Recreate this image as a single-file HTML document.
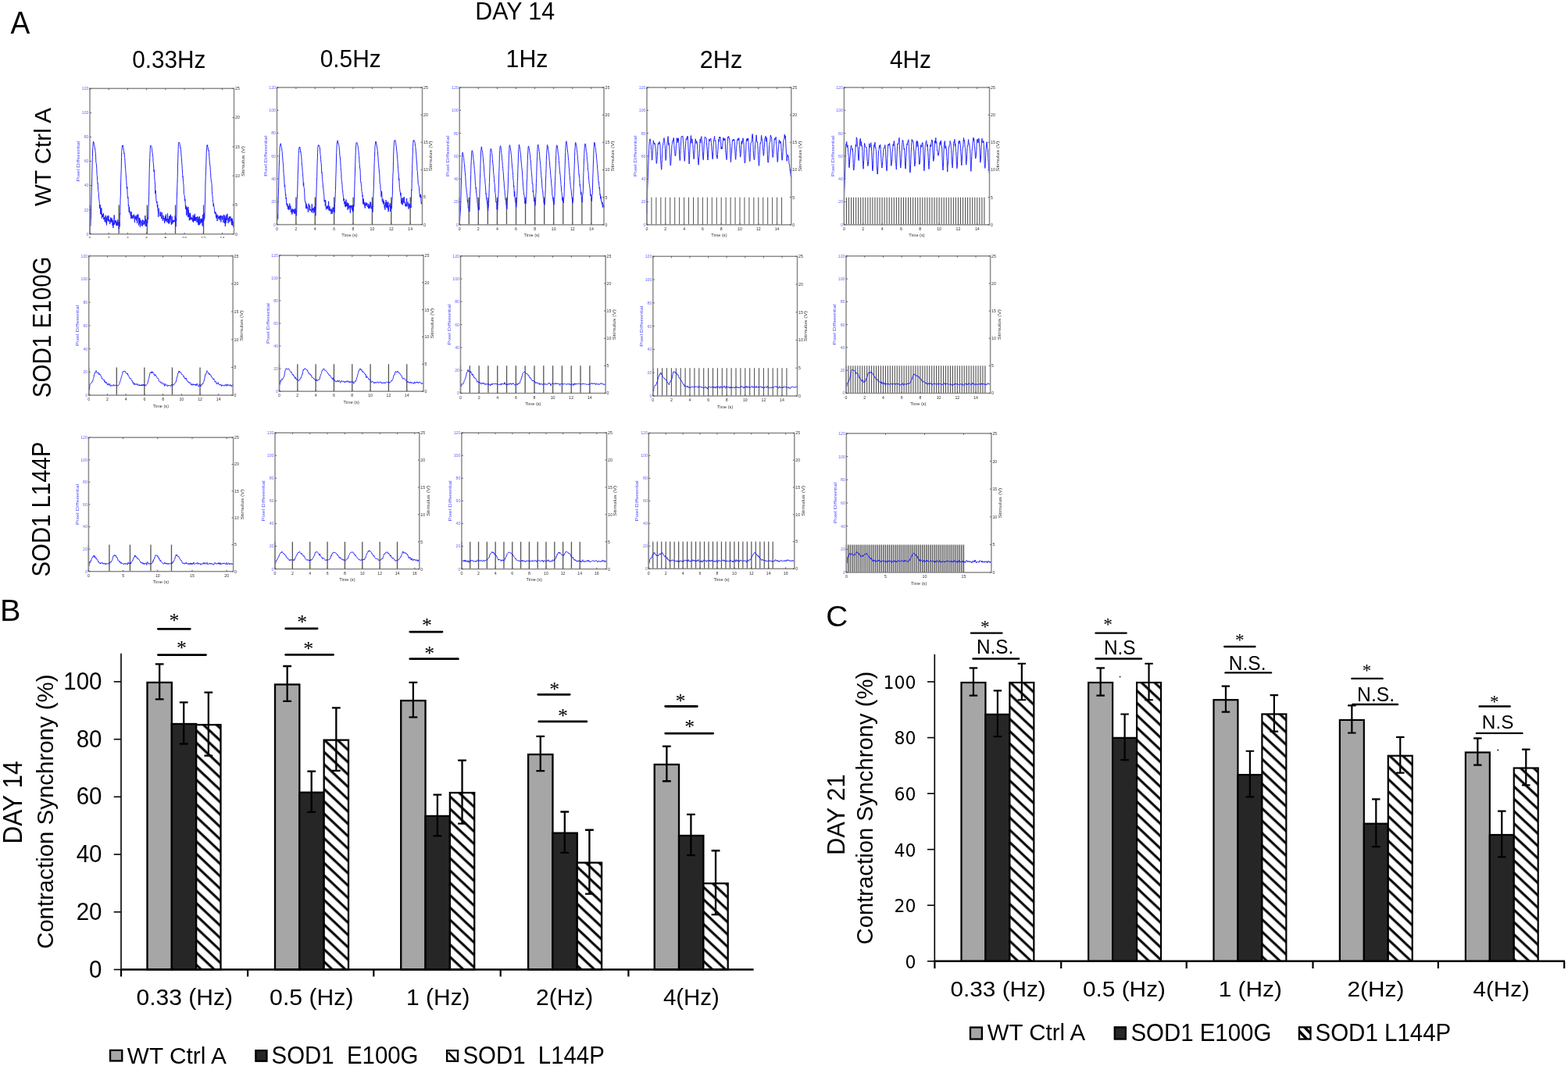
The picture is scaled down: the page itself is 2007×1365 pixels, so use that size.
<!DOCTYPE html>
<html><head><meta charset="utf-8"><title>Figure</title><style>html,body{margin:0;padding:0;background:#fff;}body{width:2007px;height:1365px;overflow:hidden;}svg{display:block;}</style></head><body>
<svg width="2007" height="1365" viewBox="0 0 2007 1365"><rect width="2007" height="1365" fill="#fff"/><defs><pattern id="hatch" patternUnits="userSpaceOnUse" width="11.5" height="11.5" patternTransform="rotate(43.28)"><rect width="11.5" height="11.5" fill="#fff"/><rect y="1.15" width="11.5" height="3.05" fill="#000"/></pattern><pattern id="hatchL" patternUnits="userSpaceOnUse" width="12" height="12" patternTransform="translate(0 1.5) rotate(45)"><rect width="12" height="12" fill="#fff"/><rect y="0" width="12" height="2.6" fill="#000"/></pattern><clipPath id="clipLB"><rect x="572" y="1345" width="14.1" height="13.9"/></clipPath><clipPath id="clipLC"><rect x="1663" y="1315.4" width="14.4" height="15.1"/></clipPath><clipPath id="clipP1"><rect x="100" y="290" width="220" height="15"/></clipPath><filter id="blur" x="-5%" y="-5%" width="110%" height="110%"><feGaussianBlur stdDeviation="0.45"/></filter></defs>
<g filter="url(#blur)">
<path d="M115 299.7V262.42M152.15 299.7V262.42M188.33 299.7V262.42M224.5 299.7V262.42M260.56 299.7V262.42" stroke="#555" stroke-width="1.3" fill="none"/>
<polyline points="115,288.82 115.3,287.62 115.61,289.69 115.91,289.4 116.21,282.05 116.51,275.76 116.81,261.83 117.12,246.38 117.42,239.06 117.72,226.48 118.03,212.05 118.33,201.54 118.63,192.97 118.93,187.56 119.23,182.65 119.54,180.94 119.84,183 120.14,182.73 120.44,185.18 120.75,185.87 121.05,188.23 121.35,188.47 121.66,192.23 121.96,193.07 122.26,196.35 122.56,200.32 122.86,207.87 123.17,208.64 123.47,211.91 123.77,215.84 124.08,223.6 124.38,225.78 124.68,231.33 124.98,235.26 125.28,234.63 125.59,243.52 125.89,245.21 126.19,246.12 126.5,253.78 126.8,255.48 127.1,257.63 127.4,260.38 127.7,267.01 128.01,264.81 128.31,262.3 128.61,274.01 128.91,267.09 129.22,270.99 129.52,274.85 129.82,266.3 130.12,271.62 130.43,279.53 130.73,275.51 131.03,274.21 131.34,277.53 131.64,274.72 131.94,277.89 132.24,275.48 132.55,272.88 132.85,281.09 133.15,278.04 133.45,280.78 133.75,278.77 134.06,283.95 134.36,281.85 134.66,280.58 134.97,276.59 135.27,275.82 135.57,285.39 135.87,283.54 136.18,278.19 136.48,288.44 136.78,282.74 137.08,281.48 137.38,276.42 137.69,278.73 137.99,282.78 138.29,283.07 138.59,282.74 138.9,276.02 139.2,283.68 139.5,283.32 139.81,280.9 140.11,282.85 140.41,283.26 140.71,286.92 141.01,282.75 141.32,284.54 141.62,278.38 141.92,280.47 142.22,283.21 142.53,280.6 142.83,284.63 143.13,279.29 143.44,283.51 143.74,281.29 144.04,288.71 144.34,282.38 144.65,290.44 144.95,291.88 145.25,285.18 145.55,287.59 145.86,283.49 146.16,275.38 146.46,287.55 146.76,286.8 147.06,283.61 147.37,282.54 147.67,285.24 147.97,285.42 148.28,281.9 148.58,282.68 148.88,288.87 149.18,285.16 149.49,284.77 149.79,289.13 150.09,283.99 150.39,288.46 150.69,281.27 151,284.4 151.3,284.86 151.6,287.61 151.91,285.78 152.21,293.28 152.51,289.89 152.81,283.44 153.12,290.22 153.42,273.03 153.72,274.44 154.02,256.12 154.32,249.97 154.63,233.89 154.93,223.89 155.23,215.96 155.53,201.49 155.84,193.63 156.14,189.93 156.44,187.09 156.75,186.47 157.05,187.39 157.35,185.9 157.65,188.55 157.96,189.32 158.26,191.83 158.56,193.7 158.86,196.96 159.17,196.33 159.47,201.31 159.77,202.91 160.07,207.96 160.38,212.99 160.68,216.31 160.98,220.85 161.28,223.81 161.59,228.78 161.89,232.72 162.19,239.44 162.49,241.98 162.8,239.09 163.1,249.04 163.4,253.57 163.7,252.58 164,252.12 164.31,263.78 164.61,262.25 164.91,265.86 165.22,271.68 165.52,264.94 165.82,269.1 166.12,270.13 166.43,274.26 166.73,270.99 167.03,275.49 167.33,274.85 167.63,279.07 167.94,280.08 168.24,271.18 168.54,278.45 168.84,275.88 169.15,277.44 169.45,279.28 169.75,279.82 170.06,275.79 170.36,279.54 170.66,279.19 170.96,278.73 171.26,274.55 171.57,276.61 171.87,277.91 172.17,281.67 172.47,284.95 172.78,276.22 173.08,276.3 173.38,280.68 173.69,278.21 173.99,277.42 174.29,277.37 174.59,277.15 174.9,282.57 175.2,275.11 175.5,285.87 175.8,277.86 176.11,279.4 176.41,278.05 176.71,274.27 177.01,275.9 177.31,286.19 177.62,288.41 177.92,278.79 178.22,286 178.53,282.21 178.83,278.99 179.13,288.75 179.43,290.66 179.74,281.52 180.04,282.45 180.34,283.67 180.64,282.64 180.94,286.24 181.25,288.88 181.55,283.69 181.85,286.92 182.16,289.63 182.46,281.27 182.76,283.57 183.06,281.8 183.37,287.36 183.67,286.12 183.97,287.53 184.27,287.15 184.57,282.96 184.88,286.87 185.18,282.44 185.48,282.56 185.79,275.97 186.09,289.52 186.39,280.56 186.69,284.48 187,284.23 187.3,289.96 187.6,286.09 187.9,281.38 188.21,284.69 188.51,284.09 188.81,285.59 189.11,278.42 189.42,279.04 189.72,280.51 190.02,266.17 190.32,259.67 190.62,251.25 190.93,231.96 191.23,216.61 191.53,208.76 191.84,201.53 192.14,194.02 192.44,187.08 192.74,186.2 193.05,186.26 193.35,186.67 193.65,187.32 193.95,187.57 194.25,189.23 194.56,191.38 194.86,195.07 195.16,195.61 195.47,200.06 195.77,200.61 196.07,207.66 196.37,209.49 196.68,213.08 196.98,219.58 197.28,217.5 197.58,221.93 197.88,230.24 198.19,231.31 198.49,236.13 198.79,247.82 199.09,243.81 199.4,248.11 199.7,250.91 200,257.45 200.31,257.78 200.61,260.04 200.91,257.86 201.21,262.73 201.51,265.73 201.82,262.08 202.12,270.77 202.42,271.49 202.72,277.73 203.03,266.55 203.33,269.56 203.63,270.45 203.94,271.98 204.24,274.59 204.54,274.68 204.84,276.84 205.14,277.04 205.45,276.41 205.75,271.24 206.05,275.08 206.36,277.64 206.66,279.83 206.96,280.25 207.26,271.98 207.56,276.31 207.87,278.15 208.17,279.89 208.47,282.95 208.77,279.15 209.08,275.71 209.38,280.69 209.68,280.2 209.99,280.32 210.29,279.19 210.59,285.85 210.89,280.77 211.19,283.28 211.5,276.72 211.8,283.21 212.1,278.13 212.41,274.59 212.71,281.8 213.01,283.03 213.31,280.07 213.62,280.92 213.92,284.87 214.22,279.33 214.52,273.39 214.82,282.32 215.13,282.2 215.43,285.57 215.73,280.35 216.03,286.55 216.34,286.09 216.64,276.85 216.94,285.47 217.25,277.79 217.55,276.13 217.85,281.16 218.15,280.08 218.46,274.66 218.76,283.16 219.06,284.79 219.36,287.85 219.67,282.43 219.97,276.85 220.27,278.95 220.57,286.5 220.88,286.22 221.18,284.9 221.48,281.82 221.78,283.84 222.08,282.24 222.39,281.96 222.69,284.37 222.99,283.4 223.3,282.47 223.6,283.67 223.9,281.4 224.2,276.03 224.5,281.14 224.81,283.3 225.11,290.09 225.41,279.19 225.72,282.83 226.02,272.77 226.32,255.25 226.62,244.85 226.93,235.4 227.23,226.77 227.53,212.13 227.83,202.18 228.13,191.7 228.44,183.66 228.74,182.34 229.04,182.43 229.35,182.83 229.65,182.3 229.95,183.33 230.25,185.65 230.56,185.89 230.86,189.39 231.16,188.99 231.46,191.7 231.76,194.63 232.07,200.27 232.37,202.33 232.67,207.24 232.97,211.75 233.28,215.83 233.58,222.1 233.88,226.8 234.19,225.91 234.49,232.37 234.79,235.35 235.09,237.06 235.4,248.32 235.7,249.21 236,249.65 236.3,251.99 236.61,257.17 236.91,255.17 237.21,260.11 237.51,266.97 237.81,267.9 238.12,263.55 238.42,266.16 238.72,275.8 239.02,265.32 239.33,268.95 239.63,267.06 239.93,274.08 240.24,274.39 240.54,278.01 240.84,264.91 241.14,275.4 241.44,269.18 241.75,277.86 242.05,275.12 242.35,282.28 242.66,277.69 242.96,272.76 243.26,281.41 243.56,272.82 243.87,275.79 244.17,281.21 244.47,279.33 244.77,279.33 245.07,277.93 245.38,279.95 245.68,281.21 245.98,279.36 246.29,282.28 246.59,283.43 246.89,278.8 247.19,275.36 247.5,284.77 247.8,279 248.1,281.64 248.4,283.03 248.71,276.08 249.01,281.5 249.31,273.81 249.61,282.74 249.91,278.33 250.22,280.82 250.52,282.97 250.82,277.86 251.12,280.84 251.43,277.99 251.73,280.62 252.03,284.76 252.34,281.02 252.64,280.51 252.94,277.05 253.24,284.42 253.55,281.12 253.85,287.79 254.15,278.57 254.45,285.44 254.75,288.36 255.06,281.58 255.36,277.08 255.66,287.49 255.97,285.84 256.27,284.56 256.57,286.14 256.87,280.27 257.17,285.01 257.48,284.73 257.78,279.65 258.08,284.99 258.38,280.35 258.69,285.96 258.99,286.96 259.29,289.49 259.6,274.92 259.9,283.6 260.2,281.41 260.5,282.55 260.81,281.84 261.11,282.22 261.41,272.94 261.71,280.02 262.01,274.83 262.32,263.77 262.62,254.15 262.92,236.97 263.23,225.65 263.53,218.41 263.83,208.79 264.13,198.54 264.44,190.01 264.74,190.63 265.04,185.77 265.34,187.39 265.64,185.67 265.95,188.65 266.25,188.95 266.55,191.8 266.86,193.09 267.16,192.38 267.46,195.54 267.76,200.03 268.06,203.9 268.37,209.03 268.67,210.25 268.97,213.4 269.27,217.4 269.58,221.39 269.88,227.67 270.18,229.33 270.49,233.19 270.79,233.6 271.09,235.59 271.39,244.49 271.7,249.66 272,250.76 272.3,255.33 272.6,258.48 272.9,258.77 273.21,264.25 273.51,260.76 273.81,264.94 274.12,265.3 274.42,268.21 274.72,271.37 275.02,273.26 275.32,271.65 275.63,273.6 275.93,271.46 276.23,272.94 276.54,278.49 276.84,273.67 277.14,279.32 277.44,276.98 277.75,276.1 278.05,283.07 278.35,275.2 278.65,275.21 278.96,276.59 279.26,277.8 279.56,277.8 279.86,280.26 280.16,277.76 280.47,279 280.77,276.7 281.07,281.8 281.38,276.45 281.68,276.95 281.98,278.18 282.28,279.45 282.59,275.79 282.89,284.42 283.19,276.39 283.49,277.35 283.8,277.31 284.1,277.05 284.4,281.16 284.7,279.76 285,276.4 285.31,277.31 285.61,278.28 285.91,285.05 286.22,277.2 286.52,274.84 286.82,275.55 287.12,278.66 287.42,285.73 287.73,276.08 288.03,280.42 288.33,289.81 288.63,278.54 288.94,285.93 289.24,285.24 289.54,282.74 289.85,275.35 290.15,281.86 290.45,279.42 290.75,273.7 291.06,274.37 291.36,281.1 291.66,281.71 291.96,285.78 292.26,283.62 292.57,279.27 292.87,279.45 293.17,280.63 293.48,277.21 293.78,284.23 294.08,281.46 294.38,278.41 294.69,279.04 294.99,277.17 295.29,279.88 295.59,282.72 295.89,280.11 296.2,285.56 296.5,288.13 296.8,279.38 297.11,281.94 297.41,280.55 297.71,288.54 298.01,283.3 298.31,284.27 298.62,285.36 298.92,290.92 299.22,283.33 299.52,278.47" fill="none" stroke="#1a1aff" stroke-width="0.95" stroke-linejoin="round"/>
<rect x="115" y="113.3" width="184.5" height="186.4" fill="none" stroke="#8a8a8a" stroke-width="1.5"/>
<path d="M115 299.7v-2M115 113.3v2M139.2 299.7v-2M139.2 113.3v2M163.4 299.7v-2M163.4 113.3v2M187.6 299.7v-2M187.6 113.3v2M211.8 299.7v-2M211.8 113.3v2M236 299.7v-2M236 113.3v2M260.2 299.7v-2M260.2 113.3v2M284.4 299.7v-2M284.4 113.3v2M115 299.7h2M115 268.63h2M115 237.57h2M115 206.5h2M115 175.43h2M115 144.37h2M115 113.3h2M299.5 299.7h-2M299.5 262.42h-2M299.5 225.14h-2M299.5 187.86h-2M299.5 150.58h-2M299.5 113.3h-2" stroke="#444" stroke-width="0.8" fill="none"/>
<text x="113.5" y="301.6" font-size="5.2" text-anchor="end" fill="#6a6aff" font-family="'Liberation Sans', Arial, sans-serif">0</text>
<text x="113.5" y="270.53" font-size="5.2" text-anchor="end" fill="#6a6aff" font-family="'Liberation Sans', Arial, sans-serif">20</text>
<text x="113.5" y="239.47" font-size="5.2" text-anchor="end" fill="#6a6aff" font-family="'Liberation Sans', Arial, sans-serif">40</text>
<text x="113.5" y="208.4" font-size="5.2" text-anchor="end" fill="#6a6aff" font-family="'Liberation Sans', Arial, sans-serif">60</text>
<text x="113.5" y="177.33" font-size="5.2" text-anchor="end" fill="#6a6aff" font-family="'Liberation Sans', Arial, sans-serif">80</text>
<text x="113.5" y="146.27" font-size="5.2" text-anchor="end" fill="#6a6aff" font-family="'Liberation Sans', Arial, sans-serif">100</text>
<text x="113.5" y="115.2" font-size="5.2" text-anchor="end" fill="#6a6aff" font-family="'Liberation Sans', Arial, sans-serif">120</text>
<text x="301" y="301.6" font-size="5.2" text-anchor="start" fill="#333" font-family="'Liberation Sans', Arial, sans-serif">0</text>
<text x="301" y="264.32" font-size="5.2" text-anchor="start" fill="#333" font-family="'Liberation Sans', Arial, sans-serif">5</text>
<text x="301" y="227.04" font-size="5.2" text-anchor="start" fill="#333" font-family="'Liberation Sans', Arial, sans-serif">10</text>
<text x="301" y="189.76" font-size="5.2" text-anchor="start" fill="#333" font-family="'Liberation Sans', Arial, sans-serif">15</text>
<text x="301" y="152.48" font-size="5.2" text-anchor="start" fill="#333" font-family="'Liberation Sans', Arial, sans-serif">20</text>
<text x="301" y="115.2" font-size="5.2" text-anchor="start" fill="#333" font-family="'Liberation Sans', Arial, sans-serif">25</text>
<g clip-path="url(#clipP1)">
<text x="115" y="306.9" font-size="5.2" text-anchor="middle" fill="#333" font-family="'Liberation Sans', Arial, sans-serif">0</text>
<text x="139.2" y="306.9" font-size="5.2" text-anchor="middle" fill="#333" font-family="'Liberation Sans', Arial, sans-serif">2</text>
<text x="163.4" y="306.9" font-size="5.2" text-anchor="middle" fill="#333" font-family="'Liberation Sans', Arial, sans-serif">4</text>
<text x="187.6" y="306.9" font-size="5.2" text-anchor="middle" fill="#333" font-family="'Liberation Sans', Arial, sans-serif">6</text>
<text x="211.8" y="306.9" font-size="5.2" text-anchor="middle" fill="#333" font-family="'Liberation Sans', Arial, sans-serif">8</text>
<text x="236" y="306.9" font-size="5.2" text-anchor="middle" fill="#333" font-family="'Liberation Sans', Arial, sans-serif">10</text>
<text x="260.2" y="306.9" font-size="5.2" text-anchor="middle" fill="#333" font-family="'Liberation Sans', Arial, sans-serif">12</text>
<text x="284.4" y="306.9" font-size="5.2" text-anchor="middle" fill="#333" font-family="'Liberation Sans', Arial, sans-serif">14</text>
</g>
<text x="102.2" y="206.5" font-size="6.2" text-anchor="middle" fill="#4a4aff" font-family="'Liberation Sans', Arial, sans-serif" transform="rotate(-90 102.2 206.5)" textLength="52" lengthAdjust="spacingAndGlyphs">Pixel Differential</text>
<text x="312.5" y="206.5" font-size="6.2" text-anchor="middle" fill="#333" font-family="'Liberation Sans', Arial, sans-serif" transform="rotate(-90 312.5 206.5)" textLength="39" lengthAdjust="spacingAndGlyphs">Stimulus (V)</text>
</g>
<g filter="url(#blur)">
<path d="M354.5 287.6V252.48M378.88 287.6V252.48M403.26 287.6V252.48M427.64 287.6V252.48M452.02 287.6V252.48M476.4 287.6V252.48M500.78 287.6V252.48M525.16 287.6V252.48" stroke="#555" stroke-width="1.3" fill="none"/>
<polyline points="354.5,279 354.8,282.31 355.11,280.07 355.41,274.64 355.72,279.83 356.02,263.02 356.33,250.65 356.63,238.6 356.94,224.4 357.24,213.81 357.55,204.35 357.85,195.43 358.16,188.53 358.46,186.21 358.77,185.2 359.07,184.4 359.38,183.71 359.68,186.23 359.99,187.26 360.29,188.57 360.6,189.41 360.9,193.2 361.2,194.31 361.51,200.38 361.81,202.97 362.12,206.81 362.42,209.32 362.73,212.95 363.03,221.63 363.34,224.93 363.64,226.71 363.95,232.9 364.25,238.85 364.56,236.73 364.86,241.46 365.17,244.67 365.47,250.14 365.78,248.8 366.08,254.66 366.39,253.03 366.69,260.63 366.99,262.14 367.3,260.44 367.6,264.36 367.91,261.24 368.21,263.36 368.52,267.73 368.82,265.29 369.13,267.13 369.43,263.62 369.74,268.85 370.04,268.57 370.35,263.65 370.65,260.64 370.96,261.61 371.26,267.94 371.57,267.63 371.87,263.61 372.18,269.05 372.48,271.92 372.79,268.57 373.09,267.63 373.39,271.87 373.7,274.62 374,274.07 374.31,267.43 374.61,272.13 374.92,270.25 375.22,269.21 375.53,268 375.83,271.19 376.14,268.58 376.44,273.18 376.75,271.56 377.05,273.8 377.36,266.88 377.66,270.73 377.97,273.13 378.27,271.95 378.58,271.6 378.88,268.67 379.18,276.24 379.49,274.29 379.79,269.56 380.1,255.33 380.4,253.16 380.71,247.15 381.01,235.03 381.32,221.98 381.62,216.08 381.93,206.85 382.23,197.27 382.54,192.61 382.84,189.48 383.15,189.98 383.45,187.94 383.76,188.3 384.06,189.93 384.37,190.86 384.67,194.83 384.98,194.14 385.28,197.25 385.58,199.19 385.89,201.85 386.19,206.45 386.5,211.98 386.8,212.74 387.11,218.44 387.41,221.76 387.72,226.31 388.02,229.78 388.33,237.86 388.63,233.88 388.94,239.52 389.24,240.67 389.55,241.4 389.85,249.15 390.16,256.6 390.46,256.46 390.77,259.4 391.07,259.19 391.37,259.03 391.68,266.53 391.98,260.69 392.29,267.26 392.59,262.58 392.9,264.52 393.2,265.73 393.51,265.48 393.81,267.35 394.12,267.94 394.42,271.62 394.73,266.68 395.03,260.99 395.34,260.75 395.64,263.02 395.95,265.14 396.25,269.69 396.56,263.08 396.86,268 397.17,268.18 397.47,269.01 397.77,267.91 398.08,269.72 398.38,268.7 398.69,272.03 398.99,269.85 399.3,261.39 399.6,269.07 399.91,269.71 400.21,267.31 400.52,266.83 400.82,272.82 401.13,269.97 401.43,266.39 401.74,268.58 402.04,269.14 402.35,264.55 402.65,271.89 402.96,269.48 403.26,271.52 403.56,265.02 403.87,276.21 404.17,269.27 404.48,263.45 404.78,252.26 405.09,243.17 405.39,230.94 405.7,226.2 406,211.11 406.31,203.03 406.61,195.35 406.92,188.32 407.22,186.48 407.53,186.91 407.83,185.48 408.14,186.63 408.44,186.63 408.75,186.82 409.05,188.36 409.36,188.99 409.66,193.13 409.96,197.42 410.27,199.7 410.57,203.41 410.88,207.63 411.18,209.09 411.49,214.88 411.79,221.45 412.1,220.71 412.4,226.34 412.71,229.33 413.01,233.67 413.32,236.05 413.62,240.84 413.93,240.93 414.23,245.84 414.54,248.51 414.84,250.77 415.15,258.1 415.45,256.27 415.75,258.14 416.06,258.13 416.36,264 416.67,255.96 416.97,261.44 417.28,266.2 417.58,268.37 417.89,264.46 418.19,264.29 418.5,266.63 418.8,264.41 419.11,266.99 419.41,263.47 419.72,267.72 420.02,265.74 420.33,262.68 420.63,257.77 420.94,269.32 421.24,267.74 421.55,269.08 421.85,264.01 422.15,270.33 422.46,268.32 422.76,266.98 423.07,270.15 423.37,270.19 423.68,268.75 423.98,274.1 424.29,272.09 424.59,268.85 424.9,267.12 425.2,268.3 425.51,273.54 425.81,269.38 426.12,265.36 426.42,266.22 426.73,268.37 427.03,271.08 427.34,266.2 427.64,270.22 427.94,272.22 428.25,270.86 428.55,260.74 428.86,259.35 429.16,248.8 429.47,243.66 429.77,229.28 430.08,221.2 430.38,209.15 430.69,195.45 430.99,189.68 431.3,185.04 431.6,181.39 431.91,180.5 432.21,179.76 432.52,181.39 432.82,183.22 433.13,183.08 433.43,184.37 433.74,186.26 434.04,187.4 434.34,191.27 434.65,193.84 434.95,199.85 435.26,200.95 435.56,202.98 435.87,209.11 436.17,214.2 436.48,218.63 436.78,219.53 437.09,229.23 437.39,231.45 437.7,233.87 438,236.65 438.31,242.84 438.61,243.9 438.92,248.16 439.22,249.49 439.53,252.34 439.83,257.14 440.13,255.55 440.44,254.3 440.74,261.02 441.05,259.88 441.35,257.99 441.66,264.06 441.96,260.82 442.27,265.21 442.57,258.81 442.88,255.49 443.18,256.71 443.49,264.04 443.79,261.26 444.1,263.44 444.4,263.7 444.71,259.28 445.01,268.58 445.32,261.17 445.62,264.84 445.93,260.32 446.23,264.36 446.53,267.25 446.84,264.33 447.14,262.97 447.45,265.34 447.75,264 448.06,267.36 448.36,272.68 448.67,262.98 448.97,263.73 449.28,265.61 449.58,265.96 449.89,262.91 450.19,267.85 450.5,268.75 450.8,267.15 451.11,262.74 451.41,271.22 451.72,262.88 452.02,268.93 452.32,270.51 452.63,262.45 452.93,264.42 453.24,262.89 453.54,252.26 453.85,239.36 454.15,228.46 454.46,221 454.76,208.74 455.07,198.72 455.37,192.4 455.68,185.56 455.98,182.79 456.29,182.69 456.59,182.65 456.9,182.38 457.2,183.12 457.51,184.74 457.81,186.13 458.12,186.55 458.42,189.78 458.72,191.75 459.03,194.39 459.33,198.52 459.64,199.73 459.94,208.18 460.25,209.59 460.55,215.63 460.86,215.66 461.16,219.84 461.47,231.44 461.77,233.27 462.08,233.16 462.38,236.19 462.69,239.41 462.99,244.36 463.3,245.56 463.6,247.32 463.91,251.42 464.21,250.06 464.51,261.23 464.82,254.1 465.12,260.26 465.43,255.25 465.73,259.7 466.04,262.45 466.34,259.16 466.65,263.67 466.95,264.12 467.26,266.55 467.56,262.03 467.87,260.66 468.17,259.23 468.48,263.13 468.78,259.55 469.09,262.99 469.39,263.51 469.7,261.54 470,260.13 470.31,264.74 470.61,264.56 470.91,264.42 471.22,263.76 471.52,267.04 471.83,260.94 472.13,265.65 472.44,262.98 472.74,267.24 473.05,263.51 473.35,263.5 473.66,266.23 473.96,258.4 474.27,263.84 474.57,259.36 474.88,262.09 475.18,267.45 475.49,266.62 475.79,264.03 476.1,265.32 476.4,265.43 476.7,266.6 477.01,271.51 477.31,263.63 477.62,264.63 477.92,249.12 478.23,242.82 478.53,232.12 478.84,220.02 479.14,208.55 479.45,201.38 479.75,193.5 480.06,186.86 480.36,184.5 480.67,183.05 480.97,180.9 481.28,183.33 481.58,182.56 481.89,185.43 482.19,185.4 482.5,187.9 482.8,189.95 483.1,191.94 483.41,193.49 483.71,198.78 484.02,202.49 484.32,208.02 484.63,209.52 484.93,214.99 485.24,217.03 485.54,222.73 485.85,222.84 486.15,234.79 486.46,234.6 486.76,235.1 487.07,241.25 487.37,245.29 487.68,246.5 487.98,251.91 488.29,249.79 488.59,244.88 488.89,250.13 489.2,258.12 489.5,258.61 489.81,258.2 490.11,254.73 490.42,261.04 490.72,261.24 491.03,256.85 491.33,257.33 491.64,261.56 491.94,264.22 492.25,265.86 492.55,263.42 492.86,268.49 493.16,259.23 493.47,263.79 493.77,260.41 494.08,256.13 494.38,258.49 494.69,266.05 494.99,259.71 495.29,258.91 495.6,265.14 495.9,265.92 496.21,263.32 496.51,268.24 496.82,258.43 497.12,271.05 497.43,266.96 497.73,264.35 498.04,264.3 498.34,263.12 498.65,262.86 498.95,264.52 499.26,260.21 499.56,270.95 499.87,264.07 500.17,266.47 500.48,263.78 500.78,263.56 501.08,267.33 501.39,266.27 501.69,258.92 502,255.14 502.3,250.56 502.61,233.79 502.91,223.17 503.22,220.27 503.52,206.1 503.83,193.42 504.13,187.91 504.44,182.78 504.74,180.02 505.05,179.77 505.35,179.49 505.66,179.97 505.96,179.57 506.27,181.66 506.57,183.23 506.88,185.95 507.18,187.16 507.48,190.88 507.79,193.2 508.09,195.02 508.4,199.59 508.7,203.24 509.01,207.48 509.31,212.1 509.62,216.59 509.92,221.07 510.23,222.81 510.53,230.71 510.84,228.76 511.14,235.24 511.45,240.39 511.75,242.67 512.06,245.83 512.36,245.91 512.67,250.46 512.97,246.96 513.27,254.14 513.58,259.97 513.88,256.59 514.19,261.49 514.49,256.37 514.8,253.7 515.1,255.56 515.41,262.24 515.71,260.9 516.02,253.3 516.32,258.2 516.63,259.46 516.93,256.38 517.24,252.16 517.54,256.01 517.85,259.86 518.15,259.34 518.46,258.65 518.76,262.72 519.07,264.29 519.37,260.86 519.67,264.2 519.98,261.48 520.28,261.09 520.59,253.98 520.89,264.36 521.2,262.12 521.5,262.36 521.81,260.52 522.11,258.64 522.42,263.71 522.72,264.88 523.03,267.63 523.33,265.4 523.64,260.73 523.94,262.4 524.25,265.94 524.55,263.92 524.86,262.68 525.16,261.21 525.46,264.86 525.77,263.54 526.07,266.11 526.38,258.54 526.68,242.74 526.99,243.85 527.29,228.44 527.6,216.32 527.9,206.75 528.21,197.65 528.51,188.7 528.82,182.93 529.12,179.9 529.43,180.89 529.73,179.44 530.04,180.23 530.34,180.68 530.65,181.07 530.95,182.16 531.25,183.77 531.56,187.51 531.86,188.64 532.17,191.31 532.47,194.63 532.78,197.79 533.08,203.87 533.39,207.92 533.69,210.22 534,218.38 534.3,219.38 534.61,224.87 534.91,228.34 535.22,235.19 535.52,236.64 535.83,237.62 536.13,238.08 536.44,240.32 536.74,245.53 537.05,247.89 537.35,251.55 537.65,249.54 537.96,252.8 538.26,251.41 538.57,248.9 538.87,255.15 539.18,260.36 539.48,259.01 539.79,261.39 540.09,261.02 540.4,253.55" fill="none" stroke="#1a1aff" stroke-width="0.95" stroke-linejoin="round"/>
<rect x="354.5" y="112" width="186" height="175.6" fill="none" stroke="#8a8a8a" stroke-width="1.5"/>
<path d="M354.5 287.6v-2M354.5 112v2M378.88 287.6v-2M378.88 112v2M403.26 287.6v-2M403.26 112v2M427.64 287.6v-2M427.64 112v2M452.02 287.6v-2M452.02 112v2M476.4 287.6v-2M476.4 112v2M500.78 287.6v-2M500.78 112v2M525.16 287.6v-2M525.16 112v2M354.5 287.6h2M354.5 258.33h2M354.5 229.07h2M354.5 199.8h2M354.5 170.53h2M354.5 141.27h2M354.5 112h2M540.5 287.6h-2M540.5 252.48h-2M540.5 217.36h-2M540.5 182.24h-2M540.5 147.12h-2M540.5 112h-2" stroke="#444" stroke-width="0.8" fill="none"/>
<text x="353" y="289.5" font-size="5.2" text-anchor="end" fill="#6a6aff" font-family="'Liberation Sans', Arial, sans-serif">0</text>
<text x="353" y="260.23" font-size="5.2" text-anchor="end" fill="#6a6aff" font-family="'Liberation Sans', Arial, sans-serif">20</text>
<text x="353" y="230.97" font-size="5.2" text-anchor="end" fill="#6a6aff" font-family="'Liberation Sans', Arial, sans-serif">40</text>
<text x="353" y="201.7" font-size="5.2" text-anchor="end" fill="#6a6aff" font-family="'Liberation Sans', Arial, sans-serif">60</text>
<text x="353" y="172.43" font-size="5.2" text-anchor="end" fill="#6a6aff" font-family="'Liberation Sans', Arial, sans-serif">80</text>
<text x="353" y="143.17" font-size="5.2" text-anchor="end" fill="#6a6aff" font-family="'Liberation Sans', Arial, sans-serif">100</text>
<text x="353" y="113.9" font-size="5.2" text-anchor="end" fill="#6a6aff" font-family="'Liberation Sans', Arial, sans-serif">120</text>
<text x="542" y="289.5" font-size="5.2" text-anchor="start" fill="#333" font-family="'Liberation Sans', Arial, sans-serif">0</text>
<text x="542" y="254.38" font-size="5.2" text-anchor="start" fill="#333" font-family="'Liberation Sans', Arial, sans-serif">5</text>
<text x="542" y="219.26" font-size="5.2" text-anchor="start" fill="#333" font-family="'Liberation Sans', Arial, sans-serif">10</text>
<text x="542" y="184.14" font-size="5.2" text-anchor="start" fill="#333" font-family="'Liberation Sans', Arial, sans-serif">15</text>
<text x="542" y="149.02" font-size="5.2" text-anchor="start" fill="#333" font-family="'Liberation Sans', Arial, sans-serif">20</text>
<text x="542" y="113.9" font-size="5.2" text-anchor="start" fill="#333" font-family="'Liberation Sans', Arial, sans-serif">25</text>
<text x="354.5" y="294.8" font-size="5.2" text-anchor="middle" fill="#333" font-family="'Liberation Sans', Arial, sans-serif">0</text>
<text x="378.88" y="294.8" font-size="5.2" text-anchor="middle" fill="#333" font-family="'Liberation Sans', Arial, sans-serif">2</text>
<text x="403.26" y="294.8" font-size="5.2" text-anchor="middle" fill="#333" font-family="'Liberation Sans', Arial, sans-serif">4</text>
<text x="427.64" y="294.8" font-size="5.2" text-anchor="middle" fill="#333" font-family="'Liberation Sans', Arial, sans-serif">6</text>
<text x="452.02" y="294.8" font-size="5.2" text-anchor="middle" fill="#333" font-family="'Liberation Sans', Arial, sans-serif">8</text>
<text x="476.4" y="294.8" font-size="5.2" text-anchor="middle" fill="#333" font-family="'Liberation Sans', Arial, sans-serif">10</text>
<text x="500.78" y="294.8" font-size="5.2" text-anchor="middle" fill="#333" font-family="'Liberation Sans', Arial, sans-serif">12</text>
<text x="525.16" y="294.8" font-size="5.2" text-anchor="middle" fill="#333" font-family="'Liberation Sans', Arial, sans-serif">14</text>
<text x="447.5" y="303.1" font-size="5.6" text-anchor="middle" fill="#333" font-family="'Liberation Sans', Arial, sans-serif">Time (s)</text>
<text x="341.7" y="199.8" font-size="6.2" text-anchor="middle" fill="#4a4aff" font-family="'Liberation Sans', Arial, sans-serif" transform="rotate(-90 341.7 199.8)" textLength="52" lengthAdjust="spacingAndGlyphs">Pixel Differential</text>
<text x="553.5" y="199.8" font-size="6.2" text-anchor="middle" fill="#333" font-family="'Liberation Sans', Arial, sans-serif" transform="rotate(-90 553.5 199.8)" textLength="39" lengthAdjust="spacingAndGlyphs">Stimulus (V)</text>
</g>
<g filter="url(#blur)">
<path d="M588.2 287.8V252.64M600.25 287.8V252.64M612.3 287.8V252.64M624.35 287.8V252.64M636.4 287.8V252.64M648.45 287.8V252.64M660.5 287.8V252.64M672.55 287.8V252.64M684.6 287.8V252.64M696.65 287.8V252.64M708.7 287.8V252.64M720.75 287.8V252.64M732.8 287.8V252.64M744.85 287.8V252.64M756.9 287.8V252.64" stroke="#555" stroke-width="1.3" fill="none"/>
<polyline points="588.2,279.94 588.5,284.04 588.8,278.03 589.1,273.01 589.41,270.32 589.71,262.44 590.01,251.7 590.31,239.78 590.61,228.34 590.91,217.44 591.21,208.5 591.51,201.5 591.82,196.73 592.12,195.17 592.42,197.13 592.72,197.53 593.02,198.87 593.32,201.34 593.62,202.75 593.92,206.38 594.23,209.82 594.53,210.93 594.83,214.98 595.13,218.95 595.43,221.8 595.73,225.3 596.03,229.87 596.33,237.28 596.63,238.63 596.94,241.93 597.24,246.22 597.54,247.7 597.84,249.18 598.14,254.94 598.44,258.88 598.74,255.75 599.05,262.65 599.35,266.32 599.65,265.48 599.95,266.88 600.25,270.74 600.55,269.15 600.85,271.03 601.15,268.57 601.46,260.34 601.76,251.46 602.06,244.85 602.36,233.21 602.66,223.66 602.96,210.91 603.26,206.13 603.56,197.87 603.87,194.52 604.17,192.7 604.47,192.86 604.77,194 605.07,195.38 605.37,198.02 605.67,201.09 605.97,203.79 606.28,205.94 606.58,209.1 606.88,211.72 607.18,216.26 607.48,219.25 607.78,222.43 608.08,227.83 608.38,233.8 608.69,237.21 608.99,241.31 609.29,240.29 609.59,247.45 609.89,247.25 610.19,251.3 610.49,252.09 610.79,255.92 611.1,260.34 611.4,262.74 611.7,264.2 612,265.84 612.3,268.88 612.6,269.34 612.9,264.65 613.2,268.69 613.5,258.32 613.81,252.58 614.11,240.93 614.41,229.58 614.71,220.37 615.01,209.5 615.31,202.99 615.61,193.92 615.92,190.54 616.22,187.87 616.52,188.81 616.82,191.84 617.12,192.44 617.42,193.9 617.72,195.38 618.02,199.12 618.33,202.23 618.63,207.1 618.93,208 619.23,211.26 619.53,216.96 619.83,221.18 620.13,226.9 620.43,227.62 620.74,228.88 621.04,235.37 621.34,238.13 621.64,242.69 621.94,248.49 622.24,247.69 622.54,255.08 622.84,255.99 623.15,257.58 623.45,258.7 623.75,261.65 624.05,263.58 624.35,267.56 624.65,270.17 624.95,266.55 625.25,264.9 625.56,260.31 625.86,252.27 626.16,241.48 626.46,233.43 626.76,222.22 627.06,212.66 627.36,202.37 627.66,195.63 627.97,190.29 628.27,190.58 628.57,190.77 628.87,191.07 629.17,193.45 629.47,195.58 629.77,196.51 630.07,200.77 630.38,204.51 630.68,208 630.98,209.96 631.28,213.6 631.58,219.19 631.88,222.65 632.18,224.66 632.48,228.38 632.79,233.8 633.09,235.66 633.39,239.23 633.69,246.35 633.99,247.24 634.29,249.04 634.59,253.6 634.89,259.11 635.2,258.17 635.5,258.44 635.8,258.82 636.1,268.05 636.4,260.11 636.7,269.13 637,263.73 637.3,259.69 637.61,254.46 637.91,248.3 638.21,241.17 638.51,227.92 638.81,219.36 639.11,211.28 639.41,197.49 639.71,192.66 640.02,187.53 640.32,187.31 640.62,186.57 640.92,187.75 641.22,189.43 641.52,192.55 641.82,195.88 642.12,197.92 642.43,202.72 642.73,205.74 643.03,207.65 643.33,212.48 643.63,215.45 643.93,219.28 644.23,220.64 644.53,225.24 644.84,230.85 645.14,232.75 645.44,239.32 645.74,242.12 646.04,243.35 646.34,250.08 646.64,251.33 646.94,255.92 647.25,255.78 647.55,255.15 647.85,261.78 648.15,261.73 648.45,265.66 648.75,267.7 649.05,267.35 649.35,257.72 649.66,250.06 649.96,246.18 650.26,238.92 650.56,226.33 650.86,217.4 651.16,206.26 651.46,198.25 651.76,191.51 652.07,186.83 652.37,185.65 652.67,186.23 652.97,188.36 653.27,189.28 653.57,192.07 653.87,193.66 654.17,197.1 654.48,199.35 654.78,202.37 655.08,207.72 655.38,210.9 655.68,214.94 655.98,216.91 656.28,219.57 656.58,224.49 656.88,229.94 657.19,231.05 657.49,239.14 657.79,237.89 658.09,244.66 658.39,251.44 658.69,244.89 658.99,249.4 659.3,256.67 659.6,256.69 659.9,259.5 660.2,260.74 660.5,265.61 660.8,265.52 661.1,262.18 661.4,259.33 661.71,251.46 662.01,246.02 662.31,232.8 662.61,227.84 662.91,216.16 663.21,208.83 663.51,199.4 663.81,190.65 664.12,187.77 664.42,184.99 664.72,186.01 665.02,187.91 665.32,189.17 665.62,191.37 665.92,193.81 666.22,195.61 666.53,198.71 666.83,203.09 667.13,206.96 667.43,209.46 667.73,213.65 668.03,216.18 668.33,217.94 668.63,224 668.94,228.96 669.24,232.87 669.54,237.5 669.84,241.06 670.14,244.52 670.44,246.6 670.74,249.54 671.04,250.09 671.35,254.63 671.65,256.51 671.95,260.54 672.25,256.76 672.55,260.66 672.85,259.52 673.15,260.48 673.45,255.65 673.76,253.87 674.06,244.36 674.36,232.05 674.66,228.79 674.96,215.48 675.26,205.78 675.56,198.99 675.86,192.32 676.17,187.78 676.47,187.16 676.77,187.17 677.07,189.22 677.37,190.76 677.67,192.76 677.97,194.79 678.27,197.25 678.58,199.95 678.88,204.87 679.18,205 679.48,209.3 679.78,213.39 680.08,218.4 680.38,221.84 680.68,224.73 680.99,228.58 681.29,235.28 681.59,235.07 681.89,234.79 682.19,245.86 682.49,243.95 682.79,247.81 683.09,251.27 683.4,250.82 683.7,257.93 684,257.28 684.3,256.42 684.6,261.41 684.9,263.33 685.2,261.33 685.5,259.27 685.81,249.17 686.11,246.68 686.41,234.22 686.71,227.81 687.01,214.94 687.31,206.44 687.61,200.35 687.91,191.48 688.22,187.83 688.52,185.57 688.82,185.01 689.12,187.93 689.42,189.57 689.72,189.85 690.02,193.16 690.32,194.69 690.62,198.64 690.93,202.96 691.23,205.63 691.53,207.83 691.83,211.76 692.13,216.6 692.43,220.31 692.73,224.29 693.04,228.67 693.34,228.53 693.64,234.92 693.94,240.12 694.24,242.25 694.54,243.14 694.84,246.04 695.14,250.06 695.45,253.47 695.75,254.33 696.05,259.71 696.35,260.81 696.65,258.13 696.95,262.23 697.25,259.5 697.55,254.27 697.86,250.05 698.16,243.89 698.46,231.18 698.76,224.19 699.06,215.81 699.36,205.19 699.66,197.45 699.96,192.02 700.27,187.06 700.57,185.4 700.87,187.16 701.17,187.3 701.47,189 701.77,191.12 702.07,194.39 702.37,196.09 702.68,198.78 702.98,201.83 703.28,206.44 703.58,208.17 703.88,213.88 704.18,216.47 704.48,218.25 704.78,224.58 705.09,228.03 705.39,229.24 705.69,234.9 705.99,238.08 706.29,240.34 706.59,241.82 706.89,250.43 707.19,250.53 707.5,253.26 707.8,255.62 708.1,257.16 708.4,258.94 708.7,258.21 709,262.12 709.3,259.15 709.6,255.25 709.91,252.21 710.21,242.92 710.51,231.43 710.81,224.22 711.11,215.79 711.41,205.8 711.71,198.48 712.01,191.1 712.32,186.53 712.62,185.79 712.92,186.07 713.22,186.45 713.52,189.1 713.82,190.6 714.12,193.82 714.42,196.33 714.73,199.01 715.03,199.74 715.33,205.45 715.63,209.09 715.93,212.77 716.23,216 716.53,218.66 716.83,222.9 717.14,223.88 717.44,229.96 717.74,231.45 718.04,236.48 718.34,239 718.64,245.39 718.94,245.86 719.24,248.28 719.55,250.94 719.85,256.72 720.15,252.84 720.45,257.07 720.75,258.76 721.05,259.81 721.35,258.96 721.65,254.1 721.96,251.91 722.26,243.24 722.56,231.69 722.86,221.91 723.16,212.4 723.46,202.88 723.76,194.56 724.06,187.22 724.37,182.03 724.67,181.53 724.97,180.66 725.27,182.31 725.57,184.79 725.87,185.99 726.17,190.01 726.47,193.01 726.78,195.74 727.08,198.28 727.38,201.68 727.68,205.51 727.98,208.6 728.28,215.02 728.58,215.69 728.88,221.99 729.19,224.77 729.49,228.09 729.79,232.78 730.09,236.56 730.39,239.24 730.69,240.61 730.99,242.36 731.29,245 731.6,250.28 731.9,252.15 732.2,254.44 732.5,253.57 732.8,260.19 733.1,255.03 733.4,257.86 733.7,255.22 734.01,247.18 734.31,238.42 734.61,230.97 734.91,220.32 735.21,211.95 735.51,201.55 735.81,193.68 736.11,188.46 736.42,183.26 736.72,182.27 737.02,182.96 737.32,184.82 737.62,186.04 737.92,187.3 738.22,191.13 738.52,192.29 738.83,195.43 739.13,198.64 739.43,204.39 739.73,205.87 740.03,208.66 740.33,213.97 740.63,216.66 740.93,223.62 741.24,223.16 741.54,228.6 741.84,229.72 742.14,237.27 742.44,236.29 742.74,240.77 743.04,241.67 743.34,247.32 743.65,249.13 743.95,245.85 744.25,253.69 744.55,255.24 744.85,255.98 745.15,258.93 745.45,253.28 745.75,248.99 746.06,248.95 746.36,243.57 746.66,229.57 746.96,220.55 747.26,211.67 747.56,202.5 747.86,196.63 748.16,189.8 748.47,186.44 748.77,184.67 749.07,183.87 749.37,186.07 749.67,185.73 749.97,189.09 750.27,191.87 750.57,193.34 750.88,195.28 751.18,199.43 751.48,204.32 751.78,206.16 752.08,208.54 752.38,214.22 752.68,218.21 752.98,219.47 753.29,224.15 753.59,229.39 753.89,231.68 754.19,235.48 754.49,236.8 754.79,239.95 755.09,240.76 755.39,243.97 755.7,250.44 756,248.83 756.3,249.76 756.6,252.31 756.9,252.68 757.2,257.25 757.5,257.54 757.8,250.02 758.11,248.91 758.41,243.52 758.71,228.85 759.01,222.25 759.31,211.95 759.61,203.96 759.91,195.69 760.21,189.12 760.52,184.35 760.82,182.15 761.12,184.38 761.42,183.72 761.72,186.54 762.02,188.43 762.32,189.46 762.62,192.59 762.93,196.68 763.23,196.79 763.53,202.57 763.83,204.9 764.13,208.46 764.43,210.61 764.73,216.46 765.03,218.14 765.34,224.05 765.64,224.82 765.94,230.96 766.24,233.56 766.54,232.86 766.84,238.31 767.14,241.33 767.44,239.92 767.75,245.6 768.05,249.92 768.35,248.84 768.65,254.32 768.95,251.26 769.25,252.45 769.55,257.32 769.85,258.54 770.16,257.83 770.46,259.02 770.76,261.89 771.06,259.23 771.36,265.45 771.66,262.48 771.96,262.87 772.26,262.98 772.57,262.05 772.87,265.75 773.17,262.01" fill="none" stroke="#1a1aff" stroke-width="0.95" stroke-linejoin="round"/>
<rect x="588.2" y="112" width="184.8" height="175.8" fill="none" stroke="#8a8a8a" stroke-width="1.5"/>
<path d="M588.2 287.8v-2M588.2 112v2M612.3 287.8v-2M612.3 112v2M636.4 287.8v-2M636.4 112v2M660.5 287.8v-2M660.5 112v2M684.6 287.8v-2M684.6 112v2M708.7 287.8v-2M708.7 112v2M732.8 287.8v-2M732.8 112v2M756.9 287.8v-2M756.9 112v2M588.2 287.8h2M588.2 258.5h2M588.2 229.2h2M588.2 199.9h2M588.2 170.6h2M588.2 141.3h2M588.2 112h2M773 287.8h-2M773 252.64h-2M773 217.48h-2M773 182.32h-2M773 147.16h-2M773 112h-2" stroke="#444" stroke-width="0.8" fill="none"/>
<text x="586.7" y="289.7" font-size="5.2" text-anchor="end" fill="#6a6aff" font-family="'Liberation Sans', Arial, sans-serif">0</text>
<text x="586.7" y="260.4" font-size="5.2" text-anchor="end" fill="#6a6aff" font-family="'Liberation Sans', Arial, sans-serif">20</text>
<text x="586.7" y="231.1" font-size="5.2" text-anchor="end" fill="#6a6aff" font-family="'Liberation Sans', Arial, sans-serif">40</text>
<text x="586.7" y="201.8" font-size="5.2" text-anchor="end" fill="#6a6aff" font-family="'Liberation Sans', Arial, sans-serif">60</text>
<text x="586.7" y="172.5" font-size="5.2" text-anchor="end" fill="#6a6aff" font-family="'Liberation Sans', Arial, sans-serif">80</text>
<text x="586.7" y="143.2" font-size="5.2" text-anchor="end" fill="#6a6aff" font-family="'Liberation Sans', Arial, sans-serif">100</text>
<text x="586.7" y="113.9" font-size="5.2" text-anchor="end" fill="#6a6aff" font-family="'Liberation Sans', Arial, sans-serif">120</text>
<text x="774.5" y="289.7" font-size="5.2" text-anchor="start" fill="#333" font-family="'Liberation Sans', Arial, sans-serif">0</text>
<text x="774.5" y="254.54" font-size="5.2" text-anchor="start" fill="#333" font-family="'Liberation Sans', Arial, sans-serif">5</text>
<text x="774.5" y="219.38" font-size="5.2" text-anchor="start" fill="#333" font-family="'Liberation Sans', Arial, sans-serif">10</text>
<text x="774.5" y="184.22" font-size="5.2" text-anchor="start" fill="#333" font-family="'Liberation Sans', Arial, sans-serif">15</text>
<text x="774.5" y="149.06" font-size="5.2" text-anchor="start" fill="#333" font-family="'Liberation Sans', Arial, sans-serif">20</text>
<text x="774.5" y="113.9" font-size="5.2" text-anchor="start" fill="#333" font-family="'Liberation Sans', Arial, sans-serif">25</text>
<text x="588.2" y="295" font-size="5.2" text-anchor="middle" fill="#333" font-family="'Liberation Sans', Arial, sans-serif">0</text>
<text x="612.3" y="295" font-size="5.2" text-anchor="middle" fill="#333" font-family="'Liberation Sans', Arial, sans-serif">2</text>
<text x="636.4" y="295" font-size="5.2" text-anchor="middle" fill="#333" font-family="'Liberation Sans', Arial, sans-serif">4</text>
<text x="660.5" y="295" font-size="5.2" text-anchor="middle" fill="#333" font-family="'Liberation Sans', Arial, sans-serif">6</text>
<text x="684.6" y="295" font-size="5.2" text-anchor="middle" fill="#333" font-family="'Liberation Sans', Arial, sans-serif">8</text>
<text x="708.7" y="295" font-size="5.2" text-anchor="middle" fill="#333" font-family="'Liberation Sans', Arial, sans-serif">10</text>
<text x="732.8" y="295" font-size="5.2" text-anchor="middle" fill="#333" font-family="'Liberation Sans', Arial, sans-serif">12</text>
<text x="756.9" y="295" font-size="5.2" text-anchor="middle" fill="#333" font-family="'Liberation Sans', Arial, sans-serif">14</text>
<text x="680.6" y="303.3" font-size="5.6" text-anchor="middle" fill="#333" font-family="'Liberation Sans', Arial, sans-serif">Time (s)</text>
<text x="575.4" y="199.9" font-size="6.2" text-anchor="middle" fill="#4a4aff" font-family="'Liberation Sans', Arial, sans-serif" transform="rotate(-90 575.4 199.9)" textLength="52" lengthAdjust="spacingAndGlyphs">Pixel Differential</text>
<text x="786" y="199.9" font-size="6.2" text-anchor="middle" fill="#333" font-family="'Liberation Sans', Arial, sans-serif" transform="rotate(-90 786 199.9)" textLength="39" lengthAdjust="spacingAndGlyphs">Stimulus (V)</text>
</g>
<g filter="url(#blur)">
<path d="M828 287.8V252.64M833.95 287.8V252.64M839.9 287.8V252.64M845.85 287.8V252.64M851.8 287.8V252.64M857.75 287.8V252.64M863.7 287.8V252.64M869.65 287.8V252.64M875.6 287.8V252.64M881.55 287.8V252.64M887.5 287.8V252.64M893.45 287.8V252.64M899.4 287.8V252.64M905.35 287.8V252.64M911.3 287.8V252.64M917.25 287.8V252.64M923.2 287.8V252.64M929.15 287.8V252.64M935.1 287.8V252.64M941.05 287.8V252.64M947 287.8V252.64M952.95 287.8V252.64M958.9 287.8V252.64M964.85 287.8V252.64M970.8 287.8V252.64M976.75 287.8V252.64M982.7 287.8V252.64M988.65 287.8V252.64M994.6 287.8V252.64M1000.55 287.8V252.64" stroke="#555" stroke-width="1" fill="none"/>
<polyline points="828,273.15 828.3,252.27 828.6,243.89 828.89,237.07 829.19,230.12 829.49,221.28 829.78,213.09 830.08,205.54 830.38,199.03 830.68,191.1 830.98,183.95 831.27,181.54 831.57,180.57 831.87,178.23 832.16,177.79 832.46,181.24 832.76,182.48 833.06,184.48 833.36,187.03 833.65,192.57 833.95,196.79 834.25,201.79 834.54,205.11 834.84,203.85 835.14,198.49 835.44,192.44 835.74,189.86 836.03,184.14 836.33,179.84 836.63,181.37 836.92,183.14 837.22,183.45 837.52,184.69 837.82,182.95 838.12,183.67 838.41,184.87 838.71,186.2 839.01,188.98 839.3,192.02 839.6,194.4 839.9,203.17 840.2,209.44 840.5,208.92 840.79,206.59 841.09,203.23 841.39,198.63 841.68,193.33 841.98,187.91 842.28,183.69 842.58,183.56 842.88,182.78 843.17,182.83 843.47,184.93 843.77,183.8 844.07,181.42 844.36,182.99 844.66,183.79 844.96,185.6 845.25,194.21 845.55,204.27 845.85,208.14 846.15,210.72 846.45,215.86 846.74,217.3 847.04,211.62 847.34,203.28 847.63,197.19 847.93,190.66 848.23,186.6 848.53,186.52 848.83,183 849.12,182.2 849.42,179.46 849.72,177.69 850.01,176.57 850.31,178.32 850.61,180.74 850.91,184.29 851.21,186.6 851.5,190.45 851.8,200.16 852.1,205.42 852.39,204.6 852.69,202.33 852.99,196.44 853.29,189.36 853.59,186.72 853.88,184.08 854.18,182.19 854.48,180.35 854.77,177.98 855.07,174.6 855.37,178.16 855.67,184.62 855.97,185.74 856.26,183.26 856.56,185.56 856.86,190.06 857.15,193.92 857.45,198.69 857.75,204.88 858.05,211.36 858.35,211.86 858.64,209.6 858.94,206.51 859.24,201.19 859.53,195.17 859.83,187.38 860.13,185.32 860.43,184.78 860.73,181.14 861.02,181.48 861.32,179.41 861.62,180.4 861.91,179.02 862.21,176.41 862.51,179.01 862.81,185.28 863.11,190.86 863.4,192.06 863.7,193.26 864,197.85 864.29,199.84 864.59,199.7 864.89,197.96 865.19,192.22 865.49,186.52 865.78,184.72 866.08,181.61 866.38,176.61 866.67,179.05 866.97,182.6 867.27,177.94 867.57,177 867.87,180.74 868.16,179.23 868.46,177.23 868.76,181.91 869.06,183.97 869.35,189.09 869.65,198.94 869.95,203.47 870.25,205.52 870.54,205.02 870.84,198.62 871.14,192.35 871.43,187.53 871.73,179.84 872.03,175.13 872.33,174.88 872.62,174.87 872.92,175.23 873.22,174.05 873.52,174.73 873.82,174.28 874.11,176.01 874.41,180.31 874.71,183.96 875,188.98 875.3,192.62 875.6,196.45 875.9,202.7 876.2,206.38 876.49,204.24 876.79,200.58 877.09,195.45 877.38,188.18 877.68,184.01 877.98,180.87 878.28,177.05 878.58,177.61 878.87,178.92 879.17,178.5 879.47,174.62 879.76,174.66 880.06,175.62 880.36,174.68 880.66,180.79 880.96,188.75 881.25,193.94 881.55,197.19 881.85,205.19 882.14,209.9 882.44,205.25 882.74,199.06 883.04,190.64 883.34,184.78 883.63,181.14 883.93,178.54 884.23,174.77 884.52,173.53 884.82,179.24 885.12,183.31 885.42,180.53 885.72,177.85 886.01,178.51 886.31,182.32 886.61,183.6 886.9,185.49 887.2,191.5 887.5,197.39 887.8,200.46 888.1,203.69 888.39,202.86 888.69,198.56 888.99,194.74 889.28,188.03 889.58,184.61 889.88,182.13 890.18,177.77 890.48,179.08 890.77,181.33 891.07,183.59 891.37,181.92 891.66,180.69 891.96,181.42 892.26,182.53 892.56,186.72 892.86,192.59 893.15,200.1 893.45,205.57 893.75,207.88 894.05,211.19 894.34,208.11 894.64,201.99 894.94,201.16 895.24,195.9 895.53,189.21 895.83,184.78 896.13,178.01 896.42,179.68 896.72,182.85 897.02,176.94 897.32,176.57 897.62,175.44 897.91,174.63 898.21,178.22 898.51,180.77 898.81,185.36 899.1,193.01 899.4,196.15 899.7,200.01 900,204.48 900.29,204.74 900.59,199.65 900.89,192.82 901.18,184.75 901.48,181.75 901.78,179.74 902.08,175.78 902.38,175.2 902.67,175.32 902.97,175.9 903.27,175.87 903.57,176.83 903.86,177.1 904.16,176.99 904.46,182.72 904.75,187.25 905.05,189.91 905.35,196.91 905.65,201.53 905.95,205.02 906.24,202.87 906.54,197.62 906.84,191.54 907.13,187.73 907.43,182.63 907.73,177.87 908.03,178.98 908.33,179.93 908.62,180.59 908.92,179.01 909.22,178.68 909.51,177.23 909.81,177.16 910.11,180.42 910.41,183.34 910.71,187.1 911,192.18 911.3,194.16 911.6,197.79 911.89,202.3 912.19,203.76 912.49,200.98 912.79,195.37 913.09,186.83 913.38,181.13 913.68,179.22 913.98,177.69 914.27,177.22 914.57,174.42 914.87,178.4 915.17,180.74 915.47,180.98 915.76,179.76 916.06,181.35 916.36,186.76 916.65,191.56 916.95,197.39 917.25,200.39 917.55,199.15 917.85,202.65 918.14,203.3 918.44,197.51 918.74,194.77 919.03,190.02 919.33,184.54 919.63,182.39 919.93,178.18 920.23,179.4 920.52,181.42 920.82,175.28 921.12,176.57 921.41,176.87 921.71,175.2 922.01,176.1 922.31,178.63 922.61,180.93 922.9,188.07 923.2,190.87 923.5,187.96 923.8,189.7 924.09,190.33 924.39,190.66 924.69,188.32 924.99,183.68 925.28,181.28 925.58,176.98 925.88,176.36 926.17,177.55 926.47,178.98 926.77,179.94 927.07,177.25 927.37,178.07 927.66,179.63 927.96,177.59 928.26,181.3 928.56,190.1 928.85,195.7 929.15,198.86 929.45,199.56 929.75,202.44 930.04,204.52 930.34,200.92 930.64,192.34 930.93,186.85 931.23,181.48 931.53,175.3 931.83,175.71 932.12,176.27 932.42,175.28 932.72,174.4 933.02,176.83 933.32,177.41 933.61,176.96 933.91,181.03 934.21,183.41 934.5,187.48 934.8,195.04 935.1,203.04 935.4,207.57 935.7,205.16 935.99,199.55 936.29,196.04 936.59,190.95 936.88,186.42 937.18,183.31 937.48,179.21 937.78,179.12 938.08,180.37 938.37,178.71 938.67,178.36 938.97,179.93 939.26,179.04 939.56,178.37 939.86,178.78 940.16,181.07 940.46,187.06 940.75,192.2 941.05,197.39 941.35,202.47 941.64,204.27 941.94,200.87 942.24,195.45 942.54,189.37 942.84,187.19 943.13,185.25 943.43,180.89 943.73,178.87 944.02,178.51 944.32,179.36 944.62,177.98 944.92,177.05 945.22,179.73 945.51,178.53 945.81,176.71 946.11,181.57 946.4,185.43 946.7,190.27 947,194.52 947.3,197.3 947.6,201.18 947.89,200.1 948.19,196.58 948.49,191.17 948.78,185.29 949.08,181.85 949.38,180.55 949.68,184.44 949.98,183.21 950.27,180.77 950.57,181 950.87,176.93 951.16,176.97 951.46,179.54 951.76,181.77 952.06,184.82 952.36,190.71 952.65,198.15 952.95,205.54 953.25,208.3 953.55,208.99 953.84,207.39 954.14,202.56 954.44,196.87 954.74,189.93 955.03,184 955.33,179.27 955.63,177.95 955.92,179.45 956.22,180.74 956.52,177.61 956.82,176.94 957.12,179.64 957.41,177.74 957.71,177.27 958.01,181.44 958.31,188.09 958.6,191.52 958.9,196.37 959.2,203.23 959.5,205.63 959.79,206.63 960.09,203.77 960.39,195.4 960.68,187.2 960.98,183.42 961.28,182.61 961.58,182.84 961.88,181.25 962.17,181.2 962.47,177.53 962.77,174.02 963.07,171.5 963.36,172.37 963.66,178.51 963.96,184.07 964.25,193.03 964.55,199.13 964.85,201.23 965.15,204 965.45,204.75 965.74,203.45 966.04,199.11 966.34,192.5 966.63,184.37 966.93,181.58 967.23,180.94 967.53,179.84 967.83,176.55 968.12,172.86 968.42,177.98 968.72,181.34 969.01,182.21 969.31,181.43 969.61,183.16 969.91,186.46 970.21,191.22 970.5,198.28 970.8,204.66 971.1,208.91 971.39,212.34 971.69,210.93 971.99,206.02 972.29,197.95 972.59,190.94 972.88,186.28 973.18,183.08 973.48,183.88 973.77,181.61 974.07,180.95 974.37,175.32 974.67,173.33 974.97,176.55 975.26,178.79 975.56,178.49 975.86,180.93 976.15,185.99 976.45,189.15 976.75,193.17 977.05,197.61 977.35,199.34 977.64,197.97 977.94,194.45 978.24,189.6 978.53,182.54 978.83,178.29 979.13,177.08 979.43,177.36 979.73,176.12 980.02,174.13 980.32,179.55 980.62,181.06 980.91,180.06 981.21,176.16 981.51,178.79 981.81,184.81 982.11,188.88 982.4,199.1 982.7,205.79 983,208.04 983.3,208.1 983.59,205.73 983.89,203.89 984.19,197.49 984.49,189.91 984.78,185.39 985.08,182.55 985.38,182.13 985.67,181.88 985.97,178.93 986.27,173.1 986.57,173.19 986.87,175.55 987.16,175.32 987.46,175.61 987.76,177.68 988.06,181.93 988.35,189.8 988.65,196.43 988.95,200.16 989.25,201.63 989.54,200.07 989.84,197.41 990.14,194.99 990.43,189.36 990.73,184.93 991.03,181.22 991.33,177.19 991.62,179.11 991.92,178.12 992.22,177.53 992.52,178.33 992.82,177.33 993.11,175.37 993.41,180.57 993.71,184.48 994,186.7 994.3,193.15 994.6,198.15 994.9,203.91 995.2,207.54 995.49,206.11 995.79,202.1 996.09,195.46 996.38,190.78 996.68,187.61 996.98,182.09 997.28,179.45 997.58,179.28 997.87,181.66 998.17,183.64 998.47,181.85 998.76,180.82 999.06,181.29 999.36,181.4 999.66,183.47 999.96,189.13 1000.25,194.63 1000.55,199.34 1000.85,204.21 1001.14,205.22 1001.44,202.4 1001.74,199.49 1002.04,194.41 1002.34,188.31 1002.63,182.58 1002.93,179.23 1003.23,178.76 1003.52,178.43 1003.82,178.7 1004.12,172.18 1004.42,172.38 1004.72,176.94 1005.01,175.53 1005.31,173.93 1005.61,180.12 1005.9,185.01 1006.2,191.92 1006.5,195.94 1006.8,199.54 1007.1,206.34 1007.39,206.18 1007.69,203.06 1007.99,199.25 1008.28,197.91 1008.58,200.59 1008.88,200.09 1009.18,200.18 1009.48,202.58 1009.77,205.88 1010.07,210.04 1010.37,210.22 1010.66,213.39 1010.96,215.75 1011.26,217.69 1011.56,219.99 1011.86,222.42 1012.15,225.06 1012.45,226.64 1012.75,227.74" fill="none" stroke="#1a1aff" stroke-width="0.95" stroke-linejoin="round"/>
<rect x="828" y="112" width="184.8" height="175.8" fill="none" stroke="#8a8a8a" stroke-width="1.5"/>
<path d="M828 287.8v-2M828 112v2M851.8 287.8v-2M851.8 112v2M875.6 287.8v-2M875.6 112v2M899.4 287.8v-2M899.4 112v2M923.2 287.8v-2M923.2 112v2M947 287.8v-2M947 112v2M970.8 287.8v-2M970.8 112v2M994.6 287.8v-2M994.6 112v2M828 287.8h2M828 258.5h2M828 229.2h2M828 199.9h2M828 170.6h2M828 141.3h2M828 112h2M1012.8 287.8h-2M1012.8 252.64h-2M1012.8 217.48h-2M1012.8 182.32h-2M1012.8 147.16h-2M1012.8 112h-2" stroke="#444" stroke-width="0.8" fill="none"/>
<text x="826.5" y="289.7" font-size="5.2" text-anchor="end" fill="#6a6aff" font-family="'Liberation Sans', Arial, sans-serif">0</text>
<text x="826.5" y="260.4" font-size="5.2" text-anchor="end" fill="#6a6aff" font-family="'Liberation Sans', Arial, sans-serif">20</text>
<text x="826.5" y="231.1" font-size="5.2" text-anchor="end" fill="#6a6aff" font-family="'Liberation Sans', Arial, sans-serif">40</text>
<text x="826.5" y="201.8" font-size="5.2" text-anchor="end" fill="#6a6aff" font-family="'Liberation Sans', Arial, sans-serif">60</text>
<text x="826.5" y="172.5" font-size="5.2" text-anchor="end" fill="#6a6aff" font-family="'Liberation Sans', Arial, sans-serif">80</text>
<text x="826.5" y="143.2" font-size="5.2" text-anchor="end" fill="#6a6aff" font-family="'Liberation Sans', Arial, sans-serif">100</text>
<text x="826.5" y="113.9" font-size="5.2" text-anchor="end" fill="#6a6aff" font-family="'Liberation Sans', Arial, sans-serif">120</text>
<text x="1014.3" y="289.7" font-size="5.2" text-anchor="start" fill="#333" font-family="'Liberation Sans', Arial, sans-serif">0</text>
<text x="1014.3" y="254.54" font-size="5.2" text-anchor="start" fill="#333" font-family="'Liberation Sans', Arial, sans-serif">5</text>
<text x="1014.3" y="219.38" font-size="5.2" text-anchor="start" fill="#333" font-family="'Liberation Sans', Arial, sans-serif">10</text>
<text x="1014.3" y="184.22" font-size="5.2" text-anchor="start" fill="#333" font-family="'Liberation Sans', Arial, sans-serif">15</text>
<text x="1014.3" y="149.06" font-size="5.2" text-anchor="start" fill="#333" font-family="'Liberation Sans', Arial, sans-serif">20</text>
<text x="1014.3" y="113.9" font-size="5.2" text-anchor="start" fill="#333" font-family="'Liberation Sans', Arial, sans-serif">25</text>
<text x="828" y="295" font-size="5.2" text-anchor="middle" fill="#333" font-family="'Liberation Sans', Arial, sans-serif">0</text>
<text x="851.8" y="295" font-size="5.2" text-anchor="middle" fill="#333" font-family="'Liberation Sans', Arial, sans-serif">2</text>
<text x="875.6" y="295" font-size="5.2" text-anchor="middle" fill="#333" font-family="'Liberation Sans', Arial, sans-serif">4</text>
<text x="899.4" y="295" font-size="5.2" text-anchor="middle" fill="#333" font-family="'Liberation Sans', Arial, sans-serif">6</text>
<text x="923.2" y="295" font-size="5.2" text-anchor="middle" fill="#333" font-family="'Liberation Sans', Arial, sans-serif">8</text>
<text x="947" y="295" font-size="5.2" text-anchor="middle" fill="#333" font-family="'Liberation Sans', Arial, sans-serif">10</text>
<text x="970.8" y="295" font-size="5.2" text-anchor="middle" fill="#333" font-family="'Liberation Sans', Arial, sans-serif">12</text>
<text x="994.6" y="295" font-size="5.2" text-anchor="middle" fill="#333" font-family="'Liberation Sans', Arial, sans-serif">14</text>
<text x="920.4" y="303.3" font-size="5.6" text-anchor="middle" fill="#333" font-family="'Liberation Sans', Arial, sans-serif">Time (s)</text>
<text x="815.2" y="199.9" font-size="6.2" text-anchor="middle" fill="#4a4aff" font-family="'Liberation Sans', Arial, sans-serif" transform="rotate(-90 815.2 199.9)" textLength="52" lengthAdjust="spacingAndGlyphs">Pixel Differential</text>
<text x="1025.8" y="199.9" font-size="6.2" text-anchor="middle" fill="#333" font-family="'Liberation Sans', Arial, sans-serif" transform="rotate(-90 1025.8 199.9)" textLength="39" lengthAdjust="spacingAndGlyphs">Stimulus (V)</text>
</g>
<g filter="url(#blur)">
<path d="M1080.4 287.8V252.64M1083.44 287.8V252.64M1086.49 287.8V252.64M1089.53 287.8V252.64M1092.57 287.8V252.64M1095.61 287.8V252.64M1098.66 287.8V252.64M1101.7 287.8V252.64M1104.74 287.8V252.64M1107.78 287.8V252.64M1110.83 287.8V252.64M1113.87 287.8V252.64M1116.91 287.8V252.64M1119.95 287.8V252.64M1123 287.8V252.64M1126.04 287.8V252.64M1129.08 287.8V252.64M1132.12 287.8V252.64M1135.17 287.8V252.64M1138.21 287.8V252.64M1141.25 287.8V252.64M1144.29 287.8V252.64M1147.34 287.8V252.64M1150.38 287.8V252.64M1153.42 287.8V252.64M1156.46 287.8V252.64M1159.51 287.8V252.64M1162.55 287.8V252.64M1165.59 287.8V252.64M1168.63 287.8V252.64M1171.68 287.8V252.64M1174.72 287.8V252.64M1177.76 287.8V252.64M1180.8 287.8V252.64M1183.85 287.8V252.64M1186.89 287.8V252.64M1189.93 287.8V252.64M1192.97 287.8V252.64M1196.02 287.8V252.64M1199.06 287.8V252.64M1202.1 287.8V252.64M1205.14 287.8V252.64M1208.19 287.8V252.64M1211.23 287.8V252.64M1214.27 287.8V252.64M1217.31 287.8V252.64M1220.36 287.8V252.64M1223.4 287.8V252.64M1226.44 287.8V252.64M1229.48 287.8V252.64M1232.53 287.8V252.64M1235.57 287.8V252.64M1238.61 287.8V252.64M1241.65 287.8V252.64M1244.7 287.8V252.64M1247.74 287.8V252.64M1250.78 287.8V252.64M1253.82 287.8V252.64M1256.87 287.8V252.64M1259.91 287.8V252.64" stroke="#555" stroke-width="1.1" fill="none"/>
<polyline points="1080.4,267.29 1080.7,245.77 1081.01,238.74 1081.31,230.58 1081.62,220.92 1081.92,212.85 1082.23,203.07 1082.53,188.12 1082.83,184.72 1083.14,185.78 1083.44,182.07 1083.75,181.36 1084.05,187.42 1084.36,188.91 1084.66,186.9 1084.96,185.75 1085.27,188.7 1085.57,195.19 1085.88,197.85 1086.18,200.61 1086.49,207.52 1086.79,214.11 1087.09,214.76 1087.4,210.92 1087.7,204.95 1088.01,200.7 1088.31,196.02 1088.61,190.11 1088.92,189.62 1089.22,188.05 1089.53,186.01 1089.83,186.95 1090.14,189.75 1090.44,191.33 1090.74,192.24 1091.05,190.27 1091.35,192.06 1091.66,195.27 1091.96,203.55 1092.27,214.27 1092.57,217.84 1092.87,218.03 1093.18,214.76 1093.48,210.69 1093.79,209.22 1094.09,202.22 1094.4,196.47 1094.7,196.16 1095,188.77 1095.31,185.21 1095.61,187.99 1095.92,187.61 1096.22,175.82 1096.53,176.29 1096.83,177.52 1097.13,180.67 1097.44,187.27 1097.74,187.72 1098.05,188.91 1098.35,196.25 1098.66,202.83 1098.96,205.36 1099.26,205.5 1099.57,199.21 1099.87,191.33 1100.18,187.1 1100.48,182.88 1100.78,179.1 1101.09,177.5 1101.39,177.52 1101.7,180.04 1102,186.68 1102.31,181.46 1102.61,183.14 1102.91,187.24 1103.22,186.59 1103.52,188.07 1103.83,193.44 1104.13,203.56 1104.44,209.7 1104.74,213.17 1105.04,216.32 1105.35,211.32 1105.65,205.5 1105.96,198.88 1106.26,187.69 1106.57,183.4 1106.87,184.63 1107.17,186.13 1107.48,187.95 1107.78,188.16 1108.09,188.67 1108.39,188.72 1108.7,189.08 1109,188.47 1109.3,191.05 1109.61,196.78 1109.91,202.94 1110.22,206.5 1110.52,210.08 1110.83,212.65 1111.13,211.2 1111.43,209.97 1111.74,204.82 1112.04,200.04 1112.35,191.86 1112.65,183.81 1112.95,185.56 1113.26,188.4 1113.56,187.29 1113.87,188.37 1114.17,187.66 1114.48,183.62 1114.78,182.64 1115.08,185.87 1115.39,187.6 1115.69,193.81 1116,202.13 1116.3,209.12 1116.61,217.28 1116.91,218.87 1117.21,217.89 1117.52,210.55 1117.82,202.46 1118.13,194.56 1118.43,189 1118.74,187.03 1119.04,185.16 1119.34,187.49 1119.65,185.25 1119.95,182.1 1120.26,189.33 1120.56,188.62 1120.87,188.42 1121.17,191.81 1121.47,193.71 1121.78,198.98 1122.08,209.96 1122.39,215.98 1122.69,217.88 1123,222.91 1123.3,222.93 1123.6,218.92 1123.91,211.7 1124.21,200.75 1124.52,193.46 1124.82,192.63 1125.12,191.37 1125.43,186.73 1125.73,186.36 1126.04,189.14 1126.34,186.53 1126.65,185.03 1126.95,187.72 1127.25,191.22 1127.56,197.29 1127.86,203.53 1128.17,208.22 1128.47,212.62 1128.78,215.07 1129.08,214.35 1129.38,211.6 1129.69,206.64 1129.99,202.15 1130.3,200.08 1130.6,195.21 1130.91,191.06 1131.21,190.34 1131.51,189.05 1131.82,189.94 1132.12,188.98 1132.43,187.22 1132.73,185.6 1133.04,187.63 1133.34,189.91 1133.64,194.38 1133.95,203.91 1134.25,211.44 1134.56,213.65 1134.86,218.32 1135.17,218.72 1135.47,210.77 1135.77,202.9 1136.08,198.42 1136.38,190.99 1136.69,185.12 1136.99,186.39 1137.29,186.12 1137.6,184.62 1137.9,184.17 1138.21,185.43 1138.51,183.56 1138.82,184.79 1139.12,189.71 1139.42,190.27 1139.73,192.37 1140.03,198.17 1140.34,207.38 1140.64,212.34 1140.95,211.87 1141.25,209.16 1141.55,207.11 1141.86,203.11 1142.16,195.24 1142.47,193.06 1142.77,190.65 1143.08,184.98 1143.38,184.15 1143.68,186.95 1143.99,183.3 1144.29,180.64 1144.6,180.56 1144.9,183.94 1145.21,187.38 1145.51,188.21 1145.81,194.75 1146.12,204.35 1146.42,208.56 1146.73,209.37 1147.03,213.39 1147.34,217.04 1147.64,211.81 1147.94,202.44 1148.25,194.02 1148.55,186.81 1148.86,184.13 1149.16,185.05 1149.46,184.28 1149.77,184.65 1150.07,182.18 1150.38,181.69 1150.68,177.67 1150.99,176.34 1151.29,184.25 1151.59,191.58 1151.9,197.43 1152.2,205.77 1152.51,212.66 1152.81,214.94 1153.12,212.24 1153.42,207.72 1153.72,203.71 1154.03,197.79 1154.33,192.07 1154.64,185.76 1154.94,181.98 1155.25,179.25 1155.55,179.71 1155.85,179.8 1156.16,182.63 1156.46,184.32 1156.77,188.17 1157.07,191.39 1157.38,189.93 1157.68,190.56 1157.98,197.8 1158.29,205.58 1158.59,211.94 1158.9,216.14 1159.2,215.24 1159.51,208.51 1159.81,200.38 1160.11,195.54 1160.42,191.18 1160.72,186.51 1161.03,183.83 1161.33,185.44 1161.63,183.17 1161.94,181.47 1162.24,181.57 1162.55,179.77 1162.85,178.85 1163.16,183.33 1163.46,188.35 1163.76,196.6 1164.07,206.83 1164.37,216.94 1164.68,219.92 1164.98,221.07 1165.29,218.91 1165.59,210.5 1165.89,204.54 1166.2,195.46 1166.5,187.43 1166.81,182.57 1167.11,178.65 1167.42,178.6 1167.72,179.92 1168.02,181.11 1168.33,181.38 1168.63,180.37 1168.94,182.96 1169.24,185.42 1169.55,188.76 1169.85,194.14 1170.15,200.21 1170.46,207.45 1170.76,213.01 1171.07,211.3 1171.37,209.41 1171.68,205.58 1171.98,193.71 1172.28,190.92 1172.59,190.17 1172.89,182.58 1173.2,183.15 1173.5,179.97 1173.8,181.4 1174.11,187.64 1174.41,181.22 1174.72,182.25 1175.02,185.9 1175.33,188.91 1175.63,193.71 1175.93,198.16 1176.24,204.1 1176.54,210.43 1176.85,209.46 1177.15,210.05 1177.46,208.62 1177.76,201.35 1178.06,197.31 1178.37,191.15 1178.67,185.53 1178.98,188.18 1179.28,188.26 1179.59,187 1179.89,187.94 1180.19,183.15 1180.5,183.3 1180.8,182.41 1181.11,184.05 1181.41,187.58 1181.72,192.33 1182.02,199.93 1182.32,208.19 1182.63,215.89 1182.93,218.83 1183.24,214.94 1183.54,205.95 1183.85,196.01 1184.15,188.1 1184.45,185.31 1184.76,184.18 1185.06,182.39 1185.37,181.63 1185.67,179.88 1185.97,181.45 1186.28,185.03 1186.58,187.67 1186.89,184.86 1187.19,185.05 1187.5,190.97 1187.8,194.8 1188.1,201.25 1188.41,209.35 1188.71,213.26 1189.02,216.5 1189.32,211.68 1189.63,205.22 1189.93,201.17 1190.23,194.75 1190.54,188.63 1190.84,185.26 1191.15,185.41 1191.45,187.67 1191.76,187.8 1192.06,182.19 1192.36,181.58 1192.67,178.93 1192.97,180.32 1193.28,179.94 1193.58,183.13 1193.89,191.07 1194.19,198.02 1194.49,204.71 1194.8,206.41 1195.1,203.98 1195.41,203.82 1195.71,198.06 1196.02,188.9 1196.32,183.67 1196.62,180.12 1196.93,181.67 1197.23,183.53 1197.54,178.62 1197.84,176.39 1198.14,183.03 1198.45,182.9 1198.75,181.48 1199.06,185.67 1199.36,190.45 1199.67,193.05 1199.97,192.98 1200.27,194.64 1200.58,198.62 1200.88,199.43 1201.19,197.16 1201.49,197.96 1201.8,195.35 1202.1,189.34 1202.4,187.6 1202.71,185.16 1203.01,182.48 1203.32,181.74 1203.62,183.76 1203.93,185.24 1204.23,179.85 1204.53,180.84 1204.84,187.22 1205.14,187.02 1205.45,187.31 1205.75,192.96 1206.06,202.94 1206.36,209.16 1206.66,213.51 1206.97,218.02 1207.27,214.9 1207.58,207.29 1207.88,197.83 1208.19,189.78 1208.49,185.8 1208.79,182.35 1209.1,180.91 1209.4,180.62 1209.71,182.88 1210.01,190.29 1210.31,186.91 1210.62,186.82 1210.92,189.38 1211.23,189.72 1211.53,194.39 1211.84,201.29 1212.14,205.64 1212.44,215.34 1212.75,219.95 1213.05,212.43 1213.36,209.92 1213.66,207.02 1213.97,198.64 1214.27,189.42 1214.57,188 1214.88,188.36 1215.18,185.9 1215.49,184.96 1215.79,184.41 1216.1,180.41 1216.4,181.34 1216.7,182.62 1217.01,184.24 1217.31,188.25 1217.62,192.43 1217.92,198.37 1218.23,207.19 1218.53,210.38 1218.83,211.52 1219.14,214.91 1219.44,208.2 1219.75,200.3 1220.05,194.06 1220.36,187.11 1220.66,183.76 1220.96,181.63 1221.27,182.29 1221.57,182.38 1221.88,178.32 1222.18,184.18 1222.48,187.31 1222.79,183.69 1223.09,187.12 1223.4,193.5 1223.7,194.22 1224.01,199.87 1224.31,207.16 1224.61,210.94 1224.92,215.71 1225.22,213.39 1225.53,206.81 1225.83,198.39 1226.14,191.66 1226.44,187.92 1226.74,185.13 1227.05,181.83 1227.35,180.42 1227.66,184.02 1227.96,182.38 1228.27,180.31 1228.57,180.46 1228.87,182.41 1229.18,185.28 1229.48,189.66 1229.79,194.28 1230.09,200.3 1230.4,208.26 1230.7,211.19 1231,211.81 1231.31,206.28 1231.61,197.7 1231.92,193.87 1232.22,189.03 1232.53,189.11 1232.83,185.76 1233.13,179.97 1233.44,176.46 1233.74,178.85 1234.05,181.05 1234.35,179.31 1234.65,181.39 1234.96,185.94 1235.26,189.27 1235.57,190.16 1235.87,195.28 1236.18,201.17 1236.48,209.52 1236.78,211.05 1237.09,207.52 1237.39,204.05 1237.7,197.44 1238,190.13 1238.31,186.28 1238.61,186.5 1238.91,186.78 1239.22,181.93 1239.52,178.54 1239.83,180.46 1240.13,184.06 1240.44,184.23 1240.74,183.96 1241.04,186.04 1241.35,190.49 1241.65,192.06 1241.96,197.69 1242.26,209.22 1242.57,217.08 1242.87,219.36 1243.17,214.27 1243.48,206.57 1243.78,200.82 1244.09,194.8 1244.39,189.38 1244.7,187.76 1245,183.68 1245.3,180.89 1245.61,178.99 1245.91,176.15 1246.22,180.21 1246.52,177.76 1246.82,178.48 1247.13,183.61 1247.43,187.91 1247.74,190.49 1248.04,194.41 1248.35,200.33 1248.65,203.05 1248.95,202.1 1249.26,200.65 1249.56,197.17 1249.87,192.08 1250.17,185.76 1250.48,179.93 1250.78,178.4 1251.08,178.18 1251.39,178.52 1251.69,181.38 1252,182.96 1252.3,179.59 1252.61,177.53 1252.91,177.08 1253.21,179.83 1253.52,184.89 1253.82,188.51 1254.13,194.63 1254.43,203.13 1254.74,208.06 1255.04,206.66 1255.34,204.36 1255.65,198.09 1255.95,188.66 1256.26,184.74 1256.56,179.58 1256.87,177.36 1257.17,180.02 1257.47,179.78 1257.78,180.55 1258.08,182.99 1258.39,181.9 1258.69,180.34 1258.99,180.8 1259.3,185.67 1259.6,192.26 1259.91,202.32 1260.21,209.52 1260.52,214.5 1260.82,215.45 1261.12,212.65 1261.43,206.41 1261.73,198.02 1262.04,191.99 1262.34,186.92 1262.65,184.19 1262.95,181.75 1263.25,183.86 1263.56,189.31 1263.86,190.04 1264.17,190.73 1264.47,195.72 1264.78,202.36 1265.08,207.21 1265.38,212.33 1265.69,215.98 1265.99,219.33 1266.3,221.88" fill="none" stroke="#1a1aff" stroke-width="0.95" stroke-linejoin="round"/>
<rect x="1080.4" y="112" width="186.1" height="175.8" fill="none" stroke="#8a8a8a" stroke-width="1.5"/>
<path d="M1080.4 287.8v-2M1080.4 112v2M1104.74 287.8v-2M1104.74 112v2M1129.08 287.8v-2M1129.08 112v2M1153.42 287.8v-2M1153.42 112v2M1177.76 287.8v-2M1177.76 112v2M1202.1 287.8v-2M1202.1 112v2M1226.44 287.8v-2M1226.44 112v2M1250.78 287.8v-2M1250.78 112v2M1080.4 287.8h2M1080.4 258.5h2M1080.4 229.2h2M1080.4 199.9h2M1080.4 170.6h2M1080.4 141.3h2M1080.4 112h2M1266.5 287.8h-2M1266.5 252.64h-2M1266.5 217.48h-2M1266.5 182.32h-2M1266.5 147.16h-2M1266.5 112h-2" stroke="#444" stroke-width="0.8" fill="none"/>
<text x="1078.9" y="289.7" font-size="5.2" text-anchor="end" fill="#6a6aff" font-family="'Liberation Sans', Arial, sans-serif">0</text>
<text x="1078.9" y="260.4" font-size="5.2" text-anchor="end" fill="#6a6aff" font-family="'Liberation Sans', Arial, sans-serif">20</text>
<text x="1078.9" y="231.1" font-size="5.2" text-anchor="end" fill="#6a6aff" font-family="'Liberation Sans', Arial, sans-serif">40</text>
<text x="1078.9" y="201.8" font-size="5.2" text-anchor="end" fill="#6a6aff" font-family="'Liberation Sans', Arial, sans-serif">60</text>
<text x="1078.9" y="172.5" font-size="5.2" text-anchor="end" fill="#6a6aff" font-family="'Liberation Sans', Arial, sans-serif">80</text>
<text x="1078.9" y="143.2" font-size="5.2" text-anchor="end" fill="#6a6aff" font-family="'Liberation Sans', Arial, sans-serif">100</text>
<text x="1078.9" y="113.9" font-size="5.2" text-anchor="end" fill="#6a6aff" font-family="'Liberation Sans', Arial, sans-serif">120</text>
<text x="1268" y="289.7" font-size="5.2" text-anchor="start" fill="#333" font-family="'Liberation Sans', Arial, sans-serif">0</text>
<text x="1268" y="254.54" font-size="5.2" text-anchor="start" fill="#333" font-family="'Liberation Sans', Arial, sans-serif">5</text>
<text x="1268" y="219.38" font-size="5.2" text-anchor="start" fill="#333" font-family="'Liberation Sans', Arial, sans-serif">10</text>
<text x="1268" y="184.22" font-size="5.2" text-anchor="start" fill="#333" font-family="'Liberation Sans', Arial, sans-serif">15</text>
<text x="1268" y="149.06" font-size="5.2" text-anchor="start" fill="#333" font-family="'Liberation Sans', Arial, sans-serif">20</text>
<text x="1268" y="113.9" font-size="5.2" text-anchor="start" fill="#333" font-family="'Liberation Sans', Arial, sans-serif">25</text>
<text x="1080.4" y="295" font-size="5.2" text-anchor="middle" fill="#333" font-family="'Liberation Sans', Arial, sans-serif">0</text>
<text x="1104.74" y="295" font-size="5.2" text-anchor="middle" fill="#333" font-family="'Liberation Sans', Arial, sans-serif">2</text>
<text x="1129.08" y="295" font-size="5.2" text-anchor="middle" fill="#333" font-family="'Liberation Sans', Arial, sans-serif">4</text>
<text x="1153.42" y="295" font-size="5.2" text-anchor="middle" fill="#333" font-family="'Liberation Sans', Arial, sans-serif">6</text>
<text x="1177.76" y="295" font-size="5.2" text-anchor="middle" fill="#333" font-family="'Liberation Sans', Arial, sans-serif">8</text>
<text x="1202.1" y="295" font-size="5.2" text-anchor="middle" fill="#333" font-family="'Liberation Sans', Arial, sans-serif">10</text>
<text x="1226.44" y="295" font-size="5.2" text-anchor="middle" fill="#333" font-family="'Liberation Sans', Arial, sans-serif">12</text>
<text x="1250.78" y="295" font-size="5.2" text-anchor="middle" fill="#333" font-family="'Liberation Sans', Arial, sans-serif">14</text>
<text x="1173.45" y="303.3" font-size="5.6" text-anchor="middle" fill="#333" font-family="'Liberation Sans', Arial, sans-serif">Time (s)</text>
<text x="1067.6" y="199.9" font-size="6.2" text-anchor="middle" fill="#4a4aff" font-family="'Liberation Sans', Arial, sans-serif" transform="rotate(-90 1067.6 199.9)" textLength="52" lengthAdjust="spacingAndGlyphs">Pixel Differential</text>
<text x="1279.5" y="199.9" font-size="6.2" text-anchor="middle" fill="#333" font-family="'Liberation Sans', Arial, sans-serif" transform="rotate(-90 1279.5 199.9)" textLength="39" lengthAdjust="spacingAndGlyphs">Stimulus (V)</text>
</g>
<g filter="url(#blur)">
<path d="M113.7 506.1V470.42M149.28 506.1V470.42M184.86 506.1V470.42M220.44 506.1V470.42M256.02 506.1V470.42" stroke="#555" stroke-width="1.3" fill="none"/>
<polyline points="113.7,498.67 114,498.67 114.29,498.67 114.59,498.67 114.89,492.77 115.18,492.1 115.48,491.9 115.78,491.55 116.07,491.49 116.37,491.08 116.67,490.68 116.96,490.69 117.26,489.79 117.55,489.18 117.85,488.69 118.15,489.15 118.44,488.68 118.74,488.16 119.04,486.66 119.33,485.26 119.63,484.57 119.93,483.42 120.22,482.04 120.52,479.84 120.82,479.2 121.11,477.92 121.41,477.46 121.71,476.88 122,477.47 122.3,476.83 122.59,475.67 122.89,474.63 123.19,474.57 123.48,475.67 123.78,476.64 124.08,477.3 124.37,476.99 124.67,477.71 124.97,477.45 125.26,477.31 125.56,476.81 125.86,476.94 126.15,478.01 126.45,478.96 126.75,479.83 127.04,479.22 127.34,478.43 127.64,478.75 127.93,479.14 128.23,480.21 128.53,479.71 128.82,480.49 129.12,481 129.41,481.78 129.71,482.83 130.01,483.51 130.3,485.01 130.6,484.97 130.9,485 131.19,484.78 131.49,485.53 131.79,485.25 132.08,485.82 132.38,486.37 132.68,486.85 132.97,486.36 133.27,486.23 133.57,488 133.86,489.29 134.16,489.49 134.46,488.98 134.75,488.26 135.05,489.49 135.34,489.45 135.64,490.74 135.94,489.72 136.23,490.31 136.53,489.75 136.83,490.89 137.12,491.71 137.42,492.91 137.72,493.06 138.01,493.04 138.31,492.1 138.61,491.32 138.9,490.83 139.2,492.01 139.5,492.81 139.79,493.36 140.09,492.28 140.38,492.16 140.68,491.68 140.98,492.63 141.27,493.79 141.57,494.45 141.87,494.84 142.16,493.77 142.46,493.4 142.76,493.29 143.05,493.69 143.35,493.03 143.65,493.13 143.94,493.41 144.24,494.28 144.54,494.18 144.83,493.97 145.13,493.62 145.43,492.49 145.72,493.14 146.02,493.41 146.31,494.22 146.61,493.43 146.91,493.52 147.2,493.7 147.5,493.19 147.8,493.33 148.09,493.22 148.39,493.69 148.69,493.42 148.98,493.42 149.28,492.93 149.58,492.96 149.87,492.75 150.17,493.19 150.47,493.58 150.76,493.95 151.06,494.29 151.36,493.55 151.65,493.27 151.95,493 152.25,492.63 152.54,491.63 152.84,491.46 153.13,490.19 153.43,489.74 153.73,488.18 154.02,487.6 154.32,486.62 154.62,485.8 154.91,484.15 155.21,483.53 155.51,482.1 155.8,481.55 156.1,480.39 156.4,479.3 156.69,478.52 156.99,476.01 157.29,475.68 157.58,475.36 157.88,475.86 158.18,475.3 158.47,475.86 158.77,476.02 159.06,476.09 159.36,475.41 159.66,475.21 159.95,474.95 160.25,475.16 160.55,475.77 160.84,477.01 161.14,477.54 161.44,477.87 161.73,477.86 162.03,478.09 162.33,478.94 162.62,478.4 162.92,477.82 163.22,478.01 163.51,478.96 163.81,480.51 164.11,480.17 164.4,480.59 164.7,480.89 164.99,482.04 165.29,482.63 165.59,483.59 165.88,483.62 166.18,484.46 166.48,484.17 166.77,484.87 167.07,484.44 167.37,485.12 167.66,485.11 167.96,486.47 168.26,486.57 168.55,487.53 168.85,487.38 169.15,487.98 169.44,487.78 169.74,489.15 170.03,489.35 170.33,490.8 170.63,489.57 170.92,490.93 171.22,490.96 171.52,492.56 171.81,491.09 172.11,491.45 172.41,490.81 172.7,492.04 173,492.46 173.3,492.84 173.59,492.44 173.89,491.83 174.19,491.36 174.48,491.97 174.78,492 175.08,492.74 175.37,492.51 175.67,491.71 175.97,491.44 176.26,491.59 176.56,492.85 176.85,493.44 177.15,492.9 177.45,493.19 177.74,493.32 178.04,494.1 178.34,493.81 178.63,492.5 178.93,493.6 179.23,493.26 179.52,493.87 179.82,493.31 180.12,493.8 180.41,493.95 180.71,492.67 181.01,492.82 181.3,493.78 181.6,494.1 181.89,492.96 182.19,492.38 182.49,493.89 182.78,493.93 183.08,493.87 183.38,492.3 183.67,493 183.97,493.08 184.27,493.82 184.56,493.09 184.86,492.22 185.16,492.99 185.45,494.08 185.75,493.87 186.05,492.96 186.34,493.06 186.64,493.76 186.94,493.47 187.23,492.66 187.53,492.62 187.82,492.39 188.12,492.16 188.42,491.3 188.71,490.97 189.01,490.24 189.31,489.72 189.6,487.88 189.9,486.64 190.2,485.62 190.49,484.92 190.79,483.78 191.09,482.08 191.38,480.95 191.68,479.19 191.98,478.02 192.27,477.32 192.57,477.54 192.87,477.08 193.16,476.31 193.46,475.85 193.75,476.86 194.05,477.99 194.35,477.82 194.64,476.84 194.94,475.69 195.24,476.6 195.53,476.63 195.83,477.45 196.13,476.87 196.42,477.4 196.72,477.78 197.02,478.53 197.31,480.01 197.61,480.38 197.91,481.3 198.2,480.47 198.5,480.38 198.8,479.48 199.09,479.92 199.39,480.65 199.69,481.34 199.98,482.11 200.28,481.95 200.57,482.39 200.87,483.11 201.17,483.82 201.46,484.38 201.76,484.48 202.06,484.48 202.35,484.12 202.65,484.56 202.95,485.55 203.24,487.81 203.54,488.09 203.84,488.5 204.13,488.83 204.43,488.98 204.73,488.84 205.02,488.49 205.32,489.12 205.62,490.16 205.91,489.74 206.21,490.56 206.5,490.51 206.8,490.2 207.1,489.7 207.39,489.56 207.69,490.76 207.99,491.54 208.28,491.96 208.58,491.87 208.88,491.97 209.17,491.94 209.47,491.69 209.77,490.84 210.06,491.87 210.36,493.03 210.66,494.4 210.95,493.25 211.25,492.59 211.55,491.58 211.84,492.57 212.14,493.48 212.43,493.84 212.73,493.44 213.03,493.34 213.32,493.36 213.62,493.14 213.92,492.67 214.21,493.26 214.51,494.6 214.81,494.86 215.1,494.31 215.4,493.46 215.7,493.56 215.99,493.98 216.29,493.54 216.59,493.38 216.88,493 217.18,493.81 217.47,494.09 217.77,494.08 218.07,494.1 218.36,494.41 218.66,494.64 218.96,493.6 219.25,492.92 219.55,492.07 219.85,492.69 220.14,492.92 220.44,494.24 220.74,494.42 221.03,493.56 221.33,492.69 221.63,492 221.92,492.25 222.22,492.27 222.52,492.55 222.81,492.61 223.11,492.02 223.41,491.38 223.7,490.81 224,490.57 224.29,490.59 224.59,490.29 224.89,490.06 225.18,488.39 225.48,488.33 225.78,486.98 226.07,485.26 226.37,483.31 226.67,482.6 226.96,482.6 227.26,480.72 227.56,479.21 227.85,477.96 228.15,477.7 228.45,477.12 228.74,475.42 229.04,475.13 229.33,475.1 229.63,476.83 229.93,476.73 230.22,476.36 230.52,475.86 230.82,476.11 231.11,477.14 231.41,477.43 231.71,477.86 232,477.55 232.3,478.76 232.6,479.17 232.89,479.68 233.19,479.32 233.49,480.08 233.78,480.07 234.08,480.37 234.38,480.59 234.67,481.31 234.97,482.18 235.26,481.64 235.56,482.96 235.86,483.14 236.15,484.78 236.45,484.23 236.75,484.09 237.04,484.04 237.34,484.2 237.64,485.42 237.93,484.62 238.23,484.67 238.53,484.14 238.82,486.08 239.12,487.41 239.42,487.81 239.71,487.64 240.01,487.59 240.31,488.29 240.6,489.12 240.9,488.95 241.19,489.4 241.49,488.87 241.79,489.83 242.08,489.86 242.38,490.67 242.68,490.14 242.97,490.07 243.27,489.52 243.57,489.93 243.86,490.35 244.16,492.23 244.46,492.25 244.75,492.83 245.05,491.65 245.35,492.31 245.64,492.96 245.94,493.37 246.24,493.03 246.53,491.81 246.83,491.94 247.12,492.76 247.42,492.81 247.72,493.01 248.01,491.66 248.31,492.38 248.61,492.44 248.9,493 249.2,492.26 249.5,492.56 249.79,492.33 250.09,493.29 250.39,491.94 250.68,492.88 250.98,493.52 251.28,494 251.57,493.4 251.87,491.68 252.17,491.12 252.46,491.24 252.76,492.36 253.06,493.42 253.35,493.9 253.65,494.19 253.94,494.08 254.24,495.14 254.54,494.67 254.83,494.55 255.13,492.14 255.43,491.85 255.72,492.06 256.02,492.98 256.32,493.89 256.61,493.91 256.91,495.01 257.21,493.68 257.5,493.02 257.8,492.57 258.1,493.11 258.39,492.74 258.69,491.7 258.99,491.17 259.28,491.65 259.58,491.72 259.87,491.32 260.17,489.86 260.47,489.23 260.76,489 261.06,488.01 261.36,487.1 261.65,485.04 261.95,484.4 262.25,482.45 262.54,481.04 262.84,479.77 263.14,478.82 263.43,479.17 263.73,479.03 264.03,478.44 264.32,476.8 264.62,475.52 264.92,474.63 265.21,475.23 265.51,475.83 265.8,476.52 266.1,476.76 266.4,477.01 266.69,478.13 266.99,477.84 267.29,478.52 267.58,478.01 267.88,479.4 268.18,478.65 268.47,479.66 268.77,478.9 269.07,480.5 269.36,480.56 269.66,480.76 269.96,480.76 270.25,480.9 270.55,482.07 270.84,483.18 271.14,483.47 271.44,483.45 271.73,483.29 272.03,483.58 272.33,484.57 272.62,484.93 272.92,485.61 273.22,485.96 273.51,484.8 273.81,485.93 274.11,485.65 274.4,486.64 274.7,487.21 275,488.73 275.29,489.28 275.59,488.91 275.89,488.24 276.18,488.28 276.48,488.53 276.77,489.51 277.07,491.61 277.37,491.6 277.66,491.79 277.96,490.59 278.26,490.81 278.55,491.24 278.85,490.77 279.15,490.56 279.44,489.69 279.74,491.23 280.04,492.09 280.33,492.9 280.63,492.67 280.93,493.14 281.22,492.79 281.52,492.6 281.82,491.99 282.11,492.53 282.41,492.12 282.7,492.28 283,493.4 283.3,494.38 283.59,494.56 283.89,492.86 284.19,492.75 284.48,492.89 284.78,493.7 285.08,493.28 285.37,493.41 285.67,493.41 285.97,494.1 286.26,493.65 286.56,493.64 286.86,494.1 287.15,494.09 287.45,494.18 287.75,493.24 288.04,493.36 288.34,492.48 288.63,492.16 288.93,492.62 289.23,493.27 289.52,494.38 289.82,493.32 290.12,493.04 290.41,491.78 290.71,492.72 291.01,493.9 291.3,493.84 291.6,493.65 291.9,492.62 292.19,493.32 292.49,493.06 292.79,492.87 293.08,493.65 293.38,493.44 293.68,493.95 293.97,493.42 294.27,493.11 294.56,492.43 294.86,492.37 295.16,494.06 295.45,494.42 295.75,494.01 296.05,493.17 296.34,493.83 296.64,494.46 296.94,495.02 297.23,494.33 297.53,493.57 297.83,492.49 298.12,492.94" fill="none" stroke="#1a1aff" stroke-width="0.95" stroke-linejoin="round"/>
<rect x="113.7" y="327.7" width="184.4" height="178.4" fill="none" stroke="#8a8a8a" stroke-width="1.5"/>
<path d="M113.7 506.1v-2M113.7 327.7v2M137.42 506.1v-2M137.42 327.7v2M161.14 506.1v-2M161.14 327.7v2M184.86 506.1v-2M184.86 327.7v2M208.58 506.1v-2M208.58 327.7v2M232.3 506.1v-2M232.3 327.7v2M256.02 506.1v-2M256.02 327.7v2M279.74 506.1v-2M279.74 327.7v2M113.7 506.1h2M113.7 476.37h2M113.7 446.63h2M113.7 416.9h2M113.7 387.17h2M113.7 357.43h2M113.7 327.7h2M298.1 506.1h-2M298.1 470.42h-2M298.1 434.74h-2M298.1 399.06h-2M298.1 363.38h-2M298.1 327.7h-2" stroke="#444" stroke-width="0.8" fill="none"/>
<text x="112.2" y="508" font-size="5.2" text-anchor="end" fill="#6a6aff" font-family="'Liberation Sans', Arial, sans-serif">0</text>
<text x="112.2" y="478.27" font-size="5.2" text-anchor="end" fill="#6a6aff" font-family="'Liberation Sans', Arial, sans-serif">20</text>
<text x="112.2" y="448.53" font-size="5.2" text-anchor="end" fill="#6a6aff" font-family="'Liberation Sans', Arial, sans-serif">40</text>
<text x="112.2" y="418.8" font-size="5.2" text-anchor="end" fill="#6a6aff" font-family="'Liberation Sans', Arial, sans-serif">60</text>
<text x="112.2" y="389.07" font-size="5.2" text-anchor="end" fill="#6a6aff" font-family="'Liberation Sans', Arial, sans-serif">80</text>
<text x="112.2" y="359.33" font-size="5.2" text-anchor="end" fill="#6a6aff" font-family="'Liberation Sans', Arial, sans-serif">100</text>
<text x="112.2" y="329.6" font-size="5.2" text-anchor="end" fill="#6a6aff" font-family="'Liberation Sans', Arial, sans-serif">120</text>
<text x="299.6" y="508" font-size="5.2" text-anchor="start" fill="#333" font-family="'Liberation Sans', Arial, sans-serif">0</text>
<text x="299.6" y="472.32" font-size="5.2" text-anchor="start" fill="#333" font-family="'Liberation Sans', Arial, sans-serif">5</text>
<text x="299.6" y="436.64" font-size="5.2" text-anchor="start" fill="#333" font-family="'Liberation Sans', Arial, sans-serif">10</text>
<text x="299.6" y="400.96" font-size="5.2" text-anchor="start" fill="#333" font-family="'Liberation Sans', Arial, sans-serif">15</text>
<text x="299.6" y="365.28" font-size="5.2" text-anchor="start" fill="#333" font-family="'Liberation Sans', Arial, sans-serif">20</text>
<text x="299.6" y="329.6" font-size="5.2" text-anchor="start" fill="#333" font-family="'Liberation Sans', Arial, sans-serif">25</text>
<text x="113.7" y="513.3" font-size="5.2" text-anchor="middle" fill="#333" font-family="'Liberation Sans', Arial, sans-serif">0</text>
<text x="137.42" y="513.3" font-size="5.2" text-anchor="middle" fill="#333" font-family="'Liberation Sans', Arial, sans-serif">2</text>
<text x="161.14" y="513.3" font-size="5.2" text-anchor="middle" fill="#333" font-family="'Liberation Sans', Arial, sans-serif">4</text>
<text x="184.86" y="513.3" font-size="5.2" text-anchor="middle" fill="#333" font-family="'Liberation Sans', Arial, sans-serif">6</text>
<text x="208.58" y="513.3" font-size="5.2" text-anchor="middle" fill="#333" font-family="'Liberation Sans', Arial, sans-serif">8</text>
<text x="232.3" y="513.3" font-size="5.2" text-anchor="middle" fill="#333" font-family="'Liberation Sans', Arial, sans-serif">10</text>
<text x="256.02" y="513.3" font-size="5.2" text-anchor="middle" fill="#333" font-family="'Liberation Sans', Arial, sans-serif">12</text>
<text x="279.74" y="513.3" font-size="5.2" text-anchor="middle" fill="#333" font-family="'Liberation Sans', Arial, sans-serif">14</text>
<text x="205.9" y="521.6" font-size="5.6" text-anchor="middle" fill="#333" font-family="'Liberation Sans', Arial, sans-serif">Time (s)</text>
<text x="100.9" y="416.9" font-size="6.2" text-anchor="middle" fill="#4a4aff" font-family="'Liberation Sans', Arial, sans-serif" transform="rotate(-90 100.9 416.9)" textLength="52" lengthAdjust="spacingAndGlyphs">Pixel Differential</text>
<text x="311.1" y="416.9" font-size="6.2" text-anchor="middle" fill="#333" font-family="'Liberation Sans', Arial, sans-serif" transform="rotate(-90 311.1 416.9)" textLength="39" lengthAdjust="spacingAndGlyphs">Stimulus (V)</text>
</g>
<g filter="url(#blur)">
<path d="M357.5 501.1V466.28M380.82 501.1V466.28M404.14 501.1V466.28M427.46 501.1V466.28M450.78 501.1V466.28M474.1 501.1V466.28M497.42 501.1V466.28M520.74 501.1V466.28" stroke="#555" stroke-width="1.3" fill="none"/>
<polyline points="357.5,492.4 357.79,492.4 358.08,492.4 358.37,492.4 358.67,487.65 358.96,487.67 359.25,488.69 359.54,488.43 359.83,487.83 360.12,486.08 360.42,485.37 360.71,485.33 361,485.89 361.29,486.27 361.58,486.18 361.87,485.42 362.16,484.89 362.46,483.74 362.75,483.63 363.04,483.19 363.33,483.07 363.62,482.36 363.91,481.15 364.2,479.19 364.5,477.52 364.79,475.82 365.08,474.83 365.37,473.34 365.66,472.87 365.95,472.17 366.25,472.07 366.54,471.57 366.83,471.85 367.12,472.63 367.41,473 367.7,473.31 367.99,472.55 368.29,472.5 368.58,472.66 368.87,472.69 369.16,472.14 369.45,471.99 369.74,472.11 370.03,473.14 370.33,473.88 370.62,474.58 370.91,474.86 371.2,475.28 371.49,475.07 371.78,475.4 372.07,475.96 372.37,476.83 372.66,476.37 372.95,476.33 373.24,476.42 373.53,477.78 373.82,478.42 374.12,479.63 374.41,479.91 374.7,479.34 374.99,479.94 375.28,479.58 375.57,481.16 375.86,481.16 376.16,481.86 376.45,481.54 376.74,481.68 377.03,483.06 377.32,483.51 377.61,484.38 377.9,482.92 378.2,483.46 378.49,483.24 378.78,485.07 379.07,485.44 379.36,486.3 379.65,485.64 379.95,485.77 380.24,485.2 380.53,486.08 380.82,486.35 381.11,486.2 381.4,486.45 381.69,487.1 381.99,487.54 382.28,487.66 382.57,487.09 382.86,486.84 383.15,486.62 383.44,485.92 383.74,486.37 384.03,485.12 384.32,484.56 384.61,484.02 384.9,484.2 385.19,484.47 385.48,483.46 385.78,482.08 386.07,481.44 386.36,480.19 386.65,480.22 386.94,478.95 387.23,479.05 387.52,476.61 387.82,475.27 388.11,473.56 388.4,473.97 388.69,472.94 388.98,473.47 389.27,472.9 389.56,472.35 389.86,471.65 390.15,471.71 390.44,472.43 390.73,472.72 391.02,472.85 391.31,472.89 391.61,472.65 391.9,472.71 392.19,473.48 392.48,473.68 392.77,474.08 393.06,473.62 393.35,473.75 393.65,474.2 393.94,476.17 394.23,476.53 394.52,476.48 394.81,476.21 395.1,477.73 395.39,478.92 395.69,478.54 395.98,478.56 396.27,478.67 396.56,479.38 396.85,478.82 397.14,479.04 397.44,479.58 397.73,480.72 398.02,480.42 398.31,480.32 398.6,480.51 398.89,482.15 399.18,483.3 399.48,483.37 399.77,483.43 400.06,483.06 400.35,483.47 400.64,483.36 400.93,483.75 401.23,483.98 401.52,484.74 401.81,485.41 402.1,484.89 402.39,485.27 402.68,485.56 402.97,486.3 403.27,486.06 403.56,486.39 403.85,487.56 404.14,487.43 404.43,486.8 404.72,485.79 405.01,486.1 405.31,486.18 405.6,487.26 405.89,487.25 406.18,487.98 406.47,487.45 406.76,487.13 407.06,486.28 407.35,486.59 407.64,486.14 407.93,486.47 408.22,486.1 408.51,486.23 408.8,486.08 409.1,485 409.39,484.06 409.68,482.7 409.97,481.58 410.26,480.86 410.55,479.76 410.84,479.55 411.14,478.36 411.43,477.7 411.72,476.33 412.01,475.51 412.3,474.32 412.59,474.2 412.88,474.36 413.18,474.29 413.47,473.31 413.76,472.53 414.05,472.08 414.34,471.81 414.63,471.86 414.93,472.37 415.22,473.5 415.51,474.29 415.8,474.68 416.09,474.36 416.38,474.12 416.67,474.19 416.97,474.65 417.26,474.79 417.55,475.03 417.84,475.18 418.13,475.66 418.42,476.34 418.72,477.27 419.01,477.58 419.3,477.57 419.59,477.63 419.88,478.41 420.17,478.03 420.46,478.67 420.76,478.99 421.05,480.24 421.34,480.81 421.63,481.06 421.92,480.82 422.21,480.33 422.5,480.49 422.8,481.37 423.09,482.08 423.38,482.29 423.67,482.95 423.96,483.51 424.25,484.19 424.55,484.06 424.84,484.04 425.13,484.09 425.42,485.59 425.71,485.49 426,485.04 426.29,483.87 426.59,484.73 426.88,486.28 427.17,486.92 427.46,487.39 427.75,486.91 428.04,487.41 428.33,486.76 428.63,486.64 428.92,487.4 429.21,487.81 429.5,488.79 429.79,488.64 430.08,489.13 430.38,489.02 430.67,488.08 430.96,488.54 431.25,488.09 431.54,487.74 431.83,486.92 432.12,487.19 432.42,488.09 432.71,488.88 433,488.93 433.29,488.8 433.58,488.04 433.87,487.22 434.16,487.11 434.46,487.26 434.75,487.71 435.04,488.6 435.33,489.28 435.62,490.11 435.91,489.83 436.2,489.08 436.5,489.07 436.79,488.08 437.08,487.75 437.37,487.3 437.66,488.2 437.95,488.59 438.25,488.58 438.54,488.87 438.83,488.99 439.12,489.04 439.41,488.51 439.7,488.01 439.99,487.8 440.29,488.24 440.58,488.85 440.87,489.72 441.16,489.13 441.45,489.55 441.74,488.82 442.03,488.9 442.33,488.14 442.62,488.59 442.91,489.37 443.2,489.04 443.49,489.05 443.78,487.87 444.08,488.43 444.37,488.08 444.66,487.9 444.95,487.94 445.24,487.64 445.53,489.03 445.82,488.81 446.12,489.5 446.41,488.94 446.7,489.31 446.99,489.06 447.28,488.32 447.57,489.1 447.87,489.23 448.16,490.23 448.45,488.97 448.74,489.17 449.03,488.68 449.32,489.34 449.61,488.88 449.91,488.65 450.2,488.65 450.49,488.91 450.78,489.93 451.07,489.63 451.36,489.29 451.65,488.91 451.95,488.56 452.24,489.76 452.53,490.27 452.82,491.27 453.11,490.53 453.4,489.66 453.69,488.99 453.99,488.66 454.28,488.17 454.57,488.09 454.86,488.29 455.15,488.74 455.44,487.22 455.74,487.15 456.03,486.1 456.32,485.68 456.61,483.71 456.9,483.12 457.19,482.8 457.48,481.65 457.78,479.75 458.07,479.07 458.36,478.05 458.65,477.42 458.94,475.61 459.23,474.46 459.52,473.94 459.82,474.38 460.11,474.33 460.4,473.16 460.69,472.17 460.98,472.26 461.27,472.04 461.57,472.84 461.86,472.65 462.15,474.02 462.44,473.72 462.73,474.24 463.02,473.56 463.31,474.2 463.61,474.71 463.9,476.28 464.19,475.97 464.48,476.24 464.77,475.72 465.06,476.71 465.36,477.02 465.65,477.12 465.94,477.12 466.23,477.09 466.52,477.7 466.81,478.17 467.1,479.49 467.4,479.7 467.69,479.89 467.98,479.23 468.27,480.89 468.56,482.05 468.85,483.76 469.14,483.68 469.44,482.94 469.73,482.18 470.02,482.2 470.31,482.95 470.6,483.22 470.89,483.68 471.19,483.9 471.48,484.48 471.77,485.58 472.06,486.21 472.35,485.98 472.64,485.51 472.93,485.67 473.23,486.74 473.52,487.01 473.81,486.71 474.1,486.78 474.39,487.21 474.68,489.17 474.97,489.48 475.27,490.04 475.56,489.66 475.85,489.23 476.14,488.25 476.43,488.41 476.72,488.51 477.01,488.72 477.31,488.35 477.6,488.5 477.89,489.46 478.18,489.71 478.47,490.7 478.76,490.55 479.06,489.74 479.35,489.75 479.64,489.82 479.93,490.64 480.22,490.04 480.51,489.74 480.8,489.02 481.1,489.43 481.39,489.86 481.68,490.46 481.97,490.17 482.26,490.04 482.55,489.74 482.85,489.01 483.14,488.88 483.43,489 483.72,489.21 484.01,489.25 484.3,489.64 484.59,490.67 484.89,490.25 485.18,489.69 485.47,489.3 485.76,489.46 486.05,489.15 486.34,488.73 486.63,489.34 486.93,489.89 487.22,490.22 487.51,489.33 487.8,489.43 488.09,489.75 488.38,490.25 488.68,490.91 488.97,490.65 489.26,490.72 489.55,489.78 489.84,490.21 490.13,490.14 490.42,490.75 490.72,490.78 491.01,490.31 491.3,490.1 491.59,489.47 491.88,490.23 492.17,490 492.46,490.9 492.76,490.64 493.05,490.89 493.34,489.95 493.63,489.68 493.92,489.54 494.21,489.44 494.5,489.44 494.8,489.15 495.09,489.18 495.38,489.29 495.67,489.64 495.96,489.83 496.25,489.98 496.55,489.69 496.84,489.37 497.13,488.83 497.42,489.15 497.71,490.14 498,490.51 498.29,490.38 498.59,489.35 498.88,489.44 499.17,489.41 499.46,489.49 499.75,489.42 500.04,489.26 500.34,488.67 500.63,487.63 500.92,487.02 501.21,487.29 501.5,487.91 501.79,487.47 502.08,487.01 502.38,485.88 502.67,485.62 502.96,484.87 503.25,484.19 503.54,482.94 503.83,481.39 504.12,480.2 504.42,480.06 504.71,480.12 505,480.05 505.29,478.89 505.58,477.55 505.87,476.15 506.16,475.64 506.46,475.51 506.75,475.91 507.04,476.27 507.33,477.01 507.62,477.12 507.91,476.02 508.21,476.11 508.5,475.37 508.79,475.57 509.08,475.26 509.37,476.01 509.66,477.04 509.95,477.22 510.25,477.19 510.54,477.21 510.83,477.07 511.12,477.16 511.41,477.34 511.7,477.95 512,478.81 512.29,479.16 512.58,480.12 512.87,480.28 513.16,480.71 513.45,480.97 513.74,480.61 514.04,481.47 514.33,481.84 514.62,482.99 514.91,483.76 515.2,484.09 515.49,485.19 515.78,485.13 516.08,485.2 516.37,484.76 516.66,484.21 516.95,484.13 517.24,484.07 517.53,484.58 517.83,485.4 518.12,485.7 518.41,486.41 518.7,486.72 518.99,486.79 519.28,486.48 519.57,486.35 519.87,486.88 520.16,487.03 520.45,487.88 520.74,488.41 521.03,489.43 521.32,488.96 521.61,489.35 521.91,488.42 522.2,488.38 522.49,488.55 522.78,489.24 523.07,490.06 523.36,489.8 523.65,489.65 523.95,489.11 524.24,490.01 524.53,490.45 524.82,490.41 525.11,489.53 525.4,488.96 525.7,489.76 525.99,489.71 526.28,490.51 526.57,489.92 526.86,490.01 527.15,489.48 527.44,489.83 527.74,489.95 528.03,490.74 528.32,491.11 528.61,490.98 528.9,490.53 529.19,490.63 529.49,491.24 529.78,491.22 530.07,489.9 530.36,489.12 530.65,488.8 530.94,490.21 531.23,490.7 531.53,490.84 531.82,489.94 532.11,489.73 532.4,490.03 532.69,489.47 532.98,489.03 533.27,488.98 533.57,490.13 533.86,489.89 534.15,490.09 534.44,489.18 534.73,489.25 535.02,489.42 535.32,489.8 535.61,490.75 535.9,490.14 536.19,490.13 536.48,489.18 536.77,489.15 537.06,489.29 537.36,489.64 537.65,490 537.94,490.16 538.23,489.69 538.52,489.93 538.81,489.98 539.1,490.91 539.4,491.01 539.69,491.69 539.98,491.27 540.27,491.16 540.56,490.51 540.85,491.11 541.14,491.19 541.44,491.42 541.73,491.2" fill="none" stroke="#1a1aff" stroke-width="0.95" stroke-linejoin="round"/>
<rect x="357.5" y="327" width="184.5" height="174.1" fill="none" stroke="#8a8a8a" stroke-width="1.5"/>
<path d="M357.5 501.1v-2M357.5 327v2M380.82 501.1v-2M380.82 327v2M404.14 501.1v-2M404.14 327v2M427.46 501.1v-2M427.46 327v2M450.78 501.1v-2M450.78 327v2M474.1 501.1v-2M474.1 327v2M497.42 501.1v-2M497.42 327v2M520.74 501.1v-2M520.74 327v2M357.5 501.1h2M357.5 472.08h2M357.5 443.07h2M357.5 414.05h2M357.5 385.03h2M357.5 356.02h2M357.5 327h2M542 501.1h-2M542 466.28h-2M542 431.46h-2M542 396.64h-2M542 361.82h-2M542 327h-2" stroke="#444" stroke-width="0.8" fill="none"/>
<text x="356" y="503" font-size="5.2" text-anchor="end" fill="#6a6aff" font-family="'Liberation Sans', Arial, sans-serif">0</text>
<text x="356" y="473.98" font-size="5.2" text-anchor="end" fill="#6a6aff" font-family="'Liberation Sans', Arial, sans-serif">20</text>
<text x="356" y="444.97" font-size="5.2" text-anchor="end" fill="#6a6aff" font-family="'Liberation Sans', Arial, sans-serif">40</text>
<text x="356" y="415.95" font-size="5.2" text-anchor="end" fill="#6a6aff" font-family="'Liberation Sans', Arial, sans-serif">60</text>
<text x="356" y="386.93" font-size="5.2" text-anchor="end" fill="#6a6aff" font-family="'Liberation Sans', Arial, sans-serif">80</text>
<text x="356" y="357.92" font-size="5.2" text-anchor="end" fill="#6a6aff" font-family="'Liberation Sans', Arial, sans-serif">100</text>
<text x="356" y="328.9" font-size="5.2" text-anchor="end" fill="#6a6aff" font-family="'Liberation Sans', Arial, sans-serif">120</text>
<text x="543.5" y="503" font-size="5.2" text-anchor="start" fill="#333" font-family="'Liberation Sans', Arial, sans-serif">0</text>
<text x="543.5" y="468.18" font-size="5.2" text-anchor="start" fill="#333" font-family="'Liberation Sans', Arial, sans-serif">5</text>
<text x="543.5" y="433.36" font-size="5.2" text-anchor="start" fill="#333" font-family="'Liberation Sans', Arial, sans-serif">10</text>
<text x="543.5" y="398.54" font-size="5.2" text-anchor="start" fill="#333" font-family="'Liberation Sans', Arial, sans-serif">15</text>
<text x="543.5" y="363.72" font-size="5.2" text-anchor="start" fill="#333" font-family="'Liberation Sans', Arial, sans-serif">20</text>
<text x="543.5" y="328.9" font-size="5.2" text-anchor="start" fill="#333" font-family="'Liberation Sans', Arial, sans-serif">25</text>
<text x="357.5" y="508.3" font-size="5.2" text-anchor="middle" fill="#333" font-family="'Liberation Sans', Arial, sans-serif">0</text>
<text x="380.82" y="508.3" font-size="5.2" text-anchor="middle" fill="#333" font-family="'Liberation Sans', Arial, sans-serif">2</text>
<text x="404.14" y="508.3" font-size="5.2" text-anchor="middle" fill="#333" font-family="'Liberation Sans', Arial, sans-serif">4</text>
<text x="427.46" y="508.3" font-size="5.2" text-anchor="middle" fill="#333" font-family="'Liberation Sans', Arial, sans-serif">6</text>
<text x="450.78" y="508.3" font-size="5.2" text-anchor="middle" fill="#333" font-family="'Liberation Sans', Arial, sans-serif">8</text>
<text x="474.1" y="508.3" font-size="5.2" text-anchor="middle" fill="#333" font-family="'Liberation Sans', Arial, sans-serif">10</text>
<text x="497.42" y="508.3" font-size="5.2" text-anchor="middle" fill="#333" font-family="'Liberation Sans', Arial, sans-serif">12</text>
<text x="520.74" y="508.3" font-size="5.2" text-anchor="middle" fill="#333" font-family="'Liberation Sans', Arial, sans-serif">14</text>
<text x="449.75" y="516.6" font-size="5.6" text-anchor="middle" fill="#333" font-family="'Liberation Sans', Arial, sans-serif">Time (s)</text>
<text x="344.7" y="414.05" font-size="6.2" text-anchor="middle" fill="#4a4aff" font-family="'Liberation Sans', Arial, sans-serif" transform="rotate(-90 344.7 414.05)" textLength="52" lengthAdjust="spacingAndGlyphs">Pixel Differential</text>
<text x="555" y="414.05" font-size="6.2" text-anchor="middle" fill="#333" font-family="'Liberation Sans', Arial, sans-serif" transform="rotate(-90 555 414.05)" textLength="39" lengthAdjust="spacingAndGlyphs">Stimulus (V)</text>
</g>
<g filter="url(#blur)">
<path d="M589.5 503.5V468.36M601.31 503.5V468.36M613.12 503.5V468.36M624.93 503.5V468.36M636.74 503.5V468.36M648.55 503.5V468.36M660.36 503.5V468.36M672.17 503.5V468.36M683.98 503.5V468.36M695.79 503.5V468.36M707.6 503.5V468.36M719.41 503.5V468.36M731.22 503.5V468.36M743.03 503.5V468.36M754.84 503.5V468.36" stroke="#555" stroke-width="1.3" fill="none"/>
<polyline points="589.5,494.71 589.8,494.71 590.09,494.71 590.39,494.71 590.68,491.96 590.98,491.44 591.27,491.69 591.57,491.72 591.86,492.19 592.16,491.77 592.45,491.86 592.75,491.47 593.04,491.48 593.34,490.83 593.63,489.81 593.93,488.75 594.22,487.75 594.52,487.04 594.81,486.59 595.11,485.44 595.4,485.23 595.7,484.04 596,483.63 596.29,482.27 596.59,481.28 596.88,479.98 597.18,478.26 597.47,476.91 597.77,476.83 598.06,476.41 598.36,475.59 598.65,474.07 598.95,473.39 599.24,474.11 599.54,475.03 599.83,476.08 600.13,475.95 600.42,475.17 600.72,475.18 601.01,475.73 601.31,476.2 601.61,476.82 601.9,477.11 602.2,476.87 602.49,475.67 602.79,475.9 603.08,476.15 603.38,477.54 603.67,478.17 603.97,480.1 604.26,479.93 604.56,480.16 604.85,478.83 605.15,479.48 605.44,479.69 605.74,481.69 606.03,481.67 606.33,482.3 606.62,482.1 606.92,483.93 607.22,483.86 607.51,483.83 607.81,483.62 608.1,484.34 608.4,484.95 608.69,484.74 608.99,485.1 609.28,484.96 609.58,485.76 609.87,486.37 610.17,487.52 610.46,488.71 610.76,489.08 611.05,488.81 611.35,488.01 611.64,488.28 611.94,488.77 612.23,489.88 612.53,489.89 612.82,490.04 613.12,489.2 613.42,489.57 613.71,489.59 614.01,489.31 614.3,489.33 614.6,489.54 614.89,490.97 615.19,491.68 615.48,491.84 615.78,491.33 616.07,490.61 616.37,491.15 616.66,491.36 616.96,491.2 617.25,490.39 617.55,490.42 617.84,491.42 618.14,491.64 618.43,491.37 618.73,490.53 619.02,490.98 619.32,490.36 619.62,490.62 619.91,490.52 620.21,492.14 620.5,492.41 620.8,492.88 621.09,492.21 621.39,491.87 621.68,491.91 621.98,491.25 622.27,491.8 622.57,491.7 622.86,492.27 623.16,492.35 623.45,491.97 623.75,491.83 624.04,491.47 624.34,490.96 624.63,491.17 624.93,490.96 625.23,492.05 625.52,492.73 625.82,493.08 626.11,492.83 626.41,492.37 626.7,491.84 627,492.63 627.29,492.89 627.59,493.88 627.88,492.46 628.18,492.24 628.47,491.74 628.77,492.67 629.06,492.12 629.36,492.08 629.65,491.57 629.95,492.69 630.24,492.09 630.54,492.02 630.84,491.04 631.13,491.01 631.43,491.24 631.72,491.51 632.02,491.71 632.31,491.47 632.61,491.5 632.9,491.76 633.2,492.11 633.49,491.75 633.79,491.41 634.08,491.21 634.38,490.77 634.67,491.71 634.97,491.8 635.26,491.87 635.56,491.44 635.85,491.96 636.15,492.08 636.44,491.71 636.74,491.56 637.04,491.79 637.33,492.39 637.63,492.45 637.92,492.8 638.22,492.59 638.51,492.5 638.81,492.58 639.1,492.78 639.4,492.34 639.69,492.21 639.99,491.54 640.28,491.74 640.58,492.24 640.87,493.03 641.17,492.95 641.46,491.85 641.76,491.03 642.05,491.18 642.35,491.4 642.64,492.17 642.94,491.54 643.24,492.04 643.53,491.31 643.83,491.46 644.12,491.42 644.42,491.58 644.71,492.23 645.01,492.15 645.3,491.86 645.6,489.89 645.89,489.6 646.19,489.98 646.48,491.92 646.78,491.79 647.07,492.45 647.37,492.37 647.66,492.64 647.96,492.47 648.25,491.58 648.55,491.29 648.85,491.05 649.14,491.85 649.44,492.77 649.73,493.09 650.03,492.71 650.32,491.97 650.62,491.3 650.91,491.37 651.21,491.82 651.5,491.81 651.8,492.48 652.09,492.26 652.39,491.84 652.68,490.77 652.98,490.95 653.27,491.64 653.57,491.62 653.86,490.76 654.16,491.2 654.46,491.89 654.75,492.48 655.05,491.45 655.34,491.6 655.64,491.45 655.93,492.03 656.23,490.8 656.52,490.88 656.82,490.82 657.11,491.85 657.41,491.61 657.7,491.3 658,491.59 658.29,491.91 658.59,492.68 658.88,492.55 659.18,493.13 659.47,493.12 659.77,493.1 660.06,492.97 660.36,492.26 660.66,491.69 660.95,491.39 661.25,492.01 661.54,491.99 661.84,492.64 662.13,492.91 662.43,492.89 662.72,491.8 663.02,490.6 663.31,490.84 663.61,491.42 663.9,491.8 664.2,491.26 664.49,490.77 664.79,490.48 665.08,490.8 665.38,490.45 665.67,489.27 665.97,487.89 666.26,487.14 666.56,487.04 666.86,486.53 667.15,484.91 667.45,483.94 667.74,482.76 668.04,482.77 668.33,481.8 668.63,480.64 668.92,478.62 669.22,477.83 669.51,477.68 669.81,477.27 670.1,476.7 670.4,476.51 670.69,476.63 670.99,476.45 671.28,475.88 671.58,475.87 671.87,476.28 672.17,476.9 672.47,477.39 672.76,477.88 673.06,478.42 673.35,478.26 673.65,478.6 673.94,478.12 674.24,478.67 674.53,478.42 674.83,478.92 675.12,479.18 675.42,479.01 675.71,479.73 676.01,480.36 676.3,481.29 676.6,480.8 676.89,480.73 677.19,481.38 677.48,482.61 677.78,483.63 678.08,483.66 678.37,483.83 678.67,483.07 678.96,484.15 679.26,484.2 679.55,485.28 679.85,485.2 680.14,486 680.44,486.69 680.73,486.73 681.03,486.61 681.32,487.3 681.62,487.12 681.91,487.93 682.21,487.05 682.5,487.65 682.8,487.29 683.09,487.88 683.39,487.85 683.68,488.51 683.98,489.25 684.28,489.59 684.57,489.52 684.87,488.57 685.16,489.75 685.46,490.25 685.75,490.78 686.05,490.62 686.34,490.75 686.64,490.46 686.93,489.54 687.23,489.89 687.52,490.24 687.82,490.41 688.11,489.85 688.41,490.32 688.7,490.74 689,491.42 689.29,491.82 689.59,491.67 689.88,491.33 690.18,490.47 690.48,490.91 690.77,491.91 691.07,492.77 691.36,492.56 691.66,491.52 691.95,491.39 692.25,491.83 692.54,491.42 692.84,491.71 693.13,491.14 693.43,491.83 693.72,492.04 694.02,491.78 694.31,492.64 694.61,492.51 694.9,492.89 695.2,492.08 695.49,491.47 695.79,491.68 696.09,491.72 696.38,491.18 696.68,491.23 696.97,491.12 697.27,492.36 697.56,492.56 697.86,492.25 698.15,491.63 698.45,491.34 698.74,491.86 699.04,491.81 699.33,492.46 699.63,492.32 699.92,492.68 700.22,492.36 700.51,492.17 700.81,492.32 701.1,492.31 701.4,491.68 701.7,491.14 701.99,490.38 702.29,491.05 702.58,490.96 702.88,491.12 703.17,490.68 703.47,490.14 703.76,490.52 704.06,490.89 704.35,491.81 704.65,493.06 704.94,493.69 705.24,493.66 705.53,492.08 705.83,491.77 706.12,491.34 706.42,491.09 706.71,491.03 707.01,490.92 707.3,490.74 707.6,490.41 707.9,491.32 708.19,491.43 708.49,491.67 708.78,491.44 709.08,491.95 709.37,492.09 709.67,491.54 709.96,491.29 710.26,490.62 710.55,490.81 710.85,491.4 711.14,491.93 711.44,491.82 711.73,491.67 712.03,490.5 712.32,490.92 712.62,490.99 712.91,491.66 713.21,491.29 713.5,491.08 713.8,491.6 714.1,491.72 714.39,491.39 714.69,491.02 714.98,491.29 715.28,491.45 715.57,491.42 715.87,491.01 716.16,492.35 716.46,493.01 716.75,493.59 717.05,492.51 717.34,492.1 717.64,491.46 717.93,491.13 718.23,491.25 718.52,491.59 718.82,491.16 719.11,491.34 719.41,491.23 719.71,491.31 720,490.94 720.3,491.84 720.59,492.29 720.89,492.57 721.18,491.83 721.48,491.58 721.77,491.25 722.07,491.31 722.36,491.37 722.66,491.38 722.95,491.24 723.25,491.47 723.54,491.54 723.84,491.71 724.13,491.99 724.43,492.08 724.72,492.31 725.02,492.62 725.32,492.13 725.61,491.86 725.91,491.39 726.2,491.94 726.5,491.84 726.79,491.82 727.09,491.74 727.38,492.06 727.68,491.71 727.97,492 728.27,491.3 728.56,492.39 728.86,492.53 729.15,492.54 729.45,491.87 729.74,491.72 730.04,491.96 730.33,492.3 730.63,492.01 730.92,493 731.22,492.77 731.52,493.05 731.81,492 732.11,491.5 732.4,491.57 732.7,491.17 732.99,491.72 733.29,492.18 733.58,493.7 733.88,492.89 734.17,492.14 734.47,491.48 734.76,492.35 735.06,492.73 735.35,491.97 735.65,491.72 735.94,490.62 736.24,491.21 736.53,492.08 736.83,492.44 737.12,492.5 737.42,491.7 737.72,491.42 738.01,491.38 738.31,490.85 738.6,491.45 738.9,491.63 739.19,491.88 739.49,492.11 739.78,491.35 740.08,491.18 740.37,490.93 740.67,491.17 740.96,491.32 741.26,491.44 741.55,491.34 741.85,491.64 742.14,491.3 742.44,492 742.73,491.87 743.03,491.95 743.33,491.89 743.62,492.09 743.92,492.45 744.21,491.87 744.51,491.98 744.8,491.61 745.1,491.31 745.39,490.9 745.69,491.68 745.98,492.21 746.28,491.95 746.57,491.45 746.87,491.07 747.16,491.23 747.46,490.96 747.75,491.48 748.05,491.91 748.34,492.17 748.64,492.05 748.93,491.65 749.23,491.39 749.53,491.53 749.82,491.71 750.12,491.72 750.41,492.22 750.71,492.54 751,492.99 751.3,492.45 751.59,492.26 751.89,492.05 752.18,492.31 752.48,491.95 752.77,491.74 753.07,492.03 753.36,492.28 753.66,492.82 753.95,491.55 754.25,491.72 754.54,491.45 754.84,492.06 755.14,491.96 755.43,491.84 755.73,491.28 756.02,491.12 756.32,490.78 756.61,490.94 756.91,491.39 757.2,491.07 757.5,491.23 757.79,490.5 758.09,491.47 758.38,491.42 758.68,491.63 758.97,491.5 759.27,490.94 759.56,490.89 759.86,490.77 760.15,491.57 760.45,491.44 760.75,490.92 761.04,490.77 761.34,490.65 761.63,490.52 761.93,491.21 762.22,491.86 762.52,492.78 762.81,492.27 763.11,491.54 763.4,490.93 763.7,491.36 763.99,492.03 764.29,491.88 764.58,491.69 764.88,491.61 765.17,491.89 765.47,492.38 765.76,492.04 766.06,492.03 766.35,491.12 766.65,491.79 766.95,492.21 767.24,492.66 767.54,492.19 767.83,491.87 768.13,491.59 768.42,491.01 768.72,490.54 769.01,490.86 769.31,491.79 769.6,491.63 769.9,491.48 770.19,490.71 770.49,490.75 770.78,490.84 771.08,491.46 771.37,492.04 771.67,492.16 771.96,492.43 772.26,492.62 772.56,491.96 772.85,491.76 773.15,491.69 773.44,492.19 773.74,492.54 774.03,491.9 774.33,492.61 774.62,492.34 774.92,492.69" fill="none" stroke="#1a1aff" stroke-width="0.95" stroke-linejoin="round"/>
<rect x="589.5" y="327.8" width="185.6" height="175.7" fill="none" stroke="#8a8a8a" stroke-width="1.5"/>
<path d="M589.5 503.5v-2M589.5 327.8v2M613.12 503.5v-2M613.12 327.8v2M636.74 503.5v-2M636.74 327.8v2M660.36 503.5v-2M660.36 327.8v2M683.98 503.5v-2M683.98 327.8v2M707.6 503.5v-2M707.6 327.8v2M731.22 503.5v-2M731.22 327.8v2M754.84 503.5v-2M754.84 327.8v2M589.5 503.5h2M589.5 474.22h2M589.5 444.93h2M589.5 415.65h2M589.5 386.37h2M589.5 357.08h2M589.5 327.8h2M775.1 503.5h-2M775.1 468.36h-2M775.1 433.22h-2M775.1 398.08h-2M775.1 362.94h-2M775.1 327.8h-2" stroke="#444" stroke-width="0.8" fill="none"/>
<text x="588" y="505.4" font-size="5.2" text-anchor="end" fill="#6a6aff" font-family="'Liberation Sans', Arial, sans-serif">0</text>
<text x="588" y="476.12" font-size="5.2" text-anchor="end" fill="#6a6aff" font-family="'Liberation Sans', Arial, sans-serif">20</text>
<text x="588" y="446.83" font-size="5.2" text-anchor="end" fill="#6a6aff" font-family="'Liberation Sans', Arial, sans-serif">40</text>
<text x="588" y="417.55" font-size="5.2" text-anchor="end" fill="#6a6aff" font-family="'Liberation Sans', Arial, sans-serif">60</text>
<text x="588" y="388.27" font-size="5.2" text-anchor="end" fill="#6a6aff" font-family="'Liberation Sans', Arial, sans-serif">80</text>
<text x="588" y="358.98" font-size="5.2" text-anchor="end" fill="#6a6aff" font-family="'Liberation Sans', Arial, sans-serif">100</text>
<text x="588" y="329.7" font-size="5.2" text-anchor="end" fill="#6a6aff" font-family="'Liberation Sans', Arial, sans-serif">120</text>
<text x="776.6" y="505.4" font-size="5.2" text-anchor="start" fill="#333" font-family="'Liberation Sans', Arial, sans-serif">0</text>
<text x="776.6" y="470.26" font-size="5.2" text-anchor="start" fill="#333" font-family="'Liberation Sans', Arial, sans-serif">5</text>
<text x="776.6" y="435.12" font-size="5.2" text-anchor="start" fill="#333" font-family="'Liberation Sans', Arial, sans-serif">10</text>
<text x="776.6" y="399.98" font-size="5.2" text-anchor="start" fill="#333" font-family="'Liberation Sans', Arial, sans-serif">15</text>
<text x="776.6" y="364.84" font-size="5.2" text-anchor="start" fill="#333" font-family="'Liberation Sans', Arial, sans-serif">20</text>
<text x="776.6" y="329.7" font-size="5.2" text-anchor="start" fill="#333" font-family="'Liberation Sans', Arial, sans-serif">25</text>
<text x="589.5" y="510.7" font-size="5.2" text-anchor="middle" fill="#333" font-family="'Liberation Sans', Arial, sans-serif">0</text>
<text x="613.12" y="510.7" font-size="5.2" text-anchor="middle" fill="#333" font-family="'Liberation Sans', Arial, sans-serif">2</text>
<text x="636.74" y="510.7" font-size="5.2" text-anchor="middle" fill="#333" font-family="'Liberation Sans', Arial, sans-serif">4</text>
<text x="660.36" y="510.7" font-size="5.2" text-anchor="middle" fill="#333" font-family="'Liberation Sans', Arial, sans-serif">6</text>
<text x="683.98" y="510.7" font-size="5.2" text-anchor="middle" fill="#333" font-family="'Liberation Sans', Arial, sans-serif">8</text>
<text x="707.6" y="510.7" font-size="5.2" text-anchor="middle" fill="#333" font-family="'Liberation Sans', Arial, sans-serif">10</text>
<text x="731.22" y="510.7" font-size="5.2" text-anchor="middle" fill="#333" font-family="'Liberation Sans', Arial, sans-serif">12</text>
<text x="754.84" y="510.7" font-size="5.2" text-anchor="middle" fill="#333" font-family="'Liberation Sans', Arial, sans-serif">14</text>
<text x="682.3" y="519" font-size="5.6" text-anchor="middle" fill="#333" font-family="'Liberation Sans', Arial, sans-serif">Time (s)</text>
<text x="576.7" y="415.65" font-size="6.2" text-anchor="middle" fill="#4a4aff" font-family="'Liberation Sans', Arial, sans-serif" transform="rotate(-90 576.7 415.65)" textLength="52" lengthAdjust="spacingAndGlyphs">Pixel Differential</text>
<text x="788.1" y="415.65" font-size="6.2" text-anchor="middle" fill="#333" font-family="'Liberation Sans', Arial, sans-serif" transform="rotate(-90 788.1 415.65)" textLength="39" lengthAdjust="spacingAndGlyphs">Stimulus (V)</text>
</g>
<g filter="url(#blur)">
<path d="M835.8 507V471.26M841.7 507V471.26M847.6 507V471.26M853.5 507V471.26M859.4 507V471.26M865.3 507V471.26M871.2 507V471.26M877.1 507V471.26M883 507V471.26M888.9 507V471.26M894.8 507V471.26M900.7 507V471.26M906.6 507V471.26M912.5 507V471.26M918.4 507V471.26M924.3 507V471.26M930.2 507V471.26M936.1 507V471.26M942 507V471.26M947.9 507V471.26M953.8 507V471.26M959.7 507V471.26M965.6 507V471.26M971.5 507V471.26M977.4 507V471.26M983.3 507V471.26M989.2 507V471.26M995.1 507V471.26M1001 507V471.26M1006.9 507V471.26" stroke="#555" stroke-width="1.1" fill="none"/>
<polyline points="835.8,501.04 836.09,501.04 836.39,501.04 836.68,501.04 836.98,495.73 837.27,495.12 837.57,494.65 837.87,494.34 838.16,493.68 838.45,493.7 838.75,494.02 839.04,494.04 839.34,493.61 839.63,493.14 839.93,492.07 840.22,491.49 840.52,489.95 840.81,489.88 841.11,488.87 841.4,487.83 841.7,486.49 842,485.34 842.29,485.14 842.58,483.37 842.88,482.79 843.17,481.86 843.47,481.92 843.76,481.14 844.06,479.58 844.35,479.25 844.65,478.72 844.94,479.32 845.24,478.16 845.53,478.14 845.83,477.13 846.12,478.52 846.42,478.66 846.71,479.99 847.01,479.61 847.3,479.87 847.6,480.41 847.89,481.39 848.19,482.44 848.48,482.76 848.78,482.99 849.07,483.3 849.37,483.69 849.66,483.79 849.96,483.64 850.25,484.04 850.55,484.74 850.84,485.4 851.14,485.44 851.43,485.95 851.73,486.1 852.02,486.14 852.32,486.05 852.62,486.89 852.91,486.88 853.2,486.9 853.5,487.38 853.79,488.59 854.09,489.18 854.38,489.69 854.68,489.81 854.97,490.55 855.27,490.78 855.56,491.24 855.86,492.03 856.15,492.08 856.45,492.81 856.75,491.29 857.04,490.38 857.33,488.93 857.63,489.38 857.92,489.15 858.22,488.6 858.51,487.67 858.81,486.92 859.1,486.88 859.4,486.12 859.69,485.62 859.99,484.58 860.28,484.02 860.58,482.46 860.88,480.45 861.17,479.44 861.46,477.93 861.76,476.91 862.05,475.83 862.35,476.18 862.64,476.49 862.94,475.89 863.23,475.93 863.53,476.43 863.82,476.8 864.12,477.62 864.41,477.33 864.71,477.25 865,476.59 865.3,476.63 865.59,477.21 865.89,477.39 866.18,478.01 866.48,478.91 866.77,479.7 867.07,480.22 867.37,479.87 867.66,479.62 867.95,479.91 868.25,481.19 868.54,482.61 868.84,483.35 869.13,483.04 869.43,483.15 869.72,483.62 870.02,484.98 870.31,485.28 870.61,485.66 870.9,485.89 871.2,486.69 871.5,486.64 871.79,487.16 872.08,487.01 872.38,487.63 872.67,487.99 872.97,488.73 873.26,489.66 873.56,490.4 873.86,491.22 874.15,491.88 874.44,491.7 874.74,491.92 875.03,491.66 875.33,491.83 875.62,493.32 875.92,493.68 876.21,494.94 876.51,493.89 876.8,494.56 877.1,494.03 877.39,493.75 877.69,494.24 877.98,494.36 878.28,495.07 878.57,495.27 878.87,495.22 879.16,495.29 879.46,494.86 879.75,495.48 880.05,494.34 880.34,494.37 880.64,494.86 880.93,496.53 881.23,496.58 881.52,496.08 881.82,495.8 882.12,496.1 882.41,495.78 882.7,495.97 883,496.12 883.29,496.68 883.59,496.66 883.88,495.83 884.18,495.34 884.47,495.34 884.77,495.67 885.06,495.79 885.36,494.88 885.65,495.14 885.95,495.05 886.25,495.56 886.54,495.7 886.83,495.81 887.13,496.04 887.42,495.85 887.72,495.71 888.01,495.38 888.31,494.76 888.61,495.06 888.9,495.38 889.19,494.91 889.49,495.27 889.78,495.26 890.08,495.82 890.38,495.34 890.67,495.17 890.96,495.45 891.26,495.22 891.55,494.97 891.85,495.13 892.14,495.34 892.44,495.86 892.73,495.93 893.03,496.02 893.32,496.43 893.62,495.99 893.91,495.32 894.21,494.22 894.5,494.02 894.8,495.05 895.09,495.12 895.39,495.89 895.68,495.54 895.98,495.41 896.27,495.55 896.57,495.21 896.87,495.81 897.16,495.46 897.45,496.12 897.75,496.07 898.04,496.19 898.34,495.44 898.63,495.13 898.93,495.49 899.22,496.09 899.52,496.68 899.81,496.61 900.11,496.84 900.4,496.69 900.7,496.31 901,496.52 901.29,496.76 901.58,496.48 901.88,496.31 902.17,496.45 902.47,496.04 902.76,495.06 903.06,495.33 903.36,496.47 903.65,496.84 903.94,496.67 904.24,496.24 904.53,496.56 904.83,495.89 905.12,496.77 905.42,497.45 905.71,498.14 906.01,496.77 906.3,495.97 906.6,496.16 906.89,496.36 907.19,496.03 907.48,495.46 907.78,495.78 908.07,495.88 908.37,495.32 908.66,495.14 908.96,495.1 909.25,495.58 909.55,495.79 909.84,496.35 910.14,496.23 910.43,496.2 910.73,495.94 911.02,495.68 911.32,495.38 911.62,494.95 911.91,495.92 912.2,495.89 912.5,496.45 912.79,496.16 913.09,496.7 913.38,496 913.68,495.37 913.97,495.32 914.27,496.23 914.56,496.54 914.86,496.44 915.15,495.36 915.45,495.93 915.75,496.46 916.04,497.2 916.33,496.63 916.63,495.87 916.92,495.48 917.22,494.69 917.51,494.87 917.81,495.37 918.11,496.85 918.4,496.63 918.69,496.09 918.99,495.51 919.28,495.15 919.58,495.46 919.88,494.78 920.17,495.1 920.46,495.53 920.76,496.36 921.05,497.08 921.35,497.34 921.64,496.99 921.94,496.06 922.23,494.64 922.53,494.76 922.82,495.19 923.12,496.37 923.41,495.97 923.71,495.73 924,495.53 924.3,495.64 924.6,495.58 924.89,496.07 925.18,496.05 925.48,496.21 925.77,495.64 926.07,496.09 926.37,495.47 926.66,494.72 926.95,493.85 927.25,494.97 927.54,495.82 927.84,496.18 928.13,496.2 928.43,496.23 928.72,497.28 929.02,496.09 929.31,495.4 929.61,494.53 929.9,495.16 930.2,495.73 930.5,496.06 930.79,495.91 931.09,496.02 931.38,495.39 931.67,495.82 931.97,495.88 932.26,495.86 932.56,495.72 932.86,495.17 933.15,495.83 933.44,496.65 933.74,496.65 934.03,497.01 934.33,495.72 934.62,496.53 934.92,496.73 935.21,497.03 935.51,496.27 935.8,495.51 936.1,496.09 936.39,495.92 936.69,496.52 936.99,496.23 937.28,496.88 937.57,496.46 937.87,495.95 938.16,495.89 938.46,495.53 938.75,495.59 939.05,496.01 939.35,496.68 939.64,497.09 939.93,496.66 940.23,496.09 940.52,496.69 940.82,496.18 941.12,496.01 941.41,495.33 941.7,496.14 942,496.43 942.29,496.57 942.59,495.82 942.88,495.85 943.18,495.36 943.47,495.75 943.77,495.16 944.06,496.33 944.36,496.56 944.65,496.93 944.95,496.62 945.25,495.94 945.54,496.6 945.84,495.98 946.13,496.62 946.42,496.32 946.72,496.29 947.01,495.97 947.31,495.95 947.61,495.19 947.9,495.14 948.19,495.37 948.49,495.84 948.78,495.53 949.08,494.68 949.38,494.35 949.67,495.03 949.96,495.09 950.26,495.34 950.55,494.98 950.85,495.3 951.14,496.9 951.44,497.12 951.74,496.52 952.03,496.05 952.32,496.04 952.62,496.62 952.91,495.7 953.21,494.87 953.5,495.66 953.8,495.87 954.1,496.16 954.39,495.99 954.68,496.02 954.98,495.63 955.27,494.61 955.57,494.38 955.87,496.12 956.16,496.68 956.45,496.74 956.75,495.85 957.04,495.83 957.34,494.78 957.63,494.75 957.93,495.1 958.22,496.2 958.52,496.23 958.81,495.98 959.11,496.11 959.4,495.69 959.7,495.47 960,495.9 960.29,496.26 960.59,496.16 960.88,495.88 961.17,495.38 961.47,495.27 961.76,495.47 962.06,495.79 962.36,495.32 962.65,494.34 962.94,494.48 963.24,494.9 963.53,495.77 963.83,496.3 964.12,496.44 964.42,496.08 964.71,495.32 965.01,495.55 965.3,495.52 965.6,495.91 965.89,495.72 966.19,495.52 966.49,495.35 966.78,495.22 967.07,496.22 967.37,496.51 967.66,496.26 967.96,494.89 968.25,494.49 968.55,495.09 968.85,496.26 969.14,496.22 969.43,495.88 969.73,495.96 970.02,495.89 970.32,496 970.62,495.25 970.91,495.91 971.2,495.89 971.5,496.64 971.79,495.63 972.09,495.78 972.38,495.65 972.68,495.71 972.97,495.31 973.27,495.12 973.56,494.78 973.86,495.62 974.15,495.25 974.45,495.64 974.75,496.13 975.04,495.86 975.34,496.35 975.63,495.47 975.92,496.28 976.22,496.13 976.51,496.55 976.81,496.51 977.11,496.81 977.4,496.85 977.69,495.87 977.99,496.21 978.28,496.03 978.58,496.76 978.88,496.24 979.17,495.65 979.46,495.21 979.76,495.33 980.05,495.78 980.35,496.08 980.64,495.65 980.94,495.23 981.24,495.44 981.53,496.56 981.82,496 982.12,495.43 982.41,494.53 982.71,495.23 983,495.8 983.3,496.29 983.6,496.55 983.89,496.43 984.18,496.29 984.48,496.72 984.77,496.76 985.07,496.29 985.37,495.92 985.66,495.79 985.95,496.82 986.25,496.7 986.54,496.76 986.84,496.43 987.13,497.02 987.43,496.82 987.72,496.65 988.02,495.8 988.31,496.12 988.61,495.56 988.9,495.88 989.2,496.3 989.5,496.58 989.79,496.57 990.09,495.74 990.38,495.88 990.67,495.9 990.97,495.82 991.26,495.2 991.56,494.75 991.86,494.68 992.15,494.96 992.44,494.96 992.74,495.02 993.03,495.04 993.33,495.31 993.62,495.6 993.92,494.82 994.21,494.84 994.51,494.99 994.8,496.06 995.1,496.08 995.39,495.89 995.69,496.19 995.99,496.94 996.28,496.92 996.57,497.1 996.87,496.24 997.16,496.3 997.46,495.23 997.75,494.68 998.05,494.6 998.35,495.26 998.64,496.36 998.93,496.81 999.23,496.58 999.52,496.92 999.82,496.59 1000.12,496.61 1000.41,495.56 1000.7,495.72 1001,495.67 1001.29,496.21 1001.59,496.26 1001.88,496.98 1002.18,496.65 1002.47,495.87 1002.77,495.12 1003.06,495.03 1003.36,496.01 1003.65,495.52 1003.95,495.95 1004.25,495.26 1004.54,495.78 1004.84,495.85 1005.13,495.76 1005.42,495.8 1005.72,495.36 1006.01,495.58 1006.31,495.6 1006.61,495.81 1006.9,495.81 1007.19,495.95 1007.49,495.78 1007.78,496.22 1008.08,496.64 1008.38,496.93 1008.67,496.86 1008.96,496.28 1009.26,495.56 1009.55,496.02 1009.85,495.98 1010.14,497.29 1010.44,497.04 1010.74,497.29 1011.03,497.3 1011.32,497.62 1011.62,497.36 1011.91,496.46 1012.21,495.79 1012.5,496.16 1012.8,495.35 1013.1,495.37 1013.39,495.39 1013.68,495.58 1013.98,495.28 1014.27,495.09 1014.57,495.28 1014.87,495.45 1015.16,495.06 1015.45,495.43 1015.75,495.89 1016.04,495.76 1016.34,495.79 1016.63,495.78 1016.93,496.45 1017.22,496.15 1017.52,495.9 1017.81,495.59 1018.11,495.7 1018.4,495.51 1018.7,496.12 1019,496.13 1019.29,495.81 1019.59,494.89 1019.88,494.51 1020.17,494.73 1020.47,494.76" fill="none" stroke="#1a1aff" stroke-width="0.95" stroke-linejoin="round"/>
<rect x="835.8" y="328.3" width="184.7" height="178.7" fill="none" stroke="#8a8a8a" stroke-width="1.5"/>
<path d="M835.8 507v-2M835.8 328.3v2M859.4 507v-2M859.4 328.3v2M883 507v-2M883 328.3v2M906.6 507v-2M906.6 328.3v2M930.2 507v-2M930.2 328.3v2M953.8 507v-2M953.8 328.3v2M977.4 507v-2M977.4 328.3v2M1001 507v-2M1001 328.3v2M835.8 507h2M835.8 477.22h2M835.8 447.43h2M835.8 417.65h2M835.8 387.87h2M835.8 358.08h2M835.8 328.3h2M1020.5 507h-2M1020.5 471.26h-2M1020.5 435.52h-2M1020.5 399.78h-2M1020.5 364.04h-2M1020.5 328.3h-2" stroke="#444" stroke-width="0.8" fill="none"/>
<text x="834.3" y="508.9" font-size="5.2" text-anchor="end" fill="#6a6aff" font-family="'Liberation Sans', Arial, sans-serif">0</text>
<text x="834.3" y="479.12" font-size="5.2" text-anchor="end" fill="#6a6aff" font-family="'Liberation Sans', Arial, sans-serif">20</text>
<text x="834.3" y="449.33" font-size="5.2" text-anchor="end" fill="#6a6aff" font-family="'Liberation Sans', Arial, sans-serif">40</text>
<text x="834.3" y="419.55" font-size="5.2" text-anchor="end" fill="#6a6aff" font-family="'Liberation Sans', Arial, sans-serif">60</text>
<text x="834.3" y="389.77" font-size="5.2" text-anchor="end" fill="#6a6aff" font-family="'Liberation Sans', Arial, sans-serif">80</text>
<text x="834.3" y="359.98" font-size="5.2" text-anchor="end" fill="#6a6aff" font-family="'Liberation Sans', Arial, sans-serif">100</text>
<text x="834.3" y="330.2" font-size="5.2" text-anchor="end" fill="#6a6aff" font-family="'Liberation Sans', Arial, sans-serif">120</text>
<text x="1022" y="508.9" font-size="5.2" text-anchor="start" fill="#333" font-family="'Liberation Sans', Arial, sans-serif">0</text>
<text x="1022" y="473.16" font-size="5.2" text-anchor="start" fill="#333" font-family="'Liberation Sans', Arial, sans-serif">5</text>
<text x="1022" y="437.42" font-size="5.2" text-anchor="start" fill="#333" font-family="'Liberation Sans', Arial, sans-serif">10</text>
<text x="1022" y="401.68" font-size="5.2" text-anchor="start" fill="#333" font-family="'Liberation Sans', Arial, sans-serif">15</text>
<text x="1022" y="365.94" font-size="5.2" text-anchor="start" fill="#333" font-family="'Liberation Sans', Arial, sans-serif">20</text>
<text x="1022" y="330.2" font-size="5.2" text-anchor="start" fill="#333" font-family="'Liberation Sans', Arial, sans-serif">25</text>
<text x="835.8" y="514.2" font-size="5.2" text-anchor="middle" fill="#333" font-family="'Liberation Sans', Arial, sans-serif">0</text>
<text x="859.4" y="514.2" font-size="5.2" text-anchor="middle" fill="#333" font-family="'Liberation Sans', Arial, sans-serif">2</text>
<text x="883" y="514.2" font-size="5.2" text-anchor="middle" fill="#333" font-family="'Liberation Sans', Arial, sans-serif">4</text>
<text x="906.6" y="514.2" font-size="5.2" text-anchor="middle" fill="#333" font-family="'Liberation Sans', Arial, sans-serif">6</text>
<text x="930.2" y="514.2" font-size="5.2" text-anchor="middle" fill="#333" font-family="'Liberation Sans', Arial, sans-serif">8</text>
<text x="953.8" y="514.2" font-size="5.2" text-anchor="middle" fill="#333" font-family="'Liberation Sans', Arial, sans-serif">10</text>
<text x="977.4" y="514.2" font-size="5.2" text-anchor="middle" fill="#333" font-family="'Liberation Sans', Arial, sans-serif">12</text>
<text x="1001" y="514.2" font-size="5.2" text-anchor="middle" fill="#333" font-family="'Liberation Sans', Arial, sans-serif">14</text>
<text x="928.15" y="522.5" font-size="5.6" text-anchor="middle" fill="#333" font-family="'Liberation Sans', Arial, sans-serif">Time (s)</text>
<text x="823" y="417.65" font-size="6.2" text-anchor="middle" fill="#4a4aff" font-family="'Liberation Sans', Arial, sans-serif" transform="rotate(-90 823 417.65)" textLength="52" lengthAdjust="spacingAndGlyphs">Pixel Differential</text>
<text x="1033.5" y="417.65" font-size="6.2" text-anchor="middle" fill="#333" font-family="'Liberation Sans', Arial, sans-serif" transform="rotate(-90 1033.5 417.65)" textLength="39" lengthAdjust="spacingAndGlyphs">Stimulus (V)</text>
</g>
<g filter="url(#blur)">
<path d="M1083 503.5V468.36M1085.96 503.5V468.36M1088.93 503.5V468.36M1091.89 503.5V468.36M1094.86 503.5V468.36M1097.83 503.5V468.36M1100.79 503.5V468.36M1103.76 503.5V468.36M1106.72 503.5V468.36M1109.68 503.5V468.36M1112.65 503.5V468.36M1115.62 503.5V468.36M1118.58 503.5V468.36M1121.55 503.5V468.36M1124.51 503.5V468.36M1127.47 503.5V468.36M1130.44 503.5V468.36M1133.4 503.5V468.36M1136.37 503.5V468.36M1139.34 503.5V468.36M1142.3 503.5V468.36M1145.27 503.5V468.36M1148.23 503.5V468.36M1151.19 503.5V468.36M1154.16 503.5V468.36M1157.12 503.5V468.36M1160.09 503.5V468.36M1163.06 503.5V468.36M1166.02 503.5V468.36M1168.98 503.5V468.36M1171.95 503.5V468.36M1174.91 503.5V468.36M1177.88 503.5V468.36M1180.85 503.5V468.36M1183.81 503.5V468.36M1186.78 503.5V468.36M1189.74 503.5V468.36M1192.7 503.5V468.36M1195.67 503.5V468.36M1198.63 503.5V468.36M1201.6 503.5V468.36M1204.57 503.5V468.36M1207.53 503.5V468.36M1210.49 503.5V468.36M1213.46 503.5V468.36M1216.42 503.5V468.36M1219.39 503.5V468.36M1222.36 503.5V468.36M1225.32 503.5V468.36M1228.29 503.5V468.36M1231.25 503.5V468.36M1234.21 503.5V468.36M1237.18 503.5V468.36M1240.14 503.5V468.36M1243.11 503.5V468.36M1246.08 503.5V468.36M1249.04 503.5V468.36M1252.01 503.5V468.36M1254.97 503.5V468.36M1257.93 503.5V468.36M1260.9 503.5V468.36" stroke="#555" stroke-width="1.15" fill="none"/>
<polyline points="1083,494.71 1083.3,494.71 1083.59,494.71 1083.89,494.71 1084.19,490.55 1084.48,490.64 1084.78,490.61 1085.08,489.83 1085.37,489.85 1085.67,489.03 1085.96,488.47 1086.26,488.19 1086.56,487.82 1086.85,486.95 1087.15,486.07 1087.45,485.43 1087.74,484.77 1088.04,483.58 1088.34,482.09 1088.63,480.33 1088.93,478.16 1089.23,476.65 1089.52,475.53 1089.82,474.8 1090.12,473.86 1090.41,473.66 1090.71,473.3 1091.01,473.35 1091.3,473.15 1091.6,473.6 1091.89,473.96 1092.19,474.09 1092.49,474.5 1092.78,474.25 1093.08,474.33 1093.38,474.01 1093.67,474.31 1093.97,474.28 1094.27,474.82 1094.56,475.29 1094.86,476.51 1095.16,477.47 1095.45,478.53 1095.75,477.72 1096.05,477.97 1096.34,477.46 1096.64,477.91 1096.94,477.83 1097.23,477.83 1097.53,478.14 1097.83,478.06 1098.12,478.24 1098.42,479.17 1098.71,480.27 1099.01,481.43 1099.31,482.29 1099.6,482.96 1099.9,484.09 1100.2,483.48 1100.49,483.62 1100.79,483.57 1101.09,485.11 1101.38,485.25 1101.68,485.72 1101.98,486 1102.27,486.88 1102.57,487.67 1102.87,488.13 1103.16,487.87 1103.46,486.84 1103.76,486.43 1104.05,486.1 1104.35,486.94 1104.64,487.57 1104.94,488.94 1105.24,489.26 1105.53,490.14 1105.83,489.79 1106.13,489.17 1106.42,488.17 1106.72,487.49 1107.02,488.05 1107.31,488.41 1107.61,488.64 1107.91,488.18 1108.2,486.64 1108.5,485.06 1108.8,484.45 1109.09,484.23 1109.39,484.16 1109.68,483.08 1109.98,482.45 1110.28,481.4 1110.57,480.19 1110.87,478.68 1111.17,478.36 1111.46,477.84 1111.76,478.07 1112.06,476.85 1112.35,476.95 1112.65,476.32 1112.95,476.88 1113.24,476.77 1113.54,477.16 1113.84,477.77 1114.13,477.02 1114.43,476.67 1114.73,476.08 1115.02,476.14 1115.32,476.5 1115.62,476.63 1115.91,477.68 1116.21,477.47 1116.5,477.78 1116.8,477.98 1117.1,478.86 1117.39,479.28 1117.69,479.31 1117.99,480.36 1118.28,480.88 1118.58,481.86 1118.88,481.56 1119.17,482.65 1119.47,482.6 1119.77,483.2 1120.06,482.92 1120.36,483.78 1120.66,484.48 1120.95,484.94 1121.25,485.83 1121.55,485.92 1121.84,486.23 1122.14,485.89 1122.43,485.86 1122.73,486.13 1123.03,485.64 1123.32,485.81 1123.62,486.53 1123.92,487.87 1124.21,488.57 1124.51,488.45 1124.81,488.7 1125.1,489.03 1125.4,488.57 1125.7,488.55 1125.99,488.57 1126.29,489.49 1126.59,489.78 1126.88,489.3 1127.18,489.19 1127.47,488.84 1127.77,490.7 1128.07,490.9 1128.36,491.05 1128.66,489.24 1128.96,489.46 1129.25,490.62 1129.55,491.24 1129.85,491.57 1130.14,491.68 1130.44,492.21 1130.74,491.65 1131.03,490.57 1131.33,490.12 1131.63,490.97 1131.92,490.52 1132.22,491.28 1132.52,490.95 1132.81,492.49 1133.11,491.57 1133.4,491.4 1133.7,490.54 1134,491.03 1134.29,491.24 1134.59,491.53 1134.89,492.3 1135.18,491.91 1135.48,491.64 1135.78,491.09 1136.07,491.48 1136.37,491.72 1136.67,490.98 1136.96,490.82 1137.26,490.92 1137.56,491.72 1137.85,492.46 1138.15,492.71 1138.45,492.49 1138.74,492.02 1139.04,491.76 1139.34,491.51 1139.63,491.25 1139.93,491.17 1140.22,491.21 1140.52,491.3 1140.82,491.42 1141.11,491.49 1141.41,492.22 1141.71,491.73 1142,492.4 1142.3,491.43 1142.6,491.9 1142.89,490.99 1143.19,491.29 1143.49,491.66 1143.78,491.67 1144.08,491.61 1144.38,491.21 1144.67,491.58 1144.97,491.27 1145.27,491.01 1145.56,490.95 1145.86,491.92 1146.15,492.38 1146.45,492.43 1146.75,491.16 1147.04,490.86 1147.34,490.93 1147.64,491.16 1147.93,491.35 1148.23,491.32 1148.53,491.72 1148.82,492.25 1149.12,491.87 1149.42,491.77 1149.71,491.31 1150.01,492.1 1150.31,492.19 1150.6,491.55 1150.9,491.35 1151.19,491.84 1151.49,492.21 1151.79,492.58 1152.08,493.02 1152.38,493.34 1152.68,493 1152.97,492.26 1153.27,492.3 1153.57,491.91 1153.86,491.89 1154.16,491.91 1154.46,492.21 1154.75,491.88 1155.05,491.29 1155.35,490.77 1155.64,490.75 1155.94,492.37 1156.24,493.09 1156.53,493.48 1156.83,492.14 1157.12,492.38 1157.42,491.72 1157.72,491.68 1158.01,491.3 1158.31,491.78 1158.61,492.02 1158.9,492.08 1159.2,491.94 1159.5,491.98 1159.79,492.23 1160.09,492.66 1160.39,492.52 1160.68,492.39 1160.98,491.66 1161.28,492.01 1161.57,490.91 1161.87,491.02 1162.17,490.93 1162.46,491.5 1162.76,491.32 1163.06,490.94 1163.35,491.33 1163.65,491.59 1163.94,490.57 1164.24,490.46 1164.54,490.02 1164.83,490.44 1165.13,489.54 1165.43,489.45 1165.72,489.06 1166.02,488.05 1166.32,487.04 1166.61,486.6 1166.91,485.67 1167.21,485.63 1167.5,484.21 1167.8,483.95 1168.1,482.25 1168.39,481.64 1168.69,480.66 1168.98,480.56 1169.28,479.86 1169.58,479.78 1169.87,478.75 1170.17,479.31 1170.47,479 1170.76,479.67 1171.06,479.38 1171.36,480.12 1171.65,480.22 1171.95,480.96 1172.25,481.39 1172.54,481.43 1172.84,481.62 1173.14,480.73 1173.43,481.3 1173.73,480.82 1174.03,481.56 1174.32,481.53 1174.62,481.98 1174.91,482.4 1175.21,482.87 1175.51,482.64 1175.8,482.35 1176.1,482.1 1176.4,482.65 1176.69,483.45 1176.99,484.86 1177.29,485.05 1177.58,484.95 1177.88,484.76 1178.18,484.99 1178.47,485.11 1178.77,485.21 1179.07,485.39 1179.36,486.04 1179.66,487.01 1179.96,487.86 1180.25,488.39 1180.55,487.77 1180.85,488.16 1181.14,488.41 1181.44,489.2 1181.73,489.1 1182.03,489.12 1182.33,488.58 1182.62,488.45 1182.92,488.6 1183.22,489.05 1183.51,489.47 1183.81,489.64 1184.11,489.29 1184.4,490.42 1184.7,490.66 1185,491.25 1185.29,489.98 1185.59,490.44 1185.89,490.52 1186.18,490.72 1186.48,490.55 1186.78,491.49 1187.07,492.03 1187.37,492.38 1187.66,491.47 1187.96,491.71 1188.26,490.63 1188.55,490.87 1188.85,490.9 1189.15,491.8 1189.44,492.31 1189.74,491.89 1190.04,491.16 1190.33,490.85 1190.63,490.67 1190.93,491.62 1191.22,491.44 1191.52,490.93 1191.82,491.12 1192.11,490.79 1192.41,491.23 1192.7,491.42 1193,492.44 1193.3,493.27 1193.59,492.19 1193.89,491.82 1194.19,491.52 1194.48,491.62 1194.78,491.42 1195.08,491.27 1195.37,491.67 1195.67,491.29 1195.97,491.67 1196.26,490.92 1196.56,491.47 1196.86,491.48 1197.15,491.88 1197.45,491.58 1197.75,492.03 1198.04,492.19 1198.34,492.88 1198.63,492.44 1198.93,492.23 1199.23,492.04 1199.52,491.59 1199.82,492.04 1200.12,490.97 1200.41,491.15 1200.71,491.45 1201.01,492.61 1201.3,492.92 1201.6,492.42 1201.9,492 1202.19,491.29 1202.49,491.28 1202.79,491.23 1203.08,491.47 1203.38,491.59 1203.68,491.52 1203.97,491.35 1204.27,491 1204.57,491.32 1204.86,492.29 1205.16,492.9 1205.45,492.58 1205.75,492.86 1206.05,492.73 1206.34,492.67 1206.64,491.94 1206.94,492.18 1207.23,491.69 1207.53,490.95 1207.83,490.62 1208.12,490.78 1208.42,490.82 1208.72,491.15 1209.01,490.63 1209.31,491.48 1209.61,491.16 1209.9,492.59 1210.2,492.21 1210.49,492.61 1210.79,492.19 1211.09,491.81 1211.38,491.23 1211.68,491.33 1211.98,491.15 1212.27,491.58 1212.57,491.11 1212.87,491.81 1213.16,491.39 1213.46,491.75 1213.76,491.58 1214.05,491.69 1214.35,492 1214.65,492.26 1214.94,492.07 1215.24,491.82 1215.54,492.05 1215.83,492.48 1216.13,492.71 1216.42,492.29 1216.72,491.95 1217.02,491.65 1217.31,491.88 1217.61,491.94 1217.91,492.5 1218.2,493.35 1218.5,493.38 1218.8,493.49 1219.09,492.75 1219.39,493.19 1219.69,492.32 1219.98,492.42 1220.28,491.86 1220.58,492.29 1220.87,492.3 1221.17,493 1221.47,492.64 1221.76,492.03 1222.06,491.14 1222.36,490.62 1222.65,490.66 1222.95,490.85 1223.24,491.59 1223.54,491.66 1223.84,491.9 1224.13,492.19 1224.43,491.48 1224.73,492.05 1225.02,491.62 1225.32,492.21 1225.62,491.44 1225.91,491.91 1226.21,492.15 1226.51,492.38 1226.8,492.43 1227.1,492.37 1227.4,492.36 1227.69,492.16 1227.99,491.88 1228.29,492.13 1228.58,491.75 1228.88,492.25 1229.17,491.68 1229.47,491.83 1229.77,491.5 1230.06,492.04 1230.36,492.36 1230.66,492.78 1230.95,492.34 1231.25,491.76 1231.55,491.03 1231.84,491.29 1232.14,491.54 1232.44,492.56 1232.73,493.22 1233.03,493.58 1233.33,493.22 1233.62,492.97 1233.92,493.31 1234.21,492.86 1234.51,492.57 1234.81,492.54 1235.1,491.86 1235.4,491.49 1235.7,490.98 1235.99,491.6 1236.29,491.96 1236.59,491.23 1236.88,492.08 1237.18,492.28 1237.48,492.94 1237.77,492.65 1238.07,491.62 1238.37,492.17 1238.66,492.16 1238.96,492.61 1239.26,491.79 1239.55,491.13 1239.85,491.09 1240.14,490.47 1240.44,491.03 1240.74,491.1 1241.03,491.61 1241.33,491.55 1241.63,491.73 1241.92,492.23 1242.22,492.36 1242.52,492.67 1242.81,492.71 1243.11,493.05 1243.41,492.48 1243.7,492.88 1244,491.51 1244.3,491.01 1244.59,489.99 1244.89,490.85 1245.19,491.72 1245.48,491.67 1245.78,491.52 1246.08,491.09 1246.37,491.83 1246.67,491.49 1246.96,492.01 1247.26,491.7 1247.56,492.76 1247.85,492.7 1248.15,492.55 1248.45,492.07 1248.74,491.99 1249.04,491.88 1249.34,491.74 1249.63,491.1 1249.93,492.32 1250.23,492.07 1250.52,492.35 1250.82,492.02 1251.12,492.73 1251.41,492.59 1251.71,492.41 1252.01,492.16 1252.3,492.26 1252.6,491.99 1252.89,491.56 1253.19,492.12 1253.49,491.88 1253.78,491.65 1254.08,491.2 1254.38,492.14 1254.67,492.31 1254.97,492.41 1255.27,491.92 1255.56,491.64 1255.86,492.32 1256.16,491.27 1256.45,492.04 1256.75,490.78 1257.05,491.51 1257.34,491.77 1257.64,492.33 1257.93,492.19 1258.23,491.48 1258.53,491.12 1258.82,491.58 1259.12,491.6 1259.42,491.72 1259.71,491.49 1260.01,492.03 1260.31,492.67 1260.6,492.28 1260.9,491.62 1261.2,491.58 1261.49,492.37 1261.79,492.2 1262.09,492.48 1262.38,491.91 1262.68,492.68 1262.98,492.76 1263.27,492.77 1263.57,492.54 1263.87,491.33 1264.16,490.52 1264.46,490.52 1264.75,490.67 1265.05,491.14 1265.35,491.26 1265.64,491.98 1265.94,491.77 1266.24,491.71 1266.53,491.39 1266.83,492.11 1267.13,492.02 1267.42,492.24" fill="none" stroke="#1a1aff" stroke-width="0.95" stroke-linejoin="round"/>
<rect x="1083" y="327.8" width="184.6" height="175.7" fill="none" stroke="#8a8a8a" stroke-width="1.5"/>
<path d="M1083 503.5v-2M1083 327.8v2M1106.72 503.5v-2M1106.72 327.8v2M1130.44 503.5v-2M1130.44 327.8v2M1154.16 503.5v-2M1154.16 327.8v2M1177.88 503.5v-2M1177.88 327.8v2M1201.6 503.5v-2M1201.6 327.8v2M1225.32 503.5v-2M1225.32 327.8v2M1249.04 503.5v-2M1249.04 327.8v2M1083 503.5h2M1083 474.22h2M1083 444.93h2M1083 415.65h2M1083 386.37h2M1083 357.08h2M1083 327.8h2M1267.6 503.5h-2M1267.6 468.36h-2M1267.6 433.22h-2M1267.6 398.08h-2M1267.6 362.94h-2M1267.6 327.8h-2" stroke="#444" stroke-width="0.8" fill="none"/>
<text x="1081.5" y="505.4" font-size="5.2" text-anchor="end" fill="#6a6aff" font-family="'Liberation Sans', Arial, sans-serif">0</text>
<text x="1081.5" y="476.12" font-size="5.2" text-anchor="end" fill="#6a6aff" font-family="'Liberation Sans', Arial, sans-serif">20</text>
<text x="1081.5" y="446.83" font-size="5.2" text-anchor="end" fill="#6a6aff" font-family="'Liberation Sans', Arial, sans-serif">40</text>
<text x="1081.5" y="417.55" font-size="5.2" text-anchor="end" fill="#6a6aff" font-family="'Liberation Sans', Arial, sans-serif">60</text>
<text x="1081.5" y="388.27" font-size="5.2" text-anchor="end" fill="#6a6aff" font-family="'Liberation Sans', Arial, sans-serif">80</text>
<text x="1081.5" y="358.98" font-size="5.2" text-anchor="end" fill="#6a6aff" font-family="'Liberation Sans', Arial, sans-serif">100</text>
<text x="1081.5" y="329.7" font-size="5.2" text-anchor="end" fill="#6a6aff" font-family="'Liberation Sans', Arial, sans-serif">120</text>
<text x="1269.1" y="505.4" font-size="5.2" text-anchor="start" fill="#333" font-family="'Liberation Sans', Arial, sans-serif">0</text>
<text x="1269.1" y="470.26" font-size="5.2" text-anchor="start" fill="#333" font-family="'Liberation Sans', Arial, sans-serif">5</text>
<text x="1269.1" y="435.12" font-size="5.2" text-anchor="start" fill="#333" font-family="'Liberation Sans', Arial, sans-serif">10</text>
<text x="1269.1" y="399.98" font-size="5.2" text-anchor="start" fill="#333" font-family="'Liberation Sans', Arial, sans-serif">15</text>
<text x="1269.1" y="364.84" font-size="5.2" text-anchor="start" fill="#333" font-family="'Liberation Sans', Arial, sans-serif">20</text>
<text x="1269.1" y="329.7" font-size="5.2" text-anchor="start" fill="#333" font-family="'Liberation Sans', Arial, sans-serif">25</text>
<text x="1083" y="510.7" font-size="5.2" text-anchor="middle" fill="#333" font-family="'Liberation Sans', Arial, sans-serif">0</text>
<text x="1106.72" y="510.7" font-size="5.2" text-anchor="middle" fill="#333" font-family="'Liberation Sans', Arial, sans-serif">2</text>
<text x="1130.44" y="510.7" font-size="5.2" text-anchor="middle" fill="#333" font-family="'Liberation Sans', Arial, sans-serif">4</text>
<text x="1154.16" y="510.7" font-size="5.2" text-anchor="middle" fill="#333" font-family="'Liberation Sans', Arial, sans-serif">6</text>
<text x="1177.88" y="510.7" font-size="5.2" text-anchor="middle" fill="#333" font-family="'Liberation Sans', Arial, sans-serif">8</text>
<text x="1201.6" y="510.7" font-size="5.2" text-anchor="middle" fill="#333" font-family="'Liberation Sans', Arial, sans-serif">10</text>
<text x="1225.32" y="510.7" font-size="5.2" text-anchor="middle" fill="#333" font-family="'Liberation Sans', Arial, sans-serif">12</text>
<text x="1249.04" y="510.7" font-size="5.2" text-anchor="middle" fill="#333" font-family="'Liberation Sans', Arial, sans-serif">14</text>
<text x="1175.3" y="519" font-size="5.6" text-anchor="middle" fill="#333" font-family="'Liberation Sans', Arial, sans-serif">Time (s)</text>
<text x="1070.2" y="415.65" font-size="6.2" text-anchor="middle" fill="#4a4aff" font-family="'Liberation Sans', Arial, sans-serif" transform="rotate(-90 1070.2 415.65)" textLength="52" lengthAdjust="spacingAndGlyphs">Pixel Differential</text>
<text x="1280.6" y="415.65" font-size="6.2" text-anchor="middle" fill="#333" font-family="'Liberation Sans', Arial, sans-serif" transform="rotate(-90 1280.6 415.65)" textLength="39" lengthAdjust="spacingAndGlyphs">Stimulus (V)</text>
</g>
<g filter="url(#blur)">
<path d="M113.4 731.7V697.4M139.92 731.7V697.4M166.44 731.7V697.4M192.96 731.7V697.4M219.48 731.7V697.4" stroke="#555" stroke-width="1.3" fill="none"/>
<polyline points="113.4,724.55 113.62,724.55 113.84,724.55 114.06,724.55 114.28,721.26 114.51,719.67 114.73,719.08 114.95,719.67 115.17,719.95 115.39,720.6 115.61,720.1 115.83,719.42 116.05,717.87 116.27,717.65 116.49,718.32 116.72,717.75 116.94,716.71 117.16,715.75 117.38,715.35 117.6,714.99 117.82,714.94 118.04,714.29 118.26,713.85 118.48,713.09 118.7,713.53 118.93,712.91 119.15,712.62 119.37,711.77 119.59,711.92 119.81,711.24 120.03,711.66 120.25,711.88 120.47,713.12 120.69,713.53 120.91,713.19 121.14,711.53 121.36,711.81 121.58,712.71 121.8,713.98 122.02,713.62 122.24,713.79 122.46,714.2 122.68,715.3 122.9,715.49 123.12,715.53 123.34,714.68 123.57,714.98 123.79,715.75 124.01,716.53 124.23,716.39 124.45,716.45 124.67,717.21 124.89,717.8 125.11,717.92 125.33,718.2 125.56,719.1 125.78,719.53 126,719.38 126.22,718.76 126.44,719.13 126.66,719.71 126.88,720.42 127.1,721.01 127.32,721.28 127.54,721.48 127.77,721.41 127.99,720.77 128.21,721.13 128.43,721.07 128.65,721.79 128.87,720.87 129.09,720.83 129.31,720.81 129.53,721.12 129.75,721.24 129.97,721.33 130.2,721.1 130.42,720.9 130.64,720.11 130.86,720.28 131.08,720.27 131.3,720.88 131.52,721.73 131.74,721.77 131.96,721.8 132.19,721.16 132.41,721.43 132.63,721.72 132.85,722.35 133.07,722.09 133.29,721.36 133.51,721.1 133.73,721.19 133.95,721.16 134.17,721.37 134.4,721.66 134.62,722.59 134.84,721.84 135.06,721.62 135.28,721.38 135.5,722.43 135.72,722.59 135.94,722.05 136.16,721.55 136.38,721.64 136.61,721.77 136.83,722.11 137.05,721.94 137.27,721.95 137.49,721.78 137.71,722.1 137.93,722.23 138.15,721.97 138.37,721.74 138.59,721.75 138.81,721.61 139.04,721.85 139.26,722.15 139.48,722.03 139.7,721.24 139.92,720.44 140.14,720.86 140.36,720.79 140.58,720.91 140.8,720.49 141.03,720.57 141.25,720.38 141.47,719.51 141.69,719.84 141.91,719.65 142.13,720.06 142.35,719.39 142.57,718.8 142.79,718.02 143.01,717.84 143.24,717.86 143.46,717.54 143.68,717.12 143.9,716.1 144.12,715.61 144.34,714.43 144.56,714.03 144.78,712.76 145,712.26 145.22,712.01 145.44,711.59 145.67,711.41 145.89,711.16 146.11,712.08 146.33,711.36 146.55,711.02 146.77,710.36 146.99,710.75 147.21,710.98 147.43,711.56 147.66,712.06 147.88,712.04 148.1,711.91 148.32,711.27 148.54,711.97 148.76,712.48 148.98,713.76 149.2,713.29 149.42,713.91 149.64,713.6 149.87,713.93 150.09,713.9 150.31,714.28 150.53,715.96 150.75,716.42 150.97,717.67 151.19,717.18 151.41,717.39 151.63,717.41 151.85,717.46 152.07,717.65 152.3,717.87 152.52,718.7 152.74,719.65 152.96,719.79 153.18,719.07 153.4,719.03 153.62,719.03 153.84,720.21 154.06,719.84 154.28,720.01 154.51,720.05 154.73,721.15 154.95,721.63 155.17,721.22 155.39,720.77 155.61,720.45 155.83,721.15 156.05,721.82 156.27,721.97 156.5,721.74 156.72,721.32 156.94,721.66 157.16,721.71 157.38,721.75 157.6,721.52 157.82,721.73 158.04,722.4 158.26,722.6 158.48,722.77 158.71,722.22 158.93,722.04 159.15,722.01 159.37,721.51 159.59,721.26 159.81,721.04 160.03,721.81 160.25,722.49 160.47,722.21 160.69,721.74 160.92,721.77 161.14,722.14 161.36,721.86 161.58,721.47 161.8,721.2 162.02,721.69 162.24,721.88 162.46,722.21 162.68,721.92 162.9,722.59 163.12,722.58 163.35,723.06 163.57,721.78 163.79,721.12 164.01,720.01 164.23,720.22 164.45,720.97 164.67,721.23 164.89,721.59 165.11,721.18 165.34,721.85 165.56,721.97 165.78,722 166,720.99 166.22,720.75 166.44,720.04 166.66,719.62 166.88,720.01 167.1,720.76 167.32,722.01 167.55,721.46 167.77,721.48 167.99,720.97 168.21,720.35 168.43,719.56 168.65,719.15 168.87,719.18 169.09,719.11 169.31,718.76 169.53,718.11 169.75,717.68 169.98,717.03 170.2,717.19 170.42,716.35 170.64,715.34 170.86,714.22 171.08,714.48 171.3,714.08 171.52,713.76 171.74,713.87 171.97,714.03 172.19,713.33 172.41,711.81 172.63,711.06 172.85,710.93 173.07,710.98 173.29,712.18 173.51,712.86 173.73,712.92 173.95,712.06 174.18,712.17 174.4,712.63 174.62,712.9 174.84,713.45 175.06,714.18 175.28,714.71 175.5,714.2 175.72,713.96 175.94,715.04 176.16,715.45 176.38,716.09 176.61,715.35 176.83,715.74 177.05,715.5 177.27,715.85 177.49,716.35 177.71,716.48 177.93,716.59 178.15,716.57 178.37,716.7 178.59,717.68 178.82,717.78 179.04,718.45 179.26,718.84 179.48,719.45 179.7,719.98 179.92,720.04 180.14,720.18 180.36,719.79 180.58,719.88 180.81,720.02 181.03,721.1 181.25,721.08 181.47,720.83 181.69,720.1 181.91,720.07 182.13,720.78 182.35,721.52 182.57,721.8 182.79,722.16 183.01,722.32 183.24,721.99 183.46,721.88 183.68,720.8 183.9,721.71 184.12,721.24 184.34,722.36 184.56,721.79 184.78,722.35 185,721.92 185.23,722.06 185.45,721.86 185.67,721.69 185.89,721.09 186.11,721.15 186.33,721.02 186.55,721.55 186.77,721.34 186.99,720.87 187.21,721.7 187.44,721.94 187.66,723.41 187.88,722.73 188.1,722.57 188.32,720.5 188.54,720.26 188.76,719.52 188.98,720.44 189.2,720.73 189.42,721.21 189.65,721.08 189.87,720.85 190.09,720.95 190.31,721.38 190.53,721.99 190.75,722.37 190.97,722.42 191.19,721.66 191.41,721.69 191.63,721.93 191.86,722.16 192.08,721.86 192.3,721.46 192.52,721.34 192.74,721.19 192.96,721.91 193.18,722.28 193.4,722.14 193.62,722.11 193.84,721.51 194.06,721.73 194.29,721.27 194.51,720.93 194.73,720.7 194.95,720.45 195.17,720.63 195.39,720.01 195.61,718.29 195.83,718.39 196.05,717.95 196.28,718.54 196.5,716.87 196.72,716.43 196.94,716.66 197.16,715.93 197.38,715.59 197.6,714.1 197.82,714.52 198.04,713.98 198.26,713.64 198.49,712.37 198.71,711.27 198.93,711 199.15,710.91 199.37,711.22 199.59,710.91 199.81,711.06 200.03,710.75 200.25,711.1 200.47,711.33 200.69,711.63 200.92,711.55 201.14,712.01 201.36,711.69 201.58,712.16 201.8,711.87 202.02,712.74 202.24,712.44 202.46,713.86 202.68,713.53 202.91,714.42 203.13,714.43 203.35,715.51 203.57,714.97 203.79,714.7 204.01,715.57 204.23,716.93 204.45,716.98 204.67,717.39 204.89,717.62 205.12,718.54 205.34,717.53 205.56,717.87 205.78,717.56 206,718.87 206.22,719.31 206.44,719.66 206.66,719.4 206.88,719.94 207.1,720.27 207.32,720.43 207.55,720.18 207.77,720.48 207.99,720.75 208.21,720.83 208.43,721.23 208.65,721.68 208.87,721.69 209.09,722.04 209.31,721.88 209.54,722.39 209.76,721.93 209.98,721.99 210.2,721.86 210.42,721.61 210.64,720.9 210.86,720.06 211.08,720.9 211.3,721.17 211.52,721.59 211.75,721.12 211.97,721.83 212.19,721.92 212.41,721.4 212.63,720.99 212.85,721.14 213.07,721.91 213.29,722.27 213.51,721.9 213.73,720.97 213.95,721.21 214.18,721.43 214.4,722.26 214.62,722.15 214.84,722 215.06,721.66 215.28,721.9 215.5,722.43 215.72,722.19 215.94,721.56 216.17,720.98 216.39,721.61 216.61,721.86 216.83,721.88 217.05,721.88 217.27,722.15 217.49,722.31 217.71,721.79 217.93,721.75 218.15,721.35 218.38,721.41 218.6,721.33 218.82,721.69 219.04,721.94 219.26,721.35 219.48,721.05 219.7,721.45 219.92,722.1 220.14,721.87 220.36,721.23 220.59,720.44 220.81,720.53 221.03,719.81 221.25,720.17 221.47,719.62 221.69,720.18 221.91,719.12 222.13,718.64 222.35,718.41 222.57,718.06 222.8,718.15 223.02,717.21 223.24,716.77 223.46,716.46 223.68,716.11 223.9,715.28 224.12,713.99 224.34,713.26 224.56,713.5 224.78,712.45 225,711.39 225.23,710.35 225.45,711.27 225.67,711.66 225.89,711.56 226.11,711.49 226.33,710.71 226.55,710.8 226.77,710.39 226.99,711.47 227.22,712.01 227.44,712.62 227.66,712.36 227.88,712.36 228.1,712.44 228.32,712.71 228.54,712.84 228.76,712.51 228.98,713.04 229.2,713.84 229.43,714.75 229.65,714.5 229.87,714.7 230.09,715.05 230.31,716.09 230.53,716.1 230.75,716.39 230.97,716.91 231.19,717.48 231.41,717.57 231.63,717.19 231.86,717.08 232.08,717.4 232.3,718.21 232.52,718.94 232.74,719.17 232.96,719.71 233.18,719.81 233.4,721.04 233.62,720.93 233.84,721.34 234.07,721.27 234.29,721.06 234.51,721.21 234.73,721.02 234.95,721.43 235.17,721.53 235.39,720.97 235.61,721.13 235.83,720.86 236.06,721.92 236.28,721.97 236.5,722.2 236.72,721.88 236.94,721.96 237.16,721.82 237.38,721.17 237.6,721.03 237.82,721.15 238.04,721.88 238.26,720.92 238.49,720.3 238.71,719.96 238.93,720.64 239.15,721.49 239.37,721.76 239.59,721.94 239.81,721.65 240.03,721.91 240.25,722.27 240.48,722.13 240.7,721.7 240.92,722.19 241.14,722.35 241.36,722 241.58,721.47 241.8,721.41 242.02,722.41 242.24,721.87 242.46,722.36 242.69,722.29 242.91,722.71 243.13,721.44 243.35,721.2 243.57,721.55 243.79,722.24 244.01,721.94 244.23,720.87 244.45,721.5 244.67,722.17 244.9,722.89 245.12,722.29 245.34,721.58 245.56,721.07 245.78,721.75 246,722.18 246.22,722.62 246.44,721.77 246.66,721.3 246.88,721.4 247.1,722.08 247.33,721.93 247.55,721.43 247.77,720.07 247.99,720.46 248.21,720.22 248.43,721.64 248.65,721.78 248.87,722.61 249.09,722.34 249.31,722.46 249.54,722.41 249.76,722.27 249.98,722.11 250.2,721.67 250.42,721.68 250.64,721.52 250.86,721.22 251.08,721.08 251.3,721.02 251.53,721.56 251.75,721.66 251.97,721.5 252.19,721.79 252.41,721.4 252.63,721.03 252.85,720.32 253.07,720.92 253.29,722.07 253.51,722.65 253.74,722.41 253.96,721.53 254.18,721.44 254.4,721.6 254.62,721.35 254.84,721.53 255.06,721.03 255.28,721.26 255.5,721.5 255.72,721.78 255.94,722.31 256.17,722.17 256.39,722.95 256.61,723.32 256.83,722.82 257.05,722.29 257.27,721.62 257.49,722.16 257.71,722.13 257.93,722.33 258.15,722.51 258.38,722.99 258.6,722.73 258.82,722.12 259.04,721.85 259.26,722.05 259.48,721.86 259.7,720.86 259.92,721.14 260.14,721.16 260.37,721.06 260.59,720.71 260.81,720.4 261.03,722.11 261.25,721.61 261.47,722.15 261.69,721.89 261.91,722.13 262.13,721.75 262.35,720.62 262.58,720.47 262.8,720.86 263.02,721.57 263.24,722.18 263.46,722.18 263.68,721.76 263.9,721.77 264.12,721.74 264.34,721.57 264.56,721.27 264.78,720.46 265.01,719.99 265.23,720.53 265.45,721.57 265.67,722.83 265.89,722.84 266.11,722.43 266.33,722.32 266.55,722.27 266.77,722.57 267,721.92 267.22,721.66 267.44,721.7 267.66,721.65 267.88,721.35 268.1,721.06 268.32,721.04 268.54,721.59 268.76,721.67 268.98,722.25 269.21,721.51 269.43,721.29 269.65,721.44 269.87,721.32 270.09,722.05 270.31,721.24 270.53,721.65 270.75,721.54 270.97,722.38 271.19,722.57 271.41,722.26 271.64,722.11 271.86,721.79 272.08,722.29 272.3,722.04 272.52,722.24 272.74,722.41 272.96,722.3 273.18,722.76 273.4,722.99 273.62,723.33 273.85,722.95 274.07,721.71 274.29,721.66 274.51,721.04 274.73,720.84 274.95,720.27 275.17,720.32 275.39,720.72 275.61,721.32 275.84,721.57 276.06,721.34 276.28,721.05 276.5,721.38 276.72,722.31 276.94,722.15 277.16,721.93 277.38,721.83 277.6,722.04 277.82,721.9 278.05,721.47 278.27,721.22 278.49,721.21 278.71,721.71 278.93,722.1 279.15,722.2 279.37,721.33 279.59,720.7 279.81,721.58 280.03,721.94 280.25,722.19 280.48,721.04 280.7,720.4 280.92,721.01 281.14,721.59 281.36,722.59 281.58,721.95 281.8,722.3 282.02,721.48 282.24,721.44 282.47,720.77 282.69,722 282.91,722.6 283.13,722.5 283.35,722.22 283.57,722.06 283.79,722.38 284.01,721.53 284.23,721.34 284.45,721.2 284.68,721.69 284.9,721.79 285.12,721.94 285.34,721.51 285.56,721.58 285.78,721.15 286,722.04 286.22,721.53 286.44,721.98 286.66,720.94 286.88,721.35 287.11,720.97 287.33,720.84 287.55,721.07 287.77,721.36 287.99,721.97 288.21,721.69 288.43,722.31 288.65,722.31 288.87,722.48 289.1,722.17 289.32,722.18 289.54,722.66 289.76,721.86 289.98,721.62 290.2,720.36 290.42,721.2 290.64,721.79 290.86,722.38 291.08,722.67 291.31,722.16 291.53,722.52 291.75,722.03 291.97,722.02 292.19,721.75 292.41,720.94 292.63,720.8 292.85,721.29 293.07,721.62 293.29,722.34 293.51,721.83 293.74,722.65 293.96,722.46 294.18,722.01 294.4,721.76 294.62,721.69 294.84,722.38 295.06,722.29 295.28,721.53 295.5,721.75 295.73,722.09 295.95,722.41 296.17,722.56 296.39,722.24 296.61,722.04 296.83,721.46 297.05,721.5 297.27,722.17 297.49,722.51 297.71,722.55 297.94,722.24 298.16,721.45" fill="none" stroke="#1a1aff" stroke-width="0.95" stroke-linejoin="round"/>
<rect x="113.4" y="560.2" width="185.2" height="171.5" fill="none" stroke="#8a8a8a" stroke-width="1.5"/>
<path d="M113.4 731.7v-2M113.4 560.2v2M157.6 731.7v-2M157.6 560.2v2M201.8 731.7v-2M201.8 560.2v2M246 731.7v-2M246 560.2v2M290.2 731.7v-2M290.2 560.2v2M113.4 731.7h2M113.4 703.12h2M113.4 674.53h2M113.4 645.95h2M113.4 617.37h2M113.4 588.78h2M113.4 560.2h2M298.6 731.7h-2M298.6 697.4h-2M298.6 663.1h-2M298.6 628.8h-2M298.6 594.5h-2M298.6 560.2h-2" stroke="#444" stroke-width="0.8" fill="none"/>
<text x="111.9" y="733.6" font-size="5.2" text-anchor="end" fill="#6a6aff" font-family="'Liberation Sans', Arial, sans-serif">0</text>
<text x="111.9" y="705.02" font-size="5.2" text-anchor="end" fill="#6a6aff" font-family="'Liberation Sans', Arial, sans-serif">20</text>
<text x="111.9" y="676.43" font-size="5.2" text-anchor="end" fill="#6a6aff" font-family="'Liberation Sans', Arial, sans-serif">40</text>
<text x="111.9" y="647.85" font-size="5.2" text-anchor="end" fill="#6a6aff" font-family="'Liberation Sans', Arial, sans-serif">60</text>
<text x="111.9" y="619.27" font-size="5.2" text-anchor="end" fill="#6a6aff" font-family="'Liberation Sans', Arial, sans-serif">80</text>
<text x="111.9" y="590.68" font-size="5.2" text-anchor="end" fill="#6a6aff" font-family="'Liberation Sans', Arial, sans-serif">100</text>
<text x="111.9" y="562.1" font-size="5.2" text-anchor="end" fill="#6a6aff" font-family="'Liberation Sans', Arial, sans-serif">120</text>
<text x="300.1" y="733.6" font-size="5.2" text-anchor="start" fill="#333" font-family="'Liberation Sans', Arial, sans-serif">0</text>
<text x="300.1" y="699.3" font-size="5.2" text-anchor="start" fill="#333" font-family="'Liberation Sans', Arial, sans-serif">5</text>
<text x="300.1" y="665" font-size="5.2" text-anchor="start" fill="#333" font-family="'Liberation Sans', Arial, sans-serif">10</text>
<text x="300.1" y="630.7" font-size="5.2" text-anchor="start" fill="#333" font-family="'Liberation Sans', Arial, sans-serif">15</text>
<text x="300.1" y="596.4" font-size="5.2" text-anchor="start" fill="#333" font-family="'Liberation Sans', Arial, sans-serif">20</text>
<text x="300.1" y="562.1" font-size="5.2" text-anchor="start" fill="#333" font-family="'Liberation Sans', Arial, sans-serif">25</text>
<text x="113.4" y="738.9" font-size="5.2" text-anchor="middle" fill="#333" font-family="'Liberation Sans', Arial, sans-serif">0</text>
<text x="157.6" y="738.9" font-size="5.2" text-anchor="middle" fill="#333" font-family="'Liberation Sans', Arial, sans-serif">5</text>
<text x="201.8" y="738.9" font-size="5.2" text-anchor="middle" fill="#333" font-family="'Liberation Sans', Arial, sans-serif">10</text>
<text x="246" y="738.9" font-size="5.2" text-anchor="middle" fill="#333" font-family="'Liberation Sans', Arial, sans-serif">15</text>
<text x="290.2" y="738.9" font-size="5.2" text-anchor="middle" fill="#333" font-family="'Liberation Sans', Arial, sans-serif">20</text>
<text x="206" y="747.2" font-size="5.6" text-anchor="middle" fill="#333" font-family="'Liberation Sans', Arial, sans-serif">Time (s)</text>
<text x="100.6" y="645.95" font-size="6.2" text-anchor="middle" fill="#4a4aff" font-family="'Liberation Sans', Arial, sans-serif" transform="rotate(-90 100.6 645.95)" textLength="52" lengthAdjust="spacingAndGlyphs">Pixel Differential</text>
<text x="311.6" y="645.95" font-size="6.2" text-anchor="middle" fill="#333" font-family="'Liberation Sans', Arial, sans-serif" transform="rotate(-90 311.6 645.95)" textLength="39" lengthAdjust="spacingAndGlyphs">Stimulus (V)</text>
</g>
<g filter="url(#blur)">
<path d="M352 728.6V693.72M374.36 728.6V693.72M396.72 728.6V693.72M419.08 728.6V693.72M441.44 728.6V693.72M463.8 728.6V693.72M486.16 728.6V693.72M508.52 728.6V693.72" stroke="#555" stroke-width="1.3" fill="none"/>
<polyline points="352,721.33 352.28,721.33 352.56,721.33 352.84,721.33 353.12,717.87 353.4,717.93 353.68,717.51 353.96,717.51 354.24,717.24 354.52,717.34 354.8,716.38 355.07,716.2 355.35,715.15 355.63,714.86 355.91,713.97 356.19,713.99 356.47,713.58 356.75,713.27 357.03,712.11 357.31,711.17 357.59,710.23 357.87,709.69 358.15,709.44 358.43,708.61 358.71,708.47 358.99,708.08 359.27,707.64 359.55,707.89 359.83,707.09 360.11,707.57 360.38,706.81 360.66,706.56 360.94,706.07 361.22,706.53 361.5,707.18 361.78,707.69 362.06,708.08 362.34,708.7 362.62,708.79 362.9,708.42 363.18,708.96 363.46,709.31 363.74,709.66 364.02,709.3 364.3,710.01 364.58,710.18 364.86,711.04 365.14,710.8 365.42,710.97 365.7,711.65 365.98,712.17 366.25,713.02 366.53,712.54 366.81,713.27 367.09,713.84 367.37,714.77 367.65,714.75 367.93,714.74 368.21,714.75 368.49,715.41 368.77,716.04 369.05,716.04 369.33,715.9 369.61,715.97 369.89,716.13 370.17,716.81 370.45,717.95 370.73,717.89 371.01,717.01 371.29,716.65 371.56,717.23 371.84,717.74 372.12,716.95 372.4,716.53 372.68,716.23 372.96,716.65 373.24,716.78 373.52,717.12 373.8,717.28 374.08,716.98 374.36,716.88 374.64,716.33 374.92,716.86 375.2,716.63 375.48,717.28 375.76,716.86 376.04,718.05 376.32,717.85 376.6,717.49 376.88,716.42 377.15,715.68 377.43,716.2 377.71,715.07 377.99,714.48 378.27,713.42 378.55,713.32 378.83,712.87 379.11,711.76 379.39,711.24 379.67,711.29 379.95,711.3 380.23,710.3 380.51,708.96 380.79,708.46 381.07,708.2 381.35,707.92 381.63,707.15 381.91,707.65 382.19,707.79 382.47,707.63 382.75,707.08 383.02,706.64 383.3,706.21 383.58,706.33 383.86,706.5 384.14,707.58 384.42,707.88 384.7,708.21 384.98,708.78 385.26,709.6 385.54,709.36 385.82,709.17 386.1,708.31 386.38,709.11 386.66,709.37 386.94,709.9 387.22,710.06 387.5,710.93 387.78,711.11 388.06,712.11 388.33,711.96 388.61,711.83 388.89,711.8 389.17,711.61 389.45,713.02 389.73,713.15 390.01,714.06 390.29,714.08 390.57,714.91 390.85,715.53 391.13,715.82 391.41,716.32 391.69,716.51 391.97,716.61 392.25,716.45 392.53,716.64 392.81,717.45 393.09,717.31 393.37,717.25 393.65,716.91 393.93,717.14 394.2,716.42 394.48,716.72 394.76,717.44 395.04,718.14 395.32,718.03 395.6,717.29 395.88,717.95 396.16,717.54 396.44,717.61 396.72,717.01 397,717.98 397.28,717.73 397.56,717.67 397.84,716.48 398.12,716.68 398.4,716.95 398.68,717.21 398.96,717.17 399.24,716.29 399.51,716.43 399.79,715.79 400.07,715.64 400.35,714.82 400.63,714.48 400.91,714.18 401.19,713.64 401.47,713.09 401.75,712.14 402.03,711.61 402.31,711.61 402.59,711.08 402.87,709.88 403.15,708.39 403.43,707.64 403.71,707.53 403.99,707.42 404.27,707.82 404.55,707.46 404.83,706.76 405.11,706.02 405.38,706.18 405.66,706.47 405.94,706.78 406.22,706.96 406.5,707.25 406.78,707.31 407.06,707.97 407.34,708.44 407.62,708.62 407.9,708.69 408.18,709.66 408.46,710.15 408.74,711.2 409.02,709.98 409.3,710.12 409.58,709.42 409.86,710.73 410.14,711.78 410.42,712.48 410.69,712.6 410.97,712.84 411.25,713.06 411.53,713.17 411.81,713.01 412.09,713.77 412.37,715.12 412.65,715.64 412.93,715.78 413.21,715.1 413.49,714.76 413.77,714.17 414.05,714.45 414.33,714.85 414.61,715.04 414.89,715.3 415.17,715.76 415.45,716.2 415.73,716.36 416.01,716.76 416.28,717.45 416.56,717.53 416.84,717.65 417.12,717.16 417.4,717.35 417.68,716.64 417.96,716.53 418.24,716.88 418.52,717.03 418.8,717.61 419.08,716.64 419.36,716.81 419.64,716.63 419.92,716.8 420.2,717.09 420.48,716.82 420.76,716.76 421.04,716.42 421.32,716.17 421.6,716.41 421.88,715.84 422.15,716.07 422.43,715.09 422.71,714.69 422.99,713.52 423.27,713.43 423.55,711.96 423.83,711.72 424.11,710.86 424.39,711.61 424.67,710.4 424.95,710.02 425.23,708.81 425.51,709.11 425.79,708.31 426.07,708.35 426.35,707.29 426.63,707.19 426.91,707.13 427.19,707.17 427.47,707.44 427.74,707.49 428.02,707.43 428.3,707.76 428.58,707.27 428.86,707.84 429.14,707.68 429.42,708.08 429.7,707.95 429.98,708.1 430.26,708.54 430.54,708.79 430.82,708.64 431.1,708.94 431.38,709.85 431.66,710.82 431.94,711.39 432.22,711.25 432.5,711.08 432.78,711.13 433.06,711.25 433.33,711.93 433.61,712.53 433.89,713.51 434.17,713.06 434.45,713.99 434.73,714.06 435.01,714.88 435.29,714.41 435.57,713.95 435.85,713.94 436.13,713.93 436.41,715.3 436.69,715.75 436.97,716.35 437.25,716.18 437.53,716.45 437.81,716.64 438.09,716.56 438.37,716.17 438.64,715.74 438.92,715.98 439.2,717.33 439.48,717.38 439.76,717.14 440.04,716.56 440.32,717.16 440.6,717.33 440.88,717.56 441.16,717.1 441.44,717.7 441.72,717.7 442,717.92 442.28,717.98 442.56,717.55 442.84,717.24 443.12,717.03 443.4,716.51 443.68,716.67 443.96,715.74 444.24,715.68 444.51,715.29 444.79,715.28 445.07,715.53 445.35,715.14 445.63,714.71 445.91,712.97 446.19,711.79 446.47,711.4 446.75,711.09 447.03,710.76 447.31,709.8 447.59,709.34 447.87,708.58 448.15,708.14 448.43,707.94 448.71,707.78 448.99,707.61 449.27,707.22 449.55,707.17 449.82,707.01 450.1,707.39 450.38,707.31 450.66,706.84 450.94,706.55 451.22,707.11 451.5,707.35 451.78,707.62 452.06,707.35 452.34,707.47 452.62,708.14 452.9,708.71 453.18,709.66 453.46,709.99 453.74,709.59 454.02,709.41 454.3,710.1 454.58,711.03 454.86,711.94 455.14,711.28 455.41,711.78 455.69,712.01 455.97,712.72 456.25,712.97 456.53,713.23 456.81,713.69 457.09,714.19 457.37,714.32 457.65,714.92 457.93,715.14 458.21,715.62 458.49,715.63 458.77,715.59 459.05,716.21 459.33,716.36 459.61,717.1 459.89,716.61 460.17,716.79 460.45,716.61 460.73,716.79 461,717.29 461.28,717.24 461.56,717.73 461.84,717.32 462.12,717.58 462.4,717.08 462.68,716.76 462.96,716.12 463.24,716.35 463.52,716.77 463.8,717.55 464.08,717.33 464.36,716.53 464.64,716.14 464.92,716.46 465.2,716.78 465.48,716.63 465.76,716.19 466.04,716.29 466.32,716.98 466.6,716.83 466.87,715.8 467.15,714.38 467.43,714.48 467.71,714.31 467.99,714.45 468.27,712.35 468.55,711.63 468.83,710.73 469.11,710.45 469.39,710.1 469.67,708.79 469.95,708.4 470.23,707.92 470.51,707.3 470.79,707.27 471.07,705.94 471.35,705.8 471.63,705.43 471.91,706.38 472.19,705.78 472.46,704.92 472.74,704.79 473.02,704.88 473.3,705.47 473.58,705.28 473.86,706.1 474.14,706.5 474.42,706.19 474.7,706.41 474.98,707.29 475.26,707.41 475.54,707.53 475.82,707.65 476.1,708.92 476.38,709.96 476.66,709.98 476.94,710.14 477.22,710.17 477.5,710.82 477.77,711.66 478.05,711.86 478.33,712.1 478.61,711.42 478.89,712.38 479.17,712.44 479.45,713.57 479.73,713.9 480.01,714.02 480.29,714.3 480.57,714.63 480.85,715.49 481.13,715.43 481.41,715.78 481.69,715.4 481.97,715.72 482.25,715.57 482.53,715.74 482.81,715.52 483.09,715.34 483.37,715.88 483.64,715.96 483.92,715.74 484.2,716.21 484.48,717 484.76,717.66 485.04,717.53 485.32,718.01 485.6,717.63 485.88,717.46 486.16,716.88 486.44,716.67 486.72,716.85 487,716.83 487.28,717.13 487.56,716.96 487.84,716.82 488.12,716.45 488.4,716.08 488.68,715.3 488.95,715.53 489.23,715.11 489.51,715.69 489.79,715.04 490.07,714.88 490.35,713.38 490.63,712.53 490.91,711.52 491.19,710.75 491.47,709.89 491.75,709.2 492.03,709.5 492.31,709.94 492.59,709.65 492.87,709.02 493.15,708.28 493.43,707.99 493.71,708.14 493.99,707.15 494.27,707.31 494.54,706.91 494.82,707.26 495.1,707.49 495.38,707.01 495.66,707 495.94,706.68 496.22,707.58 496.5,708.3 496.78,709.09 497.06,708.48 497.34,708.58 497.62,708.5 497.9,709.64 498.18,709.8 498.46,709.36 498.74,709.85 499.02,710.63 499.3,712.17 499.58,711.85 499.86,711.97 500.13,710.91 500.41,711.56 500.69,712.13 500.97,713.54 501.25,713.53 501.53,714.28 501.81,714.08 502.09,714.59 502.37,714.48 502.65,715.34 502.93,715.3 503.21,714.69 503.49,714.75 503.77,715.15 504.05,715.38 504.33,715.62 504.61,716.06 504.89,717.27 505.17,717.23 505.45,717.29 505.73,717.11 506,717.42 506.28,718.04 506.56,718.45 506.84,718.59 507.12,717.84 507.4,717.58 507.68,717.56 507.96,717.57 508.24,717.18 508.52,717.12 508.8,717.55 509.08,717.46 509.36,716.98 509.64,716.95 509.92,716.97 510.2,716.96 510.48,716.06 510.76,716.23 511.04,715.64 511.31,715.58 511.59,715.28 511.87,714.83 512.15,714.22 512.43,713.86 512.71,713.01 512.99,713.2 513.27,712.48 513.55,712.71 513.83,711.41 514.11,710.25 514.39,709.57 514.67,708.77 514.95,708.28 515.23,707.23 515.51,706.25 515.79,705.94 516.07,707.06 516.35,708.01 516.63,708.33 516.9,707.32 517.18,707.14 517.46,707.25 517.74,707.78 518.02,708.04 518.3,707.82 518.58,708.53 518.86,708.3 519.14,708.46 519.42,707.78 519.7,708.32 519.98,709.01 520.26,709.36 520.54,709.43 520.82,709.02 521.1,709.2 521.38,710.05 521.66,711.12 521.94,711.18 522.22,711.27 522.5,711.49 522.77,713.14 523.05,714 523.33,714.91 523.61,714 523.89,713.94 524.17,713.82 524.45,714.67 524.73,714.07 525.01,713.62 525.29,714.27 525.57,715.51 525.85,716.63 526.13,716.98 526.41,717.06 526.69,715.89 526.97,714.84 527.25,715.04 527.53,716.21 527.81,716.83 528.09,716.57 528.36,717.07 528.64,717.93 528.92,717.7 529.2,717.12 529.48,715.9 529.76,716.56 530.04,716.17 530.32,717.03 530.6,716.97 530.88,716.98 531.16,716.4 531.44,716.78 531.72,717.05 532,717.69 532.28,718.07 532.56,718.22 532.84,717.46 533.12,716.62 533.4,717.29 533.67,717.5 533.95,717.57 534.23,717.27 534.51,718.53 534.79,718.41 535.07,717.91 535.35,716.79 535.63,717.82 535.91,718.71 536.19,718.52 536.47,717.57" fill="none" stroke="#1a1aff" stroke-width="0.95" stroke-linejoin="round"/>
<rect x="352" y="554.2" width="184.8" height="174.4" fill="none" stroke="#8a8a8a" stroke-width="1.5"/>
<path d="M352 728.6v-2M352 554.2v2M374.36 728.6v-2M374.36 554.2v2M396.72 728.6v-2M396.72 554.2v2M419.08 728.6v-2M419.08 554.2v2M441.44 728.6v-2M441.44 554.2v2M463.8 728.6v-2M463.8 554.2v2M486.16 728.6v-2M486.16 554.2v2M508.52 728.6v-2M508.52 554.2v2M530.88 728.6v-2M530.88 554.2v2M352 728.6h2M352 699.53h2M352 670.47h2M352 641.4h2M352 612.33h2M352 583.27h2M352 554.2h2M536.8 728.6h-2M536.8 693.72h-2M536.8 658.84h-2M536.8 623.96h-2M536.8 589.08h-2M536.8 554.2h-2" stroke="#444" stroke-width="0.8" fill="none"/>
<text x="350.5" y="730.5" font-size="5.2" text-anchor="end" fill="#6a6aff" font-family="'Liberation Sans', Arial, sans-serif">0</text>
<text x="350.5" y="701.43" font-size="5.2" text-anchor="end" fill="#6a6aff" font-family="'Liberation Sans', Arial, sans-serif">20</text>
<text x="350.5" y="672.37" font-size="5.2" text-anchor="end" fill="#6a6aff" font-family="'Liberation Sans', Arial, sans-serif">40</text>
<text x="350.5" y="643.3" font-size="5.2" text-anchor="end" fill="#6a6aff" font-family="'Liberation Sans', Arial, sans-serif">60</text>
<text x="350.5" y="614.23" font-size="5.2" text-anchor="end" fill="#6a6aff" font-family="'Liberation Sans', Arial, sans-serif">80</text>
<text x="350.5" y="585.17" font-size="5.2" text-anchor="end" fill="#6a6aff" font-family="'Liberation Sans', Arial, sans-serif">100</text>
<text x="350.5" y="556.1" font-size="5.2" text-anchor="end" fill="#6a6aff" font-family="'Liberation Sans', Arial, sans-serif">120</text>
<text x="538.3" y="730.5" font-size="5.2" text-anchor="start" fill="#333" font-family="'Liberation Sans', Arial, sans-serif">0</text>
<text x="538.3" y="695.62" font-size="5.2" text-anchor="start" fill="#333" font-family="'Liberation Sans', Arial, sans-serif">5</text>
<text x="538.3" y="660.74" font-size="5.2" text-anchor="start" fill="#333" font-family="'Liberation Sans', Arial, sans-serif">10</text>
<text x="538.3" y="625.86" font-size="5.2" text-anchor="start" fill="#333" font-family="'Liberation Sans', Arial, sans-serif">15</text>
<text x="538.3" y="590.98" font-size="5.2" text-anchor="start" fill="#333" font-family="'Liberation Sans', Arial, sans-serif">20</text>
<text x="538.3" y="556.1" font-size="5.2" text-anchor="start" fill="#333" font-family="'Liberation Sans', Arial, sans-serif">25</text>
<text x="352" y="735.8" font-size="5.2" text-anchor="middle" fill="#333" font-family="'Liberation Sans', Arial, sans-serif">0</text>
<text x="374.36" y="735.8" font-size="5.2" text-anchor="middle" fill="#333" font-family="'Liberation Sans', Arial, sans-serif">2</text>
<text x="396.72" y="735.8" font-size="5.2" text-anchor="middle" fill="#333" font-family="'Liberation Sans', Arial, sans-serif">4</text>
<text x="419.08" y="735.8" font-size="5.2" text-anchor="middle" fill="#333" font-family="'Liberation Sans', Arial, sans-serif">6</text>
<text x="441.44" y="735.8" font-size="5.2" text-anchor="middle" fill="#333" font-family="'Liberation Sans', Arial, sans-serif">8</text>
<text x="463.8" y="735.8" font-size="5.2" text-anchor="middle" fill="#333" font-family="'Liberation Sans', Arial, sans-serif">10</text>
<text x="486.16" y="735.8" font-size="5.2" text-anchor="middle" fill="#333" font-family="'Liberation Sans', Arial, sans-serif">12</text>
<text x="508.52" y="735.8" font-size="5.2" text-anchor="middle" fill="#333" font-family="'Liberation Sans', Arial, sans-serif">14</text>
<text x="530.88" y="735.8" font-size="5.2" text-anchor="middle" fill="#333" font-family="'Liberation Sans', Arial, sans-serif">16</text>
<text x="444.4" y="744.1" font-size="5.6" text-anchor="middle" fill="#333" font-family="'Liberation Sans', Arial, sans-serif">Time (s)</text>
<text x="339.2" y="641.4" font-size="6.2" text-anchor="middle" fill="#4a4aff" font-family="'Liberation Sans', Arial, sans-serif" transform="rotate(-90 339.2 641.4)" textLength="52" lengthAdjust="spacingAndGlyphs">Pixel Differential</text>
<text x="549.8" y="641.4" font-size="6.2" text-anchor="middle" fill="#333" font-family="'Liberation Sans', Arial, sans-serif" transform="rotate(-90 549.8 641.4)" textLength="39" lengthAdjust="spacingAndGlyphs">Stimulus (V)</text>
</g>
<g filter="url(#blur)">
<path d="M590.9 728.6V693.72M601.71 728.6V693.72M612.52 728.6V693.72M623.33 728.6V693.72M634.14 728.6V693.72M644.95 728.6V693.72M655.76 728.6V693.72M666.57 728.6V693.72M677.38 728.6V693.72M688.19 728.6V693.72M699 728.6V693.72M709.81 728.6V693.72M720.62 728.6V693.72M731.43 728.6V693.72M742.24 728.6V693.72" stroke="#555" stroke-width="1.3" fill="none"/>
<polyline points="590.9,718.57 591.17,718.6 591.44,719.07 591.71,718.77 591.98,718.81 592.25,718.13 592.52,717.96 592.79,718.1 593.06,717.77 593.33,718.46 593.6,717.99 593.87,718.27 594.14,717.37 594.41,718.37 594.68,718.4 594.95,718.42 595.22,717.05 595.49,718.26 595.76,718.98 596.03,719.56 596.3,718.89 596.58,718.13 596.85,718.35 597.12,717.71 597.39,718.01 597.66,718.3 597.93,719.14 598.2,719.53 598.47,718.94 598.74,718.19 599.01,718.08 599.28,717.78 599.55,718.75 599.82,719.83 600.09,720.3 600.36,719.53 600.63,718.52 600.9,718.77 601.17,718.78 601.44,717.92 601.71,717.58 601.98,718.01 602.25,719.06 602.52,718.28 602.79,718.02 603.06,717.47 603.33,717.75 603.6,717.33 603.87,717.91 604.14,718.01 604.41,718.1 604.68,717.56 604.95,717.54 605.22,718.07 605.49,718.29 605.76,718.86 606.03,718.37 606.3,718.59 606.57,718.24 606.84,718.94 607.12,718.74 607.39,719.02 607.66,718.65 607.93,718.56 608.2,718.49 608.47,718.53 608.74,719.36 609.01,718.87 609.28,719.03 609.55,718.34 609.82,719.07 610.09,718.45 610.36,718.7 610.63,718.2 610.9,718.13 611.17,717.17 611.44,716.91 611.71,717.12 611.98,718.2 612.25,718.16 612.52,717.94 612.79,717.17 613.06,717.36 613.33,717.78 613.6,718.29 613.87,718.18 614.14,717.73 614.41,717.93 614.68,717.99 614.95,718.37 615.22,717.65 615.49,717.89 615.76,717.56 616.03,717.51 616.3,717.28 616.57,718.21 616.84,718.29 617.11,718.6 617.38,718.51 617.65,718.55 617.92,719.08 618.2,718.32 618.47,717.95 618.74,717.62 619.01,717.6 619.28,718.07 619.55,717.63 619.82,718.47 620.09,718.4 620.36,718.58 620.63,717.77 620.9,717.97 621.17,717.57 621.44,717.7 621.71,717.4 621.98,717.23 622.25,717.17 622.52,716.95 622.79,717.25 623.06,716.97 623.33,717.35 623.6,716.93 623.87,716.41 624.14,715.95 624.41,715.61 624.68,715.53 624.95,715.49 625.22,715.19 625.49,714.34 625.76,713.56 626.03,713.77 626.3,713.57 626.57,712.98 626.84,710.96 627.11,710.4 627.38,709.51 627.65,709.83 627.92,709.13 628.19,708.79 628.46,708.41 628.74,708.11 629.01,707.87 629.28,706.8 629.55,707.06 629.82,706.73 630.09,707.5 630.36,707.63 630.63,707.08 630.9,707.73 631.17,706.85 631.44,708.19 631.71,707.6 631.98,707.56 632.25,708.11 632.52,708.96 632.79,709.65 633.06,709.15 633.33,709.21 633.6,710.08 633.87,710.89 634.14,711.04 634.41,710.88 634.68,711.06 634.95,711.46 635.22,711.96 635.49,711.48 635.76,712.13 636.03,712.84 636.3,714.14 636.57,714.51 636.84,715.11 637.11,715.45 637.38,716.16 637.65,717.04 637.92,717.34 638.19,716.91 638.46,715.96 638.73,716.1 639,716.42 639.27,716.81 639.54,716.51 639.82,716.65 640.09,717.06 640.36,716.77 640.63,716.96 640.9,717.23 641.17,718.61 641.44,718.4 641.71,718.38 641.98,717.13 642.25,717.45 642.52,717.08 642.79,717.45 643.06,716.72 643.33,717.48 643.6,717.21 643.87,717.75 644.14,717.23 644.41,717.81 644.68,717.82 644.95,717.74 645.22,718.29 645.49,717.71 645.76,717.27 646.03,716.43 646.3,716.27 646.57,715.03 646.84,714.07 647.11,713.69 647.38,713.36 647.65,713.21 647.92,712.5 648.19,712.7 648.46,711.84 648.73,710.86 649,709.8 649.27,709.36 649.54,709.08 649.81,708.72 650.08,708.12 650.36,707.67 650.63,707.63 650.9,707.51 651.17,707.33 651.44,707.4 651.71,706.99 651.98,707.14 652.25,707.19 652.52,707.7 652.79,707.97 653.06,707.88 653.33,707.85 653.6,708.01 653.87,708.55 654.14,708.38 654.41,708.3 654.68,708.29 654.95,708.84 655.22,709.43 655.49,709.95 655.76,710.67 656.03,710.21 656.3,710.15 656.57,710.2 656.84,711.72 657.11,712.26 657.38,712.2 657.65,712.27 657.92,712.46 658.19,713.17 658.46,713.43 658.73,713.56 659,714.25 659.27,714.59 659.54,715.67 659.81,715.04 660.08,715.35 660.35,715.3 660.62,715.96 660.89,716.44 661.16,716.65 661.44,717.61 661.71,717.56 661.98,717.83 662.25,717.47 662.52,717.63 662.79,717.8 663.06,718.19 663.33,718.27 663.6,718.3 663.87,717.91 664.14,717.67 664.41,717.48 664.68,718.3 664.95,718.39 665.22,718.94 665.49,718.46 665.76,718.66 666.03,718.42 666.3,718.81 666.57,719.1 666.84,718.14 667.11,717.95 667.38,717.78 667.65,718.19 667.92,717.94 668.19,717.48 668.46,718.29 668.73,718.84 669,718.01 669.27,717.58 669.54,717.29 669.81,718.45 670.08,718.08 670.35,718.41 670.62,718.36 670.89,718.73 671.16,718.06 671.43,718.1 671.7,718.28 671.98,718.84 672.25,719.79 672.52,719.24 672.79,719.46 673.06,718.72 673.33,718.47 673.6,718.09 673.87,717.72 674.14,718.4 674.41,718 674.68,718.21 674.95,718.32 675.22,718.08 675.49,718.19 675.76,718.49 676.03,719.1 676.3,718.81 676.57,718.73 676.84,718.32 677.11,718.24 677.38,717.06 677.65,717.58 677.92,717.62 678.19,719 678.46,718.92 678.73,719.12 679,718.36 679.27,718.23 679.54,718.3 679.81,718.67 680.08,718.81 680.35,718.67 680.62,718.25 680.89,717.85 681.16,717.6 681.43,717.37 681.7,718.26 681.97,718.81 682.24,719.3 682.51,718.88 682.78,718.31 683.06,717.98 683.33,717.79 683.6,718.12 683.87,717.93 684.14,718.02 684.41,718.18 684.68,718.31 684.95,718.01 685.22,717.38 685.49,717.58 685.76,717.48 686.03,718.19 686.3,718.66 686.57,718.94 686.84,719.7 687.11,719.21 687.38,718.86 687.65,717.87 687.92,718.1 688.19,718.06 688.46,718.1 688.73,717.66 689,717.26 689.27,716.99 689.54,717 689.81,717.62 690.08,717.79 690.35,718.03 690.62,718.18 690.89,717.88 691.16,718.56 691.43,718.68 691.7,718.84 691.97,718.56 692.24,718.5 692.51,718.99 692.78,718.53 693.05,718.18 693.32,717.4 693.6,717.38 693.87,717.95 694.14,718.38 694.41,718.36 694.68,717.59 694.95,718.46 695.22,718.53 695.49,719.7 695.76,718.66 696.03,718.64 696.3,717.8 696.57,717.74 696.84,717.76 697.11,718.17 697.38,718.36 697.65,718.07 697.92,717.88 698.19,718 698.46,718.87 698.73,718.41 699,718.6 699.27,718.43 699.54,719.01 699.81,719.14 700.08,718.96 700.35,718.34 700.62,717.74 700.89,717.14 701.16,717.06 701.43,717.67 701.7,718.01 701.97,718.01 702.24,716.85 702.51,717.54 702.78,718.59 703.05,719.25 703.32,718.86 703.59,718.7 703.86,718.73 704.13,718.9 704.4,719.35 704.68,719.49 704.95,719.16 705.22,718.1 705.49,717.75 705.76,717.71 706.03,718.01 706.3,718.56 706.57,719.19 706.84,719.22 707.11,718.57 707.38,717.68 707.65,716.7 707.92,717.02 708.19,717.77 708.46,718.07 708.73,717.47 709,717.05 709.27,717.69 709.54,717.73 709.81,716.74 710.08,716.21 710.35,715.99 710.62,716.09 710.89,715.63 711.16,715.47 711.43,714.59 711.7,713.72 711.97,712.89 712.24,713.26 712.51,711.89 712.78,711.38 713.05,709.9 713.32,710.39 713.59,709.4 713.86,709.44 714.13,708.61 714.4,708.5 714.67,707.39 714.94,707.68 715.22,707.8 715.49,708.23 715.76,707.12 716.03,707.5 716.3,707.42 716.57,708.55 716.84,708.08 717.11,708.14 717.38,708.06 717.65,708.31 717.92,708.68 718.19,709.19 718.46,709.61 718.73,710.55 719,710.71 719.27,711.13 719.54,710.82 719.81,710.6 720.08,710.33 720.35,710.17 720.62,710.09 720.89,711.1 721.16,711.08 721.43,711.4 721.7,710.43 721.97,710.87 722.24,710.43 722.51,709.7 722.78,708.54 723.05,708.43 723.32,708.26 723.59,707.93 723.86,706.87 724.13,706.32 724.4,706.28 724.67,706.62 724.94,706.78 725.21,706.58 725.48,706.7 725.75,706.47 726.02,706.86 726.3,707.09 726.57,707.38 726.84,707.51 727.11,707.5 727.38,708.59 727.65,708.34 727.92,708.52 728.19,708.1 728.46,708.53 728.73,708.77 729,709.32 729.27,709.12 729.54,709.72 729.81,709.49 730.08,709.93 730.35,710.38 730.62,711.08 730.89,712.43 731.16,712.21 731.43,712.74 731.7,713.21 731.97,713.48 732.24,713.39 732.51,713.65 732.78,714.03 733.05,714.61 733.32,713.61 733.59,713.7 733.86,714.25 734.13,715.58 734.4,716.75 734.67,716.72 734.94,716.82 735.21,716.43 735.48,716.62 735.75,717.33 736.02,718.04 736.29,717.7 736.56,716.87 736.84,716.75 737.11,717.41 737.38,717.97 737.65,717.99 737.92,718.61 738.19,718.29 738.46,718.6 738.73,717.99 739,719.26 739.27,718.98 739.54,718.58 739.81,718.51 740.08,718.07 740.35,718.4 740.62,717.88 740.89,719.01 741.16,718.78 741.43,718.43 741.7,717.65 741.97,718.18 742.24,718.57 742.51,718.47 742.78,718.72 743.05,718.11 743.32,719.03 743.59,719.03 743.86,719.88 744.13,718.8 744.4,719.1 744.67,718.99 744.94,719.23 745.21,718.51 745.48,717.31 745.75,716.89 746.02,716.75 746.29,717.29 746.56,718.61 746.83,719.15 747.1,719.52 747.37,718.93 747.64,719.11 747.92,719.32 748.19,719.57 748.46,718.69 748.73,718.2 749,718.01 749.27,718.49 749.54,718.54 749.81,718.67 750.08,718.67 750.35,719.4 750.62,718.9 750.89,718.46 751.16,717.71 751.43,717.78 751.7,717.99 751.97,717.39 752.24,717.48 752.51,718.09 752.78,719.21 753.05,719.03 753.32,718.16 753.59,717.51 753.86,717.46 754.13,717.78 754.4,718.59 754.67,719.15 754.94,719.88 755.21,719.48 755.48,719.72 755.75,719.03 756.02,718.95 756.29,719.16 756.56,718.93 756.83,718.59 757.1,718.39 757.37,718.61 757.64,718.62 757.91,718.22 758.18,717.97 758.45,718.16 758.73,717.67 759,717.91 759.27,718.04 759.54,718.24 759.81,718.02 760.08,717.87 760.35,718.22 760.62,718.79 760.89,719.02 761.16,719.07 761.43,718.71 761.7,718.51 761.97,718.33 762.24,718.41 762.51,718.41 762.78,717.81 763.05,717.37 763.32,717.64 763.59,718.06 763.86,718.62 764.13,718.44 764.4,718.69 764.67,718.79 764.94,719.25 765.21,720.06 765.48,719.76 765.75,718.84 766.02,718.27 766.29,718.16 766.56,718.73 766.83,718.3 767.1,718.78 767.37,718.72 767.64,718.86 767.91,719.44 768.18,719.27 768.45,719.28 768.72,719.32 768.99,719.16 769.26,719.13 769.54,718.15 769.81,718.25 770.08,718.39 770.35,718.86 770.62,719.16 770.89,719.16 771.16,717.96 771.43,717.12 771.7,717.15 771.97,718.11 772.24,718.66 772.51,718.28 772.78,718.38 773.05,718.87 773.32,718.37 773.59,717.73 773.86,717.93 774.13,719.28 774.4,719.97 774.67,719.32 774.94,718.48 775.21,718.3 775.48,718.97 775.75,719.09 776.02,718.75 776.29,718.16 776.56,718.42 776.83,718.43" fill="none" stroke="#1a1aff" stroke-width="0.95" stroke-linejoin="round"/>
<rect x="590.9" y="554.2" width="185.6" height="174.4" fill="none" stroke="#8a8a8a" stroke-width="1.5"/>
<path d="M590.9 728.6v-2M590.9 554.2v2M612.52 728.6v-2M612.52 554.2v2M634.14 728.6v-2M634.14 554.2v2M655.76 728.6v-2M655.76 554.2v2M677.38 728.6v-2M677.38 554.2v2M699 728.6v-2M699 554.2v2M720.62 728.6v-2M720.62 554.2v2M742.24 728.6v-2M742.24 554.2v2M763.86 728.6v-2M763.86 554.2v2M590.9 728.6h2M590.9 699.53h2M590.9 670.47h2M590.9 641.4h2M590.9 612.33h2M590.9 583.27h2M590.9 554.2h2M776.5 728.6h-2M776.5 693.72h-2M776.5 658.84h-2M776.5 623.96h-2M776.5 589.08h-2M776.5 554.2h-2" stroke="#444" stroke-width="0.8" fill="none"/>
<text x="589.4" y="730.5" font-size="5.2" text-anchor="end" fill="#6a6aff" font-family="'Liberation Sans', Arial, sans-serif">0</text>
<text x="589.4" y="701.43" font-size="5.2" text-anchor="end" fill="#6a6aff" font-family="'Liberation Sans', Arial, sans-serif">20</text>
<text x="589.4" y="672.37" font-size="5.2" text-anchor="end" fill="#6a6aff" font-family="'Liberation Sans', Arial, sans-serif">40</text>
<text x="589.4" y="643.3" font-size="5.2" text-anchor="end" fill="#6a6aff" font-family="'Liberation Sans', Arial, sans-serif">60</text>
<text x="589.4" y="614.23" font-size="5.2" text-anchor="end" fill="#6a6aff" font-family="'Liberation Sans', Arial, sans-serif">80</text>
<text x="589.4" y="585.17" font-size="5.2" text-anchor="end" fill="#6a6aff" font-family="'Liberation Sans', Arial, sans-serif">100</text>
<text x="589.4" y="556.1" font-size="5.2" text-anchor="end" fill="#6a6aff" font-family="'Liberation Sans', Arial, sans-serif">120</text>
<text x="778" y="730.5" font-size="5.2" text-anchor="start" fill="#333" font-family="'Liberation Sans', Arial, sans-serif">0</text>
<text x="778" y="695.62" font-size="5.2" text-anchor="start" fill="#333" font-family="'Liberation Sans', Arial, sans-serif">5</text>
<text x="778" y="660.74" font-size="5.2" text-anchor="start" fill="#333" font-family="'Liberation Sans', Arial, sans-serif">10</text>
<text x="778" y="625.86" font-size="5.2" text-anchor="start" fill="#333" font-family="'Liberation Sans', Arial, sans-serif">15</text>
<text x="778" y="590.98" font-size="5.2" text-anchor="start" fill="#333" font-family="'Liberation Sans', Arial, sans-serif">20</text>
<text x="778" y="556.1" font-size="5.2" text-anchor="start" fill="#333" font-family="'Liberation Sans', Arial, sans-serif">25</text>
<text x="590.9" y="735.8" font-size="5.2" text-anchor="middle" fill="#333" font-family="'Liberation Sans', Arial, sans-serif">0</text>
<text x="612.52" y="735.8" font-size="5.2" text-anchor="middle" fill="#333" font-family="'Liberation Sans', Arial, sans-serif">2</text>
<text x="634.14" y="735.8" font-size="5.2" text-anchor="middle" fill="#333" font-family="'Liberation Sans', Arial, sans-serif">4</text>
<text x="655.76" y="735.8" font-size="5.2" text-anchor="middle" fill="#333" font-family="'Liberation Sans', Arial, sans-serif">6</text>
<text x="677.38" y="735.8" font-size="5.2" text-anchor="middle" fill="#333" font-family="'Liberation Sans', Arial, sans-serif">8</text>
<text x="699" y="735.8" font-size="5.2" text-anchor="middle" fill="#333" font-family="'Liberation Sans', Arial, sans-serif">10</text>
<text x="720.62" y="735.8" font-size="5.2" text-anchor="middle" fill="#333" font-family="'Liberation Sans', Arial, sans-serif">12</text>
<text x="742.24" y="735.8" font-size="5.2" text-anchor="middle" fill="#333" font-family="'Liberation Sans', Arial, sans-serif">14</text>
<text x="763.86" y="735.8" font-size="5.2" text-anchor="middle" fill="#333" font-family="'Liberation Sans', Arial, sans-serif">16</text>
<text x="683.7" y="744.1" font-size="5.6" text-anchor="middle" fill="#333" font-family="'Liberation Sans', Arial, sans-serif">Time (s)</text>
<text x="578.1" y="641.4" font-size="6.2" text-anchor="middle" fill="#4a4aff" font-family="'Liberation Sans', Arial, sans-serif" transform="rotate(-90 578.1 641.4)" textLength="52" lengthAdjust="spacingAndGlyphs">Pixel Differential</text>
<text x="789.5" y="641.4" font-size="6.2" text-anchor="middle" fill="#333" font-family="'Liberation Sans', Arial, sans-serif" transform="rotate(-90 789.5 641.4)" textLength="39" lengthAdjust="spacingAndGlyphs">Stimulus (V)</text>
</g>
<g filter="url(#blur)">
<path d="M830.3 728.3V693.54M835.78 728.3V693.54M841.26 728.3V693.54M846.74 728.3V693.54M852.22 728.3V693.54M857.7 728.3V693.54M863.18 728.3V693.54M868.66 728.3V693.54M874.14 728.3V693.54M879.62 728.3V693.54M885.1 728.3V693.54M890.58 728.3V693.54M896.06 728.3V693.54M901.54 728.3V693.54M907.02 728.3V693.54M912.5 728.3V693.54M917.98 728.3V693.54M923.46 728.3V693.54M928.94 728.3V693.54M934.42 728.3V693.54M939.9 728.3V693.54M945.38 728.3V693.54M950.86 728.3V693.54M956.34 728.3V693.54M961.82 728.3V693.54M967.3 728.3V693.54M972.78 728.3V693.54M978.26 728.3V693.54M983.74 728.3V693.54M989.22 728.3V693.54" stroke="#555" stroke-width="1.2" fill="none"/>
<polyline points="830.3,721.06 830.57,721.06 830.85,721.06 831.12,721.06 831.4,716.77 831.67,716.2 831.94,716.31 832.22,716.09 832.49,715.56 832.77,714.93 833.04,714.5 833.31,715.16 833.59,714.14 833.86,714.47 834.14,714.06 834.41,713.75 834.68,712.35 834.96,711.17 835.23,710.41 835.51,709.67 835.78,709.24 836.05,708.88 836.33,709.47 836.6,709.67 836.88,708.72 837.15,707.53 837.42,707.19 837.7,708.14 837.97,708.68 838.25,709.23 838.52,708.89 838.79,709.51 839.07,709.52 839.34,709.57 839.62,710.34 839.89,710.31 840.16,711.87 840.44,711.46 840.71,711.72 840.99,711.28 841.26,711.03 841.53,711.29 841.81,711.18 842.08,711.64 842.36,711.41 842.63,711.77 842.9,710.93 843.18,711.09 843.45,710.11 843.73,710.28 844,709.67 844.27,709.25 844.55,708.81 844.82,709.18 845.1,709.22 845.37,710.17 845.64,709.23 845.92,709.48 846.19,708.9 846.47,709 846.74,709.05 847.01,707.92 847.29,708.26 847.56,707.59 847.84,708.01 848.11,708.28 848.38,709.52 848.66,709.78 848.93,709.85 849.21,709.75 849.48,710.62 849.75,711.3 850.03,711.8 850.3,712.37 850.58,712.8 850.85,713.08 851.12,712.37 851.4,711.51 851.67,711.74 851.95,712.67 852.22,713.39 852.49,713.16 852.77,713.38 853.04,714.04 853.32,714.97 853.59,714.93 853.86,714.03 854.14,714.36 854.41,715.78 854.69,716.67 854.96,716.67 855.23,716.04 855.51,716.06 855.78,716.17 856.06,716.87 856.33,718.21 856.6,718.39 856.88,718.44 857.15,717.71 857.43,718.26 857.7,718.05 857.97,718.79 858.25,718.52 858.52,718.62 858.8,717.9 859.07,717.31 859.34,717.26 859.62,717.84 859.89,717.65 860.17,717.47 860.44,716.95 860.71,717.47 860.99,717.08 861.26,716.95 861.54,716.94 861.81,717.21 862.08,717.92 862.36,718.41 862.63,718.75 862.91,718.39 863.18,718.16 863.45,718.01 863.73,718.04 864,718.21 864.28,718.94 864.55,718.64 864.82,718.26 865.1,717.98 865.37,718.11 865.65,718.18 865.92,717.83 866.19,718.7 866.47,719.3 866.74,719.56 867.02,718.26 867.29,718.13 867.56,718.04 867.84,719.06 868.11,718.92 868.39,718.66 868.66,719.03 868.93,719.91 869.21,719.79 869.48,718.99 869.76,718.16 870.03,718.04 870.3,717.69 870.58,718.25 870.85,718.68 871.13,718.63 871.4,718.09 871.67,718.14 871.95,718.2 872.22,718.05 872.5,718.38 872.77,719 873.04,719.4 873.32,718.74 873.59,719.13 873.87,718.25 874.14,719.08 874.41,718.42 874.69,719.34 874.96,718.84 875.24,718.48 875.51,717.5 875.78,716.89 876.06,717.31 876.33,717.69 876.61,718.1 876.88,717.83 877.15,718.02 877.43,717.7 877.7,717.81 877.98,717.22 878.25,717.46 878.52,717.33 878.8,718.03 879.07,718.37 879.35,719.11 879.62,718.95 879.89,718.85 880.17,718.05 880.44,718.42 880.72,717.13 880.99,717.49 881.26,716.55 881.54,717.37 881.81,718.28 882.09,718.85 882.36,718.68 882.63,718.65 882.91,718.26 883.18,719.16 883.46,718.42 883.73,718.63 884,718.99 884.28,718.74 884.55,719.06 884.83,718.64 885.1,718.45 885.37,716.89 885.65,716.48 885.92,716.54 886.2,717.87 886.47,718.28 886.74,718.39 887.02,717.8 887.29,717.45 887.57,717.22 887.84,717.87 888.11,717 888.39,717.95 888.66,717.65 888.94,718.39 889.21,717.67 889.48,718.31 889.76,718.94 890.03,719.13 890.31,718.68 890.58,718.7 890.85,719.02 891.13,718.84 891.4,718 891.68,717.81 891.95,718.28 892.22,718.95 892.5,717.8 892.77,717.36 893.05,717.11 893.32,717.66 893.59,716.98 893.87,716.52 894.14,717.43 894.42,718.33 894.69,718.92 894.96,718.52 895.24,718.94 895.51,718.94 895.79,719.22 896.06,718.63 896.33,718.47 896.61,718.59 896.88,719.36 897.16,719.56 897.43,718.78 897.7,717.95 897.98,717.8 898.25,719.29 898.53,719.66 898.8,719.92 899.07,718.8 899.35,719.07 899.62,718.96 899.9,719.08 900.17,717.6 900.44,717.17 900.72,716.99 900.99,718.03 901.27,718.34 901.54,718.2 901.81,718.33 902.09,718.3 902.36,717.98 902.64,717.51 902.91,717.39 903.18,717.27 903.46,717.5 903.73,717.99 904.01,719.15 904.28,719.5 904.55,719.15 904.83,718.34 905.1,717.67 905.38,717.87 905.65,718.32 905.92,718.44 906.2,717.78 906.47,717.65 906.75,717.82 907.02,717.74 907.29,717.44 907.57,717.59 907.84,718.89 908.12,718.51 908.39,718.25 908.66,717.42 908.94,718.09 909.21,718.81 909.49,718.89 909.76,718.76 910.03,717.87 910.31,718.29 910.58,717.71 910.86,718.11 911.13,717.2 911.4,718.11 911.68,717.99 911.95,717.98 912.23,717.57 912.5,718.26 912.77,718.84 913.05,718.68 913.32,718.66 913.6,719.08 913.87,719.19 914.14,719.02 914.42,718.22 914.69,718.75 914.97,719.09 915.24,719.64 915.51,718.63 915.79,718.26 916.06,717.97 916.34,718.44 916.61,718.47 916.88,718.06 917.16,718.09 917.43,717.56 917.71,718.61 917.98,719.33 918.25,720.54 918.53,719.98 918.8,719.4 919.08,718.09 919.35,717.46 919.62,717.47 919.9,717.84 920.17,718.23 920.45,717.56 920.72,717.77 920.99,717.7 921.27,718.37 921.54,718.19 921.82,718.12 922.09,718.32 922.36,718.6 922.64,718.65 922.91,718.36 923.19,718.06 923.46,718.36 923.73,718.17 924.01,718.21 924.28,717.87 924.56,717.9 924.83,717.2 925.1,717.01 925.38,716.84 925.65,717.48 925.93,717.91 926.2,718.46 926.47,717.31 926.75,717.43 927.02,717 927.3,717.56 927.57,717.99 927.84,718.51 928.12,719.17 928.39,719.03 928.67,719.2 928.94,719.25 929.21,718.39 929.49,717.64 929.76,717.43 930.04,717.9 930.31,718.8 930.58,718.55 930.86,718.4 931.13,718.18 931.41,718.37 931.68,718.6 931.95,718.39 932.23,718.84 932.5,719.02 932.78,719.18 933.05,718.63 933.32,718.24 933.6,717.76 933.87,718.01 934.15,718.3 934.42,717.65 934.69,718.28 934.97,717.68 935.24,718.31 935.52,717.59 935.79,718.23 936.06,718.44 936.34,718.92 936.61,719.25 936.89,719.21 937.16,719.38 937.43,718.54 937.71,718.08 937.98,718.75 938.26,719.65 938.53,719.97 938.8,718.6 939.08,717.97 939.35,717.91 939.63,717.71 939.9,717.43 940.17,716.91 940.45,717.18 940.72,717.18 941,718.47 941.27,718.53 941.54,719.31 941.82,718.18 942.09,717.25 942.37,716.59 942.64,717.6 942.91,718.52 943.19,718.71 943.46,718.15 943.74,717.7 944.01,717.35 944.28,718.42 944.56,718.31 944.83,718.86 945.11,718.07 945.38,718.05 945.65,717.97 945.93,718.27 946.2,719.3 946.48,719.18 946.75,718.32 947.02,717.26 947.3,717.35 947.57,717.86 947.85,717.82 948.12,717.93 948.39,717.2 948.67,717.72 948.94,717.46 949.22,718.1 949.49,718.08 949.76,718.34 950.04,718.51 950.31,718.67 950.59,718.74 950.86,718.37 951.13,718.29 951.41,718.14 951.68,718.33 951.96,718.45 952.23,717.69 952.5,717.62 952.78,717.76 953.05,718.52 953.33,718.27 953.6,718.12 953.87,718.07 954.15,718.41 954.42,718.27 954.7,718.07 954.97,717.8 955.24,718.47 955.52,719.01 955.79,720.16 956.07,719.23 956.34,718.39 956.61,716.89 956.89,717.11 957.16,717.05 957.44,717.51 957.71,717.55 957.98,718.49 958.26,718.68 958.53,718.74 958.81,717.68 959.08,716.6 959.35,716.37 959.63,716.35 959.9,716.62 960.18,716.44 960.45,716.9 960.72,716.92 961,716.76 961.27,715.78 961.55,715.07 961.82,714.09 962.09,713.5 962.37,712.7 962.64,712.42 962.92,711.45 963.19,711.7 963.46,710.78 963.74,710.45 964.01,709.64 964.29,709.84 964.56,709.39 964.83,709.05 965.11,707.95 965.38,707.77 965.66,707.47 965.93,707.78 966.2,707.75 966.48,707.69 966.75,708.15 967.03,708.6 967.3,708.71 967.57,708.48 967.85,708.7 968.12,709.21 968.4,709.6 968.67,710.32 968.94,711.1 969.22,710.96 969.49,711.17 969.77,710.89 970.04,712.22 970.31,712.28 970.59,713.02 970.86,711.69 971.14,712.48 971.41,712.87 971.68,713.97 971.96,713.49 972.23,714.23 972.51,714.79 972.78,715.18 973.05,715.13 973.33,715.23 973.6,716.01 973.88,716.16 974.15,716.77 974.42,716.95 974.7,717.29 974.97,716.5 975.25,716.66 975.52,716.57 975.79,717.23 976.07,717.21 976.34,716.55 976.62,717.07 976.89,717 977.16,717.55 977.44,717.46 977.71,717.74 977.99,717.87 978.26,717.36 978.53,717.58 978.81,717.79 979.08,718.58 979.36,718.14 979.63,717.81 979.9,717.36 980.18,718.09 980.45,718.16 980.73,718.59 981,718.21 981.27,718.25 981.55,718.93 981.82,718.73 982.1,718.74 982.37,718.55 982.64,718.69 982.92,718.17 983.19,717.78 983.47,717.53 983.74,718.19 984.01,718.35 984.29,718.92 984.56,718.98 984.84,718.2 985.11,717.55 985.38,717.67 985.66,717.78 985.93,718.13 986.21,718.13 986.48,718.34 986.75,718.63 987.03,718.96 987.3,718.64 987.58,718.98 987.85,718.19 988.12,719.24 988.4,718.57 988.67,718.85 988.95,718.44 989.22,719.24 989.49,719.21 989.77,719.06 990.04,718.58 990.32,718.57 990.59,718.18 990.86,718.12 991.14,717.99 991.41,718.79 991.69,718.38 991.96,718.24 992.23,716.89 992.51,716.69 992.78,716.77 993.06,717.17 993.33,717.88 993.6,717.64 993.88,718.36 994.15,718.22 994.43,718.22 994.7,717.93 994.97,717.2 995.25,718.15 995.52,718.13 995.8,718.82 996.07,718.38 996.34,719.19 996.62,718.65 996.89,718.47 997.17,718.13 997.44,718.97 997.71,719.37 997.99,718.49 998.26,718.03 998.54,717.83 998.81,718.16 999.08,718.12 999.36,717.91 999.63,717.82 999.91,717.7 1000.18,717.46 1000.45,718.17 1000.73,718.27 1001,718.73 1001.28,718.25 1001.55,718.28 1001.82,718.39 1002.1,718.56 1002.37,718.19 1002.65,718.16 1002.92,718.49 1003.19,718.62 1003.47,718.05 1003.74,717.69 1004.02,717.87 1004.29,718.53 1004.56,718.51 1004.84,718.15 1005.11,717.54 1005.39,717.41 1005.66,717.92 1005.93,718.82 1006.21,718.75 1006.48,718.48 1006.76,717.49 1007.03,716.87 1007.3,716.89 1007.58,716.93 1007.85,718.08 1008.13,717.78 1008.4,717.81 1008.67,716.9 1008.95,717.09 1009.22,717.25 1009.5,717.2 1009.77,717.7 1010.04,717.62 1010.32,717.77 1010.59,717.81 1010.87,718.47 1011.14,718.71 1011.41,718.38 1011.69,717.73 1011.96,717.65 1012.24,717.98 1012.51,718.08 1012.78,717.9 1013.06,717.75 1013.33,717.97 1013.61,718.8 1013.88,718.37 1014.15,717.55 1014.43,717.64 1014.7,717.66 1014.98,718.04 1015.25,717.74 1015.52,718.16 1015.8,718.87 1016.07,718.96 1016.35,718.76 1016.62,718.13" fill="none" stroke="#1a1aff" stroke-width="0.95" stroke-linejoin="round"/>
<rect x="830.3" y="554.5" width="186.5" height="173.8" fill="none" stroke="#8a8a8a" stroke-width="1.5"/>
<path d="M830.3 728.3v-2M830.3 554.5v2M852.22 728.3v-2M852.22 554.5v2M874.14 728.3v-2M874.14 554.5v2M896.06 728.3v-2M896.06 554.5v2M917.98 728.3v-2M917.98 554.5v2M939.9 728.3v-2M939.9 554.5v2M961.82 728.3v-2M961.82 554.5v2M983.74 728.3v-2M983.74 554.5v2M1005.66 728.3v-2M1005.66 554.5v2M830.3 728.3h2M830.3 699.33h2M830.3 670.37h2M830.3 641.4h2M830.3 612.43h2M830.3 583.47h2M830.3 554.5h2M1016.8 728.3h-2M1016.8 693.54h-2M1016.8 658.78h-2M1016.8 624.02h-2M1016.8 589.26h-2M1016.8 554.5h-2" stroke="#444" stroke-width="0.8" fill="none"/>
<text x="828.8" y="730.2" font-size="5.2" text-anchor="end" fill="#6a6aff" font-family="'Liberation Sans', Arial, sans-serif">0</text>
<text x="828.8" y="701.23" font-size="5.2" text-anchor="end" fill="#6a6aff" font-family="'Liberation Sans', Arial, sans-serif">20</text>
<text x="828.8" y="672.27" font-size="5.2" text-anchor="end" fill="#6a6aff" font-family="'Liberation Sans', Arial, sans-serif">40</text>
<text x="828.8" y="643.3" font-size="5.2" text-anchor="end" fill="#6a6aff" font-family="'Liberation Sans', Arial, sans-serif">60</text>
<text x="828.8" y="614.33" font-size="5.2" text-anchor="end" fill="#6a6aff" font-family="'Liberation Sans', Arial, sans-serif">80</text>
<text x="828.8" y="585.37" font-size="5.2" text-anchor="end" fill="#6a6aff" font-family="'Liberation Sans', Arial, sans-serif">100</text>
<text x="828.8" y="556.4" font-size="5.2" text-anchor="end" fill="#6a6aff" font-family="'Liberation Sans', Arial, sans-serif">120</text>
<text x="1018.3" y="730.2" font-size="5.2" text-anchor="start" fill="#333" font-family="'Liberation Sans', Arial, sans-serif">0</text>
<text x="1018.3" y="695.44" font-size="5.2" text-anchor="start" fill="#333" font-family="'Liberation Sans', Arial, sans-serif">5</text>
<text x="1018.3" y="660.68" font-size="5.2" text-anchor="start" fill="#333" font-family="'Liberation Sans', Arial, sans-serif">10</text>
<text x="1018.3" y="625.92" font-size="5.2" text-anchor="start" fill="#333" font-family="'Liberation Sans', Arial, sans-serif">15</text>
<text x="1018.3" y="591.16" font-size="5.2" text-anchor="start" fill="#333" font-family="'Liberation Sans', Arial, sans-serif">20</text>
<text x="1018.3" y="556.4" font-size="5.2" text-anchor="start" fill="#333" font-family="'Liberation Sans', Arial, sans-serif">25</text>
<text x="830.3" y="735.5" font-size="5.2" text-anchor="middle" fill="#333" font-family="'Liberation Sans', Arial, sans-serif">0</text>
<text x="852.22" y="735.5" font-size="5.2" text-anchor="middle" fill="#333" font-family="'Liberation Sans', Arial, sans-serif">2</text>
<text x="874.14" y="735.5" font-size="5.2" text-anchor="middle" fill="#333" font-family="'Liberation Sans', Arial, sans-serif">4</text>
<text x="896.06" y="735.5" font-size="5.2" text-anchor="middle" fill="#333" font-family="'Liberation Sans', Arial, sans-serif">6</text>
<text x="917.98" y="735.5" font-size="5.2" text-anchor="middle" fill="#333" font-family="'Liberation Sans', Arial, sans-serif">8</text>
<text x="939.9" y="735.5" font-size="5.2" text-anchor="middle" fill="#333" font-family="'Liberation Sans', Arial, sans-serif">10</text>
<text x="961.82" y="735.5" font-size="5.2" text-anchor="middle" fill="#333" font-family="'Liberation Sans', Arial, sans-serif">12</text>
<text x="983.74" y="735.5" font-size="5.2" text-anchor="middle" fill="#333" font-family="'Liberation Sans', Arial, sans-serif">14</text>
<text x="1005.66" y="735.5" font-size="5.2" text-anchor="middle" fill="#333" font-family="'Liberation Sans', Arial, sans-serif">16</text>
<text x="923.55" y="743.8" font-size="5.6" text-anchor="middle" fill="#333" font-family="'Liberation Sans', Arial, sans-serif">Time (s)</text>
<text x="817.5" y="641.4" font-size="6.2" text-anchor="middle" fill="#4a4aff" font-family="'Liberation Sans', Arial, sans-serif" transform="rotate(-90 817.5 641.4)" textLength="52" lengthAdjust="spacingAndGlyphs">Pixel Differential</text>
<text x="1029.8" y="641.4" font-size="6.2" text-anchor="middle" fill="#333" font-family="'Liberation Sans', Arial, sans-serif" transform="rotate(-90 1029.8 641.4)" textLength="39" lengthAdjust="spacingAndGlyphs">Stimulus (V)</text>
</g>
<g filter="url(#blur)">
<path d="M1083.4 733V697.4M1085.9 733V697.4M1088.4 733V697.4M1090.9 733V697.4M1093.4 733V697.4M1095.9 733V697.4M1098.4 733V697.4M1100.9 733V697.4M1103.4 733V697.4M1105.9 733V697.4M1108.4 733V697.4M1110.9 733V697.4M1113.4 733V697.4M1115.9 733V697.4M1118.4 733V697.4M1120.9 733V697.4M1123.4 733V697.4M1125.9 733V697.4M1128.4 733V697.4M1130.9 733V697.4M1133.4 733V697.4M1135.9 733V697.4M1138.4 733V697.4M1140.9 733V697.4M1143.4 733V697.4M1145.9 733V697.4M1148.4 733V697.4M1150.9 733V697.4M1153.4 733V697.4M1155.9 733V697.4M1158.4 733V697.4M1160.9 733V697.4M1163.4 733V697.4M1165.9 733V697.4M1168.4 733V697.4M1170.9 733V697.4M1173.4 733V697.4M1175.9 733V697.4M1178.4 733V697.4M1180.9 733V697.4M1183.4 733V697.4M1185.9 733V697.4M1188.4 733V697.4M1190.9 733V697.4M1193.4 733V697.4M1195.9 733V697.4M1198.4 733V697.4M1200.9 733V697.4M1203.4 733V697.4M1205.9 733V697.4M1208.4 733V697.4M1210.9 733V697.4M1213.4 733V697.4M1215.9 733V697.4M1218.4 733V697.4M1220.9 733V697.4M1223.4 733V697.4M1225.9 733V697.4M1228.4 733V697.4M1230.9 733V697.4M1233.4 733V697.4" stroke="#555" stroke-width="1.4" fill="none"/>
<polyline points="1083.4,721.13 1083.65,721.13 1083.9,721.13 1084.15,721.13 1084.4,714.42 1084.65,714.23 1084.9,713.43 1085.15,712.86 1085.4,713.45 1085.65,713.56 1085.9,713.47 1086.15,712.09 1086.4,711.32 1086.65,710.53 1086.9,709.81 1087.15,709.53 1087.4,710 1087.65,709.59 1087.9,708.23 1088.15,708.61 1088.4,708.79 1088.65,709.61 1088.9,709.55 1089.15,709.77 1089.4,710.32 1089.65,709.98 1089.9,709.45 1090.15,708.81 1090.4,708.48 1090.65,709.05 1090.9,709.29 1091.15,709.41 1091.4,710.26 1091.65,710.7 1091.9,710.91 1092.15,710.89 1092.4,711.04 1092.65,711 1092.9,710.2 1093.15,710.28 1093.4,711.02 1093.65,711.32 1093.9,710.88 1094.15,710.68 1094.4,710.49 1094.65,710.16 1094.9,709.63 1095.15,708.47 1095.4,707.88 1095.65,707.3 1095.9,707.73 1096.15,706.85 1096.4,706.49 1096.65,706.93 1096.9,707.75 1097.15,708.01 1097.4,707.89 1097.65,707.92 1097.9,707.94 1098.15,707.87 1098.4,708.29 1098.65,708.24 1098.9,709 1099.15,708.71 1099.4,709.23 1099.65,708.76 1099.9,710.22 1100.15,709.85 1100.4,710.88 1100.65,710.58 1100.9,711.25 1101.15,711.11 1101.4,711.21 1101.65,712.55 1101.9,712.74 1102.15,712.73 1102.4,711.84 1102.65,711.96 1102.9,712.1 1103.15,712.3 1103.4,712.52 1103.65,712.91 1103.9,712.31 1104.15,712.32 1104.4,711.46 1104.65,712.02 1104.9,710.95 1105.15,711.42 1105.4,710.99 1105.65,711.14 1105.9,710.68 1106.15,710.44 1106.4,710.55 1106.65,710.2 1106.9,710.2 1107.15,709.38 1107.4,709.19 1107.65,709.42 1107.9,709.76 1108.15,709.74 1108.4,709.59 1108.65,709.04 1108.9,708.95 1109.15,708.42 1109.4,709.36 1109.65,709.84 1109.9,709.97 1110.15,710.43 1110.4,710.37 1110.65,710.96 1110.9,710.87 1111.15,711.24 1111.4,711.97 1111.65,711.99 1111.9,712.79 1112.15,713.17 1112.4,713.04 1112.65,713.16 1112.9,713.8 1113.15,714.27 1113.4,714.6 1113.65,715.44 1113.9,716.13 1114.15,715.78 1114.4,714.59 1114.65,714.19 1114.9,714.84 1115.15,715 1115.4,716.26 1115.65,716.38 1115.9,716.23 1116.15,715.86 1116.4,716.04 1116.65,717.54 1116.9,718.03 1117.15,718.72 1117.4,717.82 1117.65,718.07 1117.9,717.56 1118.15,718.34 1118.4,717.43 1118.65,718.1 1118.9,717.74 1119.15,717.52 1119.4,717.06 1119.65,717.49 1119.9,718.3 1120.15,718.05 1120.4,717.42 1120.65,718.44 1120.9,718.76 1121.15,719.92 1121.4,718.47 1121.65,718.55 1121.9,717.93 1122.15,718.41 1122.4,718.26 1122.65,718.55 1122.9,718.19 1123.15,718.48 1123.4,718.7 1123.65,718.79 1123.9,718.12 1124.15,716.98 1124.4,717.31 1124.65,718.24 1124.9,718.36 1125.15,717.86 1125.4,717.21 1125.65,716.96 1125.9,717.97 1126.15,717.89 1126.4,718.15 1126.65,718.42 1126.9,719.43 1127.15,720.06 1127.4,719.46 1127.65,718.67 1127.9,718.48 1128.15,718.54 1128.4,718.76 1128.65,718.64 1128.9,718.39 1129.15,718.16 1129.4,718.22 1129.65,718.34 1129.9,718.7 1130.15,718.38 1130.4,718.67 1130.65,717.87 1130.9,718.19 1131.15,717.89 1131.4,718.81 1131.65,718.93 1131.9,718.98 1132.15,718.68 1132.4,718.79 1132.65,719.3 1132.9,719.29 1133.15,718.99 1133.4,718.34 1133.65,717.88 1133.9,718.06 1134.15,719.03 1134.4,719.57 1134.65,720.15 1134.9,719.88 1135.15,719.44 1135.4,718.51 1135.65,718.27 1135.9,718.91 1136.15,719.16 1136.4,719.59 1136.65,719.16 1136.9,719.26 1137.15,717.88 1137.4,718.48 1137.65,717.96 1137.9,718.93 1138.15,718.13 1138.4,718.89 1138.65,718.35 1138.9,718.91 1139.15,718.85 1139.4,719.19 1139.65,718.84 1139.9,718.37 1140.15,717.71 1140.4,717.58 1140.65,718.74 1140.9,719.5 1141.15,720.58 1141.4,719.72 1141.65,719.33 1141.9,719.08 1142.15,719.39 1142.4,719.57 1142.65,719.17 1142.9,718.11 1143.15,718.04 1143.4,717.73 1143.65,717.67 1143.9,717.98 1144.15,718.19 1144.4,719.24 1144.65,718.95 1144.9,718.56 1145.15,717.65 1145.4,717.76 1145.65,718.44 1145.9,719.26 1146.15,719.78 1146.4,719.46 1146.65,718.64 1146.9,719.02 1147.15,719.9 1147.4,719.89 1147.65,719.6 1147.9,718.63 1148.15,719.66 1148.4,718.74 1148.65,718.57 1148.9,718.02 1149.15,718 1149.4,718.28 1149.65,718.13 1149.9,717.75 1150.15,717.35 1150.4,717.82 1150.65,718.83 1150.9,719.34 1151.15,719.18 1151.4,718.84 1151.65,718.99 1151.9,718.65 1152.15,718.66 1152.4,718.29 1152.65,718.54 1152.9,718.32 1153.15,718.92 1153.4,718.31 1153.65,718.42 1153.9,717.78 1154.15,718.16 1154.4,717.87 1154.65,717.76 1154.9,717.91 1155.15,718.4 1155.4,719.31 1155.65,719.32 1155.9,719.37 1156.15,718.86 1156.4,718.02 1156.65,718.62 1156.9,718.47 1157.15,718.93 1157.4,717.85 1157.65,717.39 1157.9,718.35 1158.15,719.09 1158.4,719.33 1158.65,718.95 1158.9,717.92 1159.15,718.07 1159.4,717.88 1159.65,718.37 1159.9,718.55 1160.15,718.58 1160.4,719 1160.65,718.9 1160.9,719.11 1161.15,718.73 1161.4,719.24 1161.65,719.59 1161.9,719.47 1162.15,718.78 1162.4,718.5 1162.65,718.68 1162.9,719.07 1163.15,717.78 1163.4,718.15 1163.65,716.9 1163.9,717.8 1164.15,716.79 1164.4,717.27 1164.65,716.79 1164.9,716.24 1165.15,715.44 1165.4,714.98 1165.65,715.24 1165.9,714.27 1166.15,713.1 1166.4,712.17 1166.65,712.54 1166.9,712.43 1167.15,711.91 1167.4,710.82 1167.65,710.82 1167.9,710.39 1168.15,710.75 1168.4,709.53 1168.65,708.57 1168.9,708.1 1169.15,708.27 1169.4,708.39 1169.65,708.48 1169.9,709.1 1170.15,709.32 1170.4,709.12 1170.65,708.97 1170.9,708.98 1171.15,709.27 1171.4,710.09 1171.65,710.76 1171.9,711.13 1172.15,710 1172.4,710.43 1172.65,710.79 1172.9,711.66 1173.15,711.89 1173.4,712.68 1173.65,713.13 1173.9,713.69 1174.15,712.94 1174.4,712.39 1174.65,713.02 1174.9,714.25 1175.15,715.81 1175.4,715.94 1175.65,716.12 1175.9,716.05 1176.15,715.65 1176.4,716.14 1176.65,716.99 1176.9,718.35 1177.15,717.63 1177.4,716.72 1177.65,716.79 1177.9,718.01 1178.15,718.63 1178.4,717.76 1178.65,716.88 1178.9,716.97 1179.15,717.24 1179.4,717.6 1179.65,717.98 1179.9,717.59 1180.15,717.79 1180.4,718.07 1180.65,719.04 1180.9,719.68 1181.15,719.29 1181.4,718.73 1181.65,718.66 1181.9,718.26 1182.15,717.9 1182.4,717.29 1182.65,718.19 1182.9,719.34 1183.15,719.63 1183.4,719.69 1183.65,719.86 1183.9,719.84 1184.15,719.42 1184.4,718.71 1184.65,719.08 1184.9,718.29 1185.15,718.12 1185.4,717.32 1185.65,718.3 1185.9,718.04 1186.15,718.52 1186.4,717.57 1186.65,717.83 1186.9,718.04 1187.15,718.92 1187.4,718.61 1187.65,717.88 1187.9,717.77 1188.15,718.41 1188.4,718.72 1188.65,718.96 1188.9,719.12 1189.15,719.45 1189.4,719.32 1189.65,719.07 1189.9,719.18 1190.15,718.74 1190.4,718.88 1190.65,718.21 1190.9,718.15 1191.15,717.71 1191.4,717.77 1191.65,717.84 1191.9,718.39 1192.15,718.41 1192.4,719.04 1192.65,719.06 1192.9,718.99 1193.15,718.67 1193.4,718.4 1193.65,719.1 1193.9,718.55 1194.15,718.95 1194.4,718.39 1194.65,718.93 1194.9,718.35 1195.15,718.65 1195.4,719.03 1195.65,720.12 1195.9,720.09 1196.15,720.17 1196.4,719.23 1196.65,718.56 1196.9,718.95 1197.15,719.66 1197.4,720.1 1197.65,718.76 1197.9,718.15 1198.15,718.14 1198.4,718.43 1198.65,718.32 1198.9,717.81 1199.15,717.77 1199.4,718.48 1199.65,719.3 1199.9,719.45 1200.15,719.29 1200.4,719.21 1200.65,719.49 1200.9,719.45 1201.15,719.08 1201.4,719.03 1201.65,719.19 1201.9,719.73 1202.15,719.57 1202.4,718.33 1202.65,717.95 1202.9,717.39 1203.15,718.02 1203.4,718.95 1203.65,719.38 1203.9,719.91 1204.15,719.6 1204.4,720.16 1204.65,719.14 1204.9,719.23 1205.15,719.06 1205.4,719.3 1205.65,718.43 1205.9,718.86 1206.15,719.35 1206.4,719.81 1206.65,719.22 1206.9,718.89 1207.15,718.91 1207.4,718.96 1207.65,718.69 1207.9,719.18 1208.15,719.2 1208.4,719.59 1208.65,719.36 1208.9,719.46 1209.15,720.15 1209.4,719.61 1209.65,719.61 1209.9,718.8 1210.15,718.46 1210.4,718.2 1210.65,718.66 1210.9,718.95 1211.15,718.95 1211.4,719.28 1211.65,718.96 1211.9,718.9 1212.15,718.12 1212.4,719.07 1212.65,718.82 1212.9,718.31 1213.15,717.54 1213.4,718.44 1213.65,719.25 1213.9,719.51 1214.15,718.86 1214.4,718.97 1214.65,718.76 1214.9,719.02 1215.15,718.84 1215.4,719.31 1215.65,719.09 1215.9,718.79 1216.15,718.72 1216.4,718.5 1216.65,719.23 1216.9,719.19 1217.15,719.54 1217.4,718.71 1217.65,718.86 1217.9,718.3 1218.15,719.36 1218.4,719.12 1218.65,719.24 1218.9,718.4 1219.15,718.73 1219.4,719.57 1219.65,719.5 1219.9,719.6 1220.15,718.9 1220.4,719.44 1220.65,718.96 1220.9,718.28 1221.15,717.48 1221.4,717.15 1221.65,718.59 1221.9,719.07 1222.15,719.37 1222.4,718.88 1222.65,718.48 1222.9,719.17 1223.15,719.01 1223.4,719.49 1223.65,719.11 1223.9,718.56 1224.15,719.11 1224.4,718.8 1224.65,719.45 1224.9,719.81 1225.15,720.38 1225.4,720.79 1225.65,719.63 1225.9,718.7 1226.15,718.1 1226.4,718.31 1226.65,719.54 1226.9,719.69 1227.15,719.98 1227.4,718.67 1227.65,718.23 1227.9,717.16 1228.15,717.34 1228.4,717.55 1228.65,718.82 1228.9,719.07 1229.15,719.87 1229.4,719.12 1229.65,719.62 1229.9,719.22 1230.15,719.89 1230.4,719.61 1230.65,719.35 1230.9,719.25 1231.15,718.99 1231.4,719.56 1231.65,718.79 1231.9,719.13 1232.15,718.35 1232.4,718.06 1232.65,718.76 1232.9,719.54 1233.15,720.46 1233.4,719.05 1233.65,718.86 1233.9,718.63 1234.15,719.37 1234.4,718.97 1234.65,719.59 1234.9,718.98 1235.15,720.37 1235.4,720.64 1235.65,720.25 1235.9,719.02 1236.15,718.63 1236.4,718.48 1236.65,718.14 1236.9,717.34 1237.15,718.37 1237.4,718.54 1237.65,718.79 1237.9,719.27 1238.15,719.29 1238.4,719.56 1238.65,718.41 1238.9,718.13 1239.15,718.31 1239.4,719.05 1239.65,719.49 1239.9,718.98 1240.15,718.91 1240.4,719.03 1240.65,719.05 1240.9,718.72 1241.15,718.22 1241.4,718.37 1241.65,718.88 1241.9,720.04 1242.15,719.81 1242.4,719.6 1242.65,719.04 1242.9,719.47 1243.15,719.96 1243.4,719.98 1243.65,720.89 1243.9,720.44 1244.15,720.64 1244.4,718.89 1244.65,718.55 1244.9,718.29 1245.15,718.95 1245.4,718.84 1245.65,719.05 1245.9,719.21 1246.15,719.64 1246.4,718.36 1246.65,718.24 1246.9,718.88 1247.15,719.55 1247.4,718.56 1247.65,718.16 1247.9,717.1 1248.15,718.15 1248.4,717.38 1248.65,718.97 1248.9,719.06 1249.15,719.94 1249.4,720.14 1249.65,720.88 1249.9,719.94 1250.15,719.98 1250.4,718.99 1250.65,719.31 1250.9,719.11 1251.15,719.24 1251.4,719.41 1251.65,719.35 1251.9,719.35 1252.15,719.3 1252.4,719.51 1252.65,720.04 1252.9,720.4 1253.15,719.95 1253.4,718.89 1253.65,717.97 1253.9,717.89 1254.15,718.07 1254.4,718.6 1254.65,718.29 1254.9,718.62 1255.15,718.51 1255.4,719.07 1255.65,719.12 1255.9,718.52 1256.15,718.89 1256.4,718.89 1256.65,719.88 1256.9,719.02 1257.15,718.3 1257.4,718.19 1257.65,719.68 1257.9,720.15 1258.15,719.79 1258.4,719.36 1258.65,719.7 1258.9,719.97 1259.15,720.22 1259.4,719.86 1259.65,719.66 1259.9,718.64 1260.15,719.34 1260.4,719.8 1260.65,720.15 1260.9,719.53 1261.15,719.64 1261.4,718.81 1261.65,718.85 1261.9,719.33 1262.15,719.24 1262.4,719.33 1262.65,718.68 1262.9,719.32 1263.15,720.11 1263.4,719.82 1263.65,720.84 1263.9,720.52 1264.15,720.06 1264.4,718.57 1264.65,718.3 1264.9,719.23 1265.15,719.36 1265.4,719.25 1265.65,718.78 1265.9,718.9 1266.15,719.32 1266.4,719.08 1266.65,720.18 1266.9,719.17 1267.15,720.12 1267.4,719.52 1267.65,720.38 1267.9,719.46 1268.15,718.91 1268.4,718.5" fill="none" stroke="#1a1aff" stroke-width="0.95" stroke-linejoin="round"/>
<rect x="1083.4" y="555" width="185.5" height="178" fill="none" stroke="#8a8a8a" stroke-width="1.5"/>
<path d="M1083.4 733v-2M1083.4 555v2M1133.4 733v-2M1133.4 555v2M1183.4 733v-2M1183.4 555v2M1233.4 733v-2M1233.4 555v2M1083.4 733h2M1083.4 703.33h2M1083.4 673.67h2M1083.4 644h2M1083.4 614.33h2M1083.4 584.67h2M1083.4 555h2M1268.9 733h-2M1268.9 697.4h-2M1268.9 661.8h-2M1268.9 626.2h-2M1268.9 590.6h-2M1268.9 555h-2" stroke="#444" stroke-width="0.8" fill="none"/>
<text x="1081.9" y="734.9" font-size="5.2" text-anchor="end" fill="#6a6aff" font-family="'Liberation Sans', Arial, sans-serif">0</text>
<text x="1081.9" y="705.23" font-size="5.2" text-anchor="end" fill="#6a6aff" font-family="'Liberation Sans', Arial, sans-serif">20</text>
<text x="1081.9" y="675.57" font-size="5.2" text-anchor="end" fill="#6a6aff" font-family="'Liberation Sans', Arial, sans-serif">40</text>
<text x="1081.9" y="645.9" font-size="5.2" text-anchor="end" fill="#6a6aff" font-family="'Liberation Sans', Arial, sans-serif">60</text>
<text x="1081.9" y="616.23" font-size="5.2" text-anchor="end" fill="#6a6aff" font-family="'Liberation Sans', Arial, sans-serif">80</text>
<text x="1081.9" y="586.57" font-size="5.2" text-anchor="end" fill="#6a6aff" font-family="'Liberation Sans', Arial, sans-serif">100</text>
<text x="1081.9" y="556.9" font-size="5.2" text-anchor="end" fill="#6a6aff" font-family="'Liberation Sans', Arial, sans-serif">120</text>
<text x="1270.4" y="734.9" font-size="5.2" text-anchor="start" fill="#333" font-family="'Liberation Sans', Arial, sans-serif">0</text>
<text x="1270.4" y="699.3" font-size="5.2" text-anchor="start" fill="#333" font-family="'Liberation Sans', Arial, sans-serif">5</text>
<text x="1270.4" y="663.7" font-size="5.2" text-anchor="start" fill="#333" font-family="'Liberation Sans', Arial, sans-serif">10</text>
<text x="1270.4" y="628.1" font-size="5.2" text-anchor="start" fill="#333" font-family="'Liberation Sans', Arial, sans-serif">15</text>
<text x="1270.4" y="592.5" font-size="5.2" text-anchor="start" fill="#333" font-family="'Liberation Sans', Arial, sans-serif">20</text>
<text x="1270.4" y="556.9" font-size="5.2" text-anchor="start" fill="#333" font-family="'Liberation Sans', Arial, sans-serif">25</text>
<text x="1083.4" y="740.2" font-size="5.2" text-anchor="middle" fill="#333" font-family="'Liberation Sans', Arial, sans-serif">0</text>
<text x="1133.4" y="740.2" font-size="5.2" text-anchor="middle" fill="#333" font-family="'Liberation Sans', Arial, sans-serif">5</text>
<text x="1183.4" y="740.2" font-size="5.2" text-anchor="middle" fill="#333" font-family="'Liberation Sans', Arial, sans-serif">10</text>
<text x="1233.4" y="740.2" font-size="5.2" text-anchor="middle" fill="#333" font-family="'Liberation Sans', Arial, sans-serif">15</text>
<text x="1176.15" y="748.5" font-size="5.6" text-anchor="middle" fill="#333" font-family="'Liberation Sans', Arial, sans-serif">Time (s)</text>
<text x="1070.6" y="644" font-size="6.2" text-anchor="middle" fill="#4a4aff" font-family="'Liberation Sans', Arial, sans-serif" transform="rotate(-90 1070.6 644)" textLength="52" lengthAdjust="spacingAndGlyphs">Pixel Differential</text>
<text x="1281.9" y="644" font-size="6.2" text-anchor="middle" fill="#333" font-family="'Liberation Sans', Arial, sans-serif" transform="rotate(-90 1281.9 644)" textLength="39" lengthAdjust="spacingAndGlyphs">Stimulus (V)</text>
</g>
<text x="13.5" y="42.85" font-size="39.89" text-anchor="start" fill="#000" font-family="'Liberation Sans', Arial, sans-serif" textLength="24.84" lengthAdjust="spacingAndGlyphs">A</text>
<text x="608.29" y="24.85" font-size="31.68" text-anchor="start" fill="#000" font-family="'Liberation Sans', Arial, sans-serif" textLength="101.77" lengthAdjust="spacingAndGlyphs">DAY 14</text>
<text x="169.13" y="87.15" font-size="30.61" text-anchor="start" fill="#000" font-family="'Liberation Sans', Arial, sans-serif" textLength="94.26" lengthAdjust="spacingAndGlyphs">0.33Hz</text>
<text x="409.64" y="86.15" font-size="31.68" text-anchor="start" fill="#000" font-family="'Liberation Sans', Arial, sans-serif" textLength="78.06" lengthAdjust="spacingAndGlyphs">0.5Hz</text>
<text x="647.6" y="86.15" font-size="31.68" text-anchor="start" fill="#000" font-family="'Liberation Sans', Arial, sans-serif" textLength="53.88" lengthAdjust="spacingAndGlyphs">1Hz</text>
<text x="895.86" y="87.2" font-size="31.6" text-anchor="start" fill="#000" font-family="'Liberation Sans', Arial, sans-serif" textLength="54.37" lengthAdjust="spacingAndGlyphs">2Hz</text>
<text x="1138.93" y="86.6" font-size="31.68" text-anchor="start" fill="#000" font-family="'Liberation Sans', Arial, sans-serif" textLength="53.01" lengthAdjust="spacingAndGlyphs">4Hz</text>
<text x="65.4" y="263.96" font-size="29.71" text-anchor="start" fill="#000" font-family="'Liberation Sans', Arial, sans-serif" transform="rotate(-90 65.4 263.96)" textLength="126.09" lengthAdjust="spacingAndGlyphs">WT Ctrl A</text>
<text x="64.65" y="509.31" font-size="33.36" text-anchor="start" fill="#000" font-family="'Liberation Sans', Arial, sans-serif" transform="rotate(-90 64.65 509.31)" textLength="180.94" lengthAdjust="spacingAndGlyphs">SOD1 E100G</text>
<text x="64.35" y="738.5" font-size="32.35" text-anchor="start" fill="#000" font-family="'Liberation Sans', Arial, sans-serif" transform="rotate(-90 64.35 738.5)" textLength="172.85" lengthAdjust="spacingAndGlyphs">SOD1 L144P</text>
<text x="0.04" y="795.4" font-size="38.96" text-anchor="start" fill="#000" font-family="'Liberation Sans', Arial, sans-serif" textLength="26.44" lengthAdjust="spacingAndGlyphs">B</text>
<text x="1057.35" y="802.3" font-size="36.68" text-anchor="start" fill="#000" font-family="'Liberation Sans', Arial, sans-serif" textLength="28" lengthAdjust="spacingAndGlyphs">C</text>
<text x="27.95" y="1080.54" font-size="34.23" text-anchor="start" fill="#000" font-family="'Liberation Sans', Arial, sans-serif" transform="rotate(-90 27.95 1080.54)" textLength="106.14" lengthAdjust="spacingAndGlyphs">DAY 14</text>
<text x="68.25" y="1215.02" font-size="29.69" text-anchor="start" fill="#000" font-family="'Liberation Sans', Arial, sans-serif" transform="rotate(-90 68.25 1215.02)" textLength="351.57" lengthAdjust="spacingAndGlyphs">Contraction Synchrony (%)</text>
<text x="1081" y="1095.03" font-size="31.36" text-anchor="start" fill="#000" font-family="'Liberation Sans', Arial, sans-serif" transform="rotate(-90 1081 1095.03)" textLength="103.65" lengthAdjust="spacingAndGlyphs">DAY 21</text>
<text x="1117.35" y="1209.48" font-size="29.47" text-anchor="start" fill="#000" font-family="'Liberation Sans', Arial, sans-serif" transform="rotate(-90 1117.35 1209.48)" textLength="349.76" lengthAdjust="spacingAndGlyphs">Contraction Synchrony (%)</text>
<text x="174.45" y="1286.85" font-size="29.32" text-anchor="start" fill="#000" font-family="'Liberation Sans', Arial, sans-serif" textLength="123.45" lengthAdjust="spacingAndGlyphs">0.33 (Hz)</text>
<text x="345.13" y="1286.85" font-size="29.32" text-anchor="start" fill="#000" font-family="'Liberation Sans', Arial, sans-serif" textLength="107.31" lengthAdjust="spacingAndGlyphs">0.5 (Hz)</text>
<text x="520.14" y="1286.85" font-size="29.32" text-anchor="start" fill="#000" font-family="'Liberation Sans', Arial, sans-serif" textLength="81.42" lengthAdjust="spacingAndGlyphs">1 (Hz)</text>
<text x="686.06" y="1286.85" font-size="29.32" text-anchor="start" fill="#000" font-family="'Liberation Sans', Arial, sans-serif" textLength="73.18" lengthAdjust="spacingAndGlyphs">2(Hz)</text>
<text x="848.92" y="1286.85" font-size="29.32" text-anchor="start" fill="#000" font-family="'Liberation Sans', Arial, sans-serif" textLength="71.92" lengthAdjust="spacingAndGlyphs">4(Hz)</text>
<text x="1216.56" y="1276.15" font-size="28.34" text-anchor="start" fill="#000" font-family="'Liberation Sans', Arial, sans-serif" textLength="122.23" lengthAdjust="spacingAndGlyphs">0.33 (Hz)</text>
<text x="1385.93" y="1276.15" font-size="28.34" text-anchor="start" fill="#000" font-family="'Liberation Sans', Arial, sans-serif" textLength="106.07" lengthAdjust="spacingAndGlyphs">0.5 (Hz)</text>
<text x="1559.72" y="1276.15" font-size="28.34" text-anchor="start" fill="#000" font-family="'Liberation Sans', Arial, sans-serif" textLength="81.25" lengthAdjust="spacingAndGlyphs">1 (Hz)</text>
<text x="1724.46" y="1276.15" font-size="28.34" text-anchor="start" fill="#000" font-family="'Liberation Sans', Arial, sans-serif" textLength="72.95" lengthAdjust="spacingAndGlyphs">2(Hz)</text>
<text x="1885.63" y="1276.15" font-size="28.34" text-anchor="start" fill="#000" font-family="'Liberation Sans', Arial, sans-serif" textLength="72.08" lengthAdjust="spacingAndGlyphs">4(Hz)</text>
<text x="162.83" y="1361.55" font-size="28.89" text-anchor="start" fill="#000" font-family="'Liberation Sans', Arial, sans-serif" textLength="127" lengthAdjust="spacingAndGlyphs">WT Ctrl A</text>
<text x="347.56" y="1361.75" font-size="32.02" text-anchor="start" fill="#000" font-family="'Liberation Sans', Arial, sans-serif" textLength="187.91" lengthAdjust="spacingAndGlyphs">SOD1&#160;&#160;E100G</text>
<text x="592.45" y="1361.75" font-size="32.02" text-anchor="start" fill="#000" font-family="'Liberation Sans', Arial, sans-serif" textLength="181.38" lengthAdjust="spacingAndGlyphs">SOD1&#160;&#160;L144P</text>
<text x="1263.79" y="1331.8" font-size="28.91" text-anchor="start" fill="#000" font-family="'Liberation Sans', Arial, sans-serif" textLength="125.48" lengthAdjust="spacingAndGlyphs">WT Ctrl A</text>
<text x="1447.43" y="1332.5" font-size="31.26" text-anchor="start" fill="#000" font-family="'Liberation Sans', Arial, sans-serif" textLength="179.95" lengthAdjust="spacingAndGlyphs">SOD1 E100G</text>
<text x="1683.49" y="1332.5" font-size="31.26" text-anchor="start" fill="#000" font-family="'Liberation Sans', Arial, sans-serif" textLength="173.82" lengthAdjust="spacingAndGlyphs">SOD1 L144P</text>
<text x="1249.98" y="837.05" font-size="26.1" text-anchor="start" fill="#000" font-family="'Liberation Sans', Arial, sans-serif" textLength="47.24" lengthAdjust="spacingAndGlyphs">N.S.</text>
<text x="1413.01" y="838.05" font-size="25.02" text-anchor="start" fill="#000" font-family="'Liberation Sans', Arial, sans-serif" textLength="40.61" lengthAdjust="spacingAndGlyphs">N.S</text>
<text x="1572.87" y="857.55" font-size="26.48" text-anchor="start" fill="#000" font-family="'Liberation Sans', Arial, sans-serif" textLength="47.64" lengthAdjust="spacingAndGlyphs">N.S.</text>
<text x="1737.08" y="898.35" font-size="25.29" text-anchor="start" fill="#000" font-family="'Liberation Sans', Arial, sans-serif" textLength="47.95" lengthAdjust="spacingAndGlyphs">N.S.</text>
<text x="1896.79" y="932.85" font-size="24.79" text-anchor="start" fill="#000" font-family="'Liberation Sans', Arial, sans-serif" textLength="40.67" lengthAdjust="spacingAndGlyphs">N.S</text>
<text x="216.47" y="803.3" font-size="25.9" text-anchor="start" fill="#000" font-family="'Liberation Serif', serif">*</text>
<text x="225.99" y="838.14" font-size="25.96" text-anchor="start" fill="#000" font-family="'Liberation Serif', serif">*</text>
<text x="380.14" y="804.54" font-size="25.87" text-anchor="start" fill="#000" font-family="'Liberation Serif', serif">*</text>
<text x="388.25" y="838.5" font-size="26.07" text-anchor="start" fill="#000" font-family="'Liberation Serif', serif">*</text>
<text x="539.99" y="809.39" font-size="25.96" text-anchor="start" fill="#000" font-family="'Liberation Serif', serif">*</text>
<text x="543.31" y="845.11" font-size="25.81" text-anchor="start" fill="#000" font-family="'Liberation Serif', serif">*</text>
<text x="703.27" y="890.79" font-size="25.86" text-anchor="start" fill="#000" font-family="'Liberation Serif', serif">*</text>
<text x="713.95" y="924.78" font-size="25.86" text-anchor="start" fill="#000" font-family="'Liberation Serif', serif">*</text>
<text x="864.56" y="905.89" font-size="26.09" text-anchor="start" fill="#000" font-family="'Liberation Serif', serif">*</text>
<text x="876.31" y="939.01" font-size="25.81" text-anchor="start" fill="#000" font-family="'Liberation Serif', serif">*</text>
<text x="1255.12" y="810.14" font-size="23.32" text-anchor="start" fill="#000" font-family="'Liberation Serif', serif">*</text>
<text x="1412.28" y="807.49" font-size="23.31" text-anchor="start" fill="#000" font-family="'Liberation Serif', serif">*</text>
<text x="1581.06" y="826.93" font-size="23.31" text-anchor="start" fill="#000" font-family="'Liberation Serif', serif">*</text>
<text x="1743.87" y="865.5" font-size="22.9" text-anchor="start" fill="#000" font-family="'Liberation Serif', serif">*</text>
<text x="1906.9" y="906.49" font-size="23" text-anchor="start" fill="#000" font-family="'Liberation Serif', serif">*</text>
<rect x="188.5" y="873.9" width="31.33" height="367.6" fill="#a6a6a6" stroke="#000" stroke-width="2.3"/>
<rect x="219.84" y="926.98" width="31.33" height="314.52" fill="#262626" stroke="#000" stroke-width="2.3"/>
<rect x="251.16" y="928.08" width="31.33" height="313.42" fill="url(#hatch)" stroke="#000" stroke-width="2.3"/>
<path d="M204.17 850.42V895.38M198.77 850.42H209.57M198.77 895.38H209.57" stroke="#000" stroke-width="2.3" fill="none"/>
<path d="M235.2 899.44V952.52M229.8 899.44H240.6M229.8 952.52H240.6" stroke="#000" stroke-width="2.3" fill="none"/>
<path d="M266.83 886.54V967.63M261.43 886.54H272.23M261.43 967.63H272.23" stroke="#000" stroke-width="2.3" fill="none"/>
<rect x="352" y="876.48" width="31.33" height="365.02" fill="#a6a6a6" stroke="#000" stroke-width="2.3"/>
<rect x="383.33" y="1014.71" width="31.33" height="226.79" fill="#262626" stroke="#000" stroke-width="2.3"/>
<rect x="414.67" y="947.62" width="31.33" height="293.88" fill="url(#hatch)" stroke="#000" stroke-width="2.3"/>
<path d="M367.67 853V897.96M362.27 853H373.07M362.27 897.96H373.07" stroke="#000" stroke-width="2.3" fill="none"/>
<path d="M398.7 987.53V1039.88M393.3 987.53H404.1M393.3 1039.88H404.1" stroke="#000" stroke-width="2.3" fill="none"/>
<path d="M430.33 906.44V986.8M424.93 906.44H435.73M424.93 986.8H435.73" stroke="#000" stroke-width="2.3" fill="none"/>
<rect x="513.21" y="897.12" width="31.33" height="344.38" fill="#a6a6a6" stroke="#000" stroke-width="2.3"/>
<rect x="544.54" y="1044.93" width="31.33" height="196.57" fill="#262626" stroke="#000" stroke-width="2.3"/>
<rect x="575.87" y="1015.07" width="31.33" height="226.43" fill="url(#hatch)" stroke="#000" stroke-width="2.3"/>
<path d="M528.87 873.82V918.42M523.47 873.82H534.27M523.47 918.42H534.27" stroke="#000" stroke-width="2.3" fill="none"/>
<path d="M559.9 1017.58V1070.29M554.5 1017.58H565.3M554.5 1070.29H565.3" stroke="#000" stroke-width="2.3" fill="none"/>
<path d="M591.53 973.53V1054.62M586.13 973.53H596.93M586.13 1054.62H596.93" stroke="#000" stroke-width="2.3" fill="none"/>
<rect x="676.11" y="966.05" width="31.33" height="275.45" fill="#a6a6a6" stroke="#000" stroke-width="2.3"/>
<rect x="707.44" y="1066.68" width="31.33" height="174.82" fill="#262626" stroke="#000" stroke-width="2.3"/>
<rect x="738.76" y="1104.64" width="31.33" height="136.86" fill="url(#hatch)" stroke="#000" stroke-width="2.3"/>
<path d="M691.77 942.93V987.17M686.37 942.93H697.17M686.37 987.17H697.17" stroke="#000" stroke-width="2.3" fill="none"/>
<path d="M722.8 1039.51V1091.85M717.4 1039.51H728.2M717.4 1091.85H728.2" stroke="#000" stroke-width="2.3" fill="none"/>
<path d="M754.43 1062.73V1144.56M749.03 1062.73H759.83M749.03 1144.56H759.83" stroke="#000" stroke-width="2.3" fill="none"/>
<rect x="837.71" y="978.95" width="31.33" height="262.55" fill="#a6a6a6" stroke="#000" stroke-width="2.3"/>
<rect x="869.04" y="1070" width="31.33" height="171.5" fill="#262626" stroke="#000" stroke-width="2.3"/>
<rect x="900.37" y="1131.18" width="31.33" height="110.32" fill="url(#hatch)" stroke="#000" stroke-width="2.3"/>
<path d="M853.37 955.65V1000.25M847.97 955.65H858.77M847.97 1000.25H858.77" stroke="#000" stroke-width="2.3" fill="none"/>
<path d="M884.4 1042.82V1095.17M879 1042.82H889.8M879 1095.17H889.8" stroke="#000" stroke-width="2.3" fill="none"/>
<path d="M916.03 1089.27V1171.1M910.63 1089.27H921.43M910.63 1171.1H921.43" stroke="#000" stroke-width="2.3" fill="none"/>
<line x1="155" y1="836.7" x2="155" y2="1242.8" stroke="#000" stroke-width="1.6"/>
<line x1="155" y1="1241.5" x2="964.6" y2="1241.5" stroke="#000" stroke-width="2.6"/>
<line x1="145.7" y1="1241.5" x2="155" y2="1241.5" stroke="#000" stroke-width="1.6"/>
<text x="130.52" y="1251.6" font-size="31.76" text-anchor="end" fill="#000" font-family="'Liberation Sans', Arial, sans-serif" textLength="16.4" lengthAdjust="spacingAndGlyphs">0</text>
<line x1="145.7" y1="1167.78" x2="155" y2="1167.78" stroke="#000" stroke-width="1.6"/>
<text x="130.52" y="1177.88" font-size="31.76" text-anchor="end" fill="#000" font-family="'Liberation Sans', Arial, sans-serif" textLength="32.81" lengthAdjust="spacingAndGlyphs">20</text>
<line x1="145.7" y1="1094.06" x2="155" y2="1094.06" stroke="#000" stroke-width="1.6"/>
<text x="130.52" y="1104.16" font-size="31.76" text-anchor="end" fill="#000" font-family="'Liberation Sans', Arial, sans-serif" textLength="32.81" lengthAdjust="spacingAndGlyphs">40</text>
<line x1="145.7" y1="1020.34" x2="155" y2="1020.34" stroke="#000" stroke-width="1.6"/>
<text x="130.52" y="1030.44" font-size="31.76" text-anchor="end" fill="#000" font-family="'Liberation Sans', Arial, sans-serif" textLength="32.81" lengthAdjust="spacingAndGlyphs">60</text>
<line x1="145.7" y1="946.62" x2="155" y2="946.62" stroke="#000" stroke-width="1.6"/>
<text x="130.52" y="956.72" font-size="31.76" text-anchor="end" fill="#000" font-family="'Liberation Sans', Arial, sans-serif" textLength="32.81" lengthAdjust="spacingAndGlyphs">80</text>
<line x1="145.7" y1="872.9" x2="155" y2="872.9" stroke="#000" stroke-width="1.6"/>
<text x="130.52" y="883" font-size="31.76" text-anchor="end" fill="#000" font-family="'Liberation Sans', Arial, sans-serif" textLength="49.21" lengthAdjust="spacingAndGlyphs">100</text>
<line x1="155" y1="1241.5" x2="155" y2="1250.5" stroke="#000" stroke-width="2.2"/>
<line x1="317.1" y1="1241.5" x2="317.1" y2="1250.5" stroke="#000" stroke-width="2.2"/>
<line x1="478.3" y1="1241.5" x2="478.3" y2="1250.5" stroke="#000" stroke-width="2.2"/>
<line x1="640.7" y1="1241.5" x2="640.7" y2="1250.5" stroke="#000" stroke-width="2.2"/>
<line x1="804.4" y1="1241.5" x2="804.4" y2="1250.5" stroke="#000" stroke-width="2.2"/>
<line x1="202.4" y1="805.3" x2="243.2" y2="805.3" stroke="#000" stroke-width="2.8" stroke-linecap="round"/>
<line x1="202.4" y1="838.6" x2="263.5" y2="838.6" stroke="#000" stroke-width="2.8" stroke-linecap="round"/>
<line x1="365.7" y1="804.8" x2="406.1" y2="804.8" stroke="#000" stroke-width="2.8" stroke-linecap="round"/>
<line x1="365.7" y1="838.4" x2="426.5" y2="838.4" stroke="#000" stroke-width="2.8" stroke-linecap="round"/>
<line x1="524.8" y1="809.1" x2="566" y2="809.1" stroke="#000" stroke-width="2.8" stroke-linecap="round"/>
<line x1="524.8" y1="843.7" x2="586.4" y2="843.7" stroke="#000" stroke-width="2.8" stroke-linecap="round"/>
<line x1="688.8" y1="889.3" x2="729.1" y2="889.3" stroke="#000" stroke-width="2.8" stroke-linecap="round"/>
<line x1="689.8" y1="923.9" x2="750.8" y2="923.9" stroke="#000" stroke-width="2.8" stroke-linecap="round"/>
<line x1="851.7" y1="904.5" x2="892.3" y2="904.5" stroke="#000" stroke-width="2.8" stroke-linecap="round"/>
<line x1="851.7" y1="939.1" x2="912.7" y2="939.1" stroke="#000" stroke-width="2.8" stroke-linecap="round"/>
<rect x="1230.48" y="874" width="30.95" height="356.8" fill="#a6a6a6" stroke="#000" stroke-width="2.2"/>
<rect x="1261.43" y="914.79" width="30.95" height="316.01" fill="#262626" stroke="#000" stroke-width="2.2"/>
<rect x="1292.38" y="874" width="30.95" height="356.8" fill="url(#hatch)" stroke="#000" stroke-width="2.2"/>
<path d="M1245.95 855.47V890.53M1240.7 855.47H1251.2M1240.7 890.53H1251.2" stroke="#000" stroke-width="2.2" fill="none"/>
<path d="M1276.9 884.45V943.13M1271.65 884.45H1282.15M1271.65 943.13H1282.15" stroke="#000" stroke-width="2.2" fill="none"/>
<path d="M1307.85 849.74V896.26M1302.6 849.74H1313.1M1302.6 896.26H1313.1" stroke="#000" stroke-width="2.2" fill="none"/>
<rect x="1393.17" y="874" width="30.95" height="356.8" fill="#a6a6a6" stroke="#000" stroke-width="2.2"/>
<rect x="1424.12" y="944.84" width="30.95" height="285.96" fill="#262626" stroke="#000" stroke-width="2.2"/>
<rect x="1455.07" y="874" width="30.95" height="356.8" fill="url(#hatch)" stroke="#000" stroke-width="2.2"/>
<path d="M1408.65 855.47V890.53M1403.4 855.47H1413.9M1403.4 890.53H1413.9" stroke="#000" stroke-width="2.2" fill="none"/>
<path d="M1439.6 914.5V973.18M1434.35 914.5H1444.85M1434.35 973.18H1444.85" stroke="#000" stroke-width="2.2" fill="none"/>
<path d="M1470.55 849.74V896.26M1465.3 849.74H1475.8M1465.3 896.26H1475.8" stroke="#000" stroke-width="2.2" fill="none"/>
<rect x="1553.48" y="896.18" width="30.95" height="334.62" fill="#a6a6a6" stroke="#000" stroke-width="2.2"/>
<rect x="1584.43" y="992.07" width="30.95" height="238.73" fill="#262626" stroke="#000" stroke-width="2.2"/>
<rect x="1615.38" y="914.43" width="30.95" height="316.37" fill="url(#hatch)" stroke="#000" stroke-width="2.2"/>
<path d="M1568.95 878.72V911.64M1563.7 878.72H1574.2M1563.7 911.64H1574.2" stroke="#000" stroke-width="2.2" fill="none"/>
<path d="M1599.9 961.73V1020.41M1594.65 961.73H1605.15M1594.65 1020.41H1605.15" stroke="#000" stroke-width="2.2" fill="none"/>
<path d="M1630.85 890.17V936.69M1625.6 890.17H1636.1M1625.6 936.69H1636.1" stroke="#000" stroke-width="2.2" fill="none"/>
<rect x="1714.88" y="921.95" width="30.95" height="308.85" fill="#a6a6a6" stroke="#000" stroke-width="2.2"/>
<rect x="1745.83" y="1054.69" width="30.95" height="176.11" fill="#262626" stroke="#000" stroke-width="2.2"/>
<rect x="1776.77" y="967.74" width="30.95" height="263.06" fill="url(#hatch)" stroke="#000" stroke-width="2.2"/>
<path d="M1730.35 903.41V938.48M1725.1 903.41H1735.6M1725.1 938.48H1735.6" stroke="#000" stroke-width="2.2" fill="none"/>
<path d="M1761.3 1023.28V1084.1M1756.05 1023.28H1766.55M1756.05 1084.1H1766.55" stroke="#000" stroke-width="2.2" fill="none"/>
<path d="M1792.25 943.84V989.64M1787 943.84H1797.5M1787 989.64H1797.5" stroke="#000" stroke-width="2.2" fill="none"/>
<rect x="1875.88" y="963.45" width="30.95" height="267.35" fill="#a6a6a6" stroke="#000" stroke-width="2.2"/>
<rect x="1906.83" y="1069" width="30.95" height="161.8" fill="#262626" stroke="#000" stroke-width="2.2"/>
<rect x="1937.77" y="983.49" width="30.95" height="247.31" fill="url(#hatch)" stroke="#000" stroke-width="2.2"/>
<path d="M1891.35 945.28V979.62M1886.1 945.28H1896.6M1886.1 979.62H1896.6" stroke="#000" stroke-width="2.2" fill="none"/>
<path d="M1922.3 1038.66V1097.34M1917.05 1038.66H1927.55M1917.05 1097.34H1927.55" stroke="#000" stroke-width="2.2" fill="none"/>
<path d="M1953.25 959.59V1005.39M1948 959.59H1958.5M1948 1005.39H1958.5" stroke="#000" stroke-width="2.2" fill="none"/>
<line x1="1196.3" y1="837.7" x2="1196.3" y2="1232" stroke="#000" stroke-width="1.6"/>
<line x1="1196.3" y1="1230.8" x2="2003" y2="1230.8" stroke="#000" stroke-width="2.4"/>
<line x1="1187" y1="1230.8" x2="1196.3" y2="1230.8" stroke="#000" stroke-width="1.6"/>
<text x="1172.57" y="1239.65" font-size="22.3" text-anchor="end" fill="#000" font-family="'DejaVu Sans Condensed', 'DejaVu Sans', sans-serif" textLength="13.98" lengthAdjust="spacingAndGlyphs">0</text>
<line x1="1187" y1="1159.24" x2="1196.3" y2="1159.24" stroke="#000" stroke-width="1.6"/>
<text x="1172.57" y="1168.09" font-size="22.3" text-anchor="end" fill="#000" font-family="'DejaVu Sans Condensed', 'DejaVu Sans', sans-serif" textLength="27.95" lengthAdjust="spacingAndGlyphs">20</text>
<line x1="1187" y1="1087.68" x2="1196.3" y2="1087.68" stroke="#000" stroke-width="1.6"/>
<text x="1172.57" y="1096.53" font-size="22.3" text-anchor="end" fill="#000" font-family="'DejaVu Sans Condensed', 'DejaVu Sans', sans-serif" textLength="27.95" lengthAdjust="spacingAndGlyphs">40</text>
<line x1="1187" y1="1016.12" x2="1196.3" y2="1016.12" stroke="#000" stroke-width="1.6"/>
<text x="1172.57" y="1024.97" font-size="22.3" text-anchor="end" fill="#000" font-family="'DejaVu Sans Condensed', 'DejaVu Sans', sans-serif" textLength="27.95" lengthAdjust="spacingAndGlyphs">60</text>
<line x1="1187" y1="944.56" x2="1196.3" y2="944.56" stroke="#000" stroke-width="1.6"/>
<text x="1172.57" y="953.41" font-size="22.3" text-anchor="end" fill="#000" font-family="'DejaVu Sans Condensed', 'DejaVu Sans', sans-serif" textLength="27.95" lengthAdjust="spacingAndGlyphs">80</text>
<line x1="1187" y1="873" x2="1196.3" y2="873" stroke="#000" stroke-width="1.6"/>
<text x="1172.57" y="881.85" font-size="22.3" text-anchor="end" fill="#000" font-family="'DejaVu Sans Condensed', 'DejaVu Sans', sans-serif" textLength="41.93" lengthAdjust="spacingAndGlyphs">100</text>
<line x1="1196.4" y1="1230.8" x2="1196.4" y2="1240.1" stroke="#000" stroke-width="2.2"/>
<line x1="1358.2" y1="1230.8" x2="1358.2" y2="1240.1" stroke="#000" stroke-width="2.2"/>
<line x1="1518.7" y1="1230.8" x2="1518.7" y2="1240.1" stroke="#000" stroke-width="2.2"/>
<line x1="1680.5" y1="1230.8" x2="1680.5" y2="1240.1" stroke="#000" stroke-width="2.2"/>
<line x1="1840.9" y1="1230.8" x2="1840.9" y2="1240.1" stroke="#000" stroke-width="2.2"/>
<line x1="2002.2" y1="1230.8" x2="2002.2" y2="1240.1" stroke="#000" stroke-width="2.2"/>
<line x1="1243" y1="810.6" x2="1282.4" y2="810.6" stroke="#000" stroke-width="2.4" stroke-linecap="round"/>
<line x1="1245.5" y1="843.5" x2="1304.1" y2="843.5" stroke="#000" stroke-width="2.4" stroke-linecap="round"/>
<line x1="1402.5" y1="810.6" x2="1441.6" y2="810.6" stroke="#000" stroke-width="2.4" stroke-linecap="round"/>
<line x1="1402.5" y1="843.5" x2="1461" y2="843.5" stroke="#000" stroke-width="2.4" stroke-linecap="round"/>
<line x1="1567.3" y1="828" x2="1606.4" y2="828" stroke="#000" stroke-width="2.4" stroke-linecap="round"/>
<line x1="1568.5" y1="861.4" x2="1627" y2="861.4" stroke="#000" stroke-width="2.4" stroke-linecap="round"/>
<line x1="1730.4" y1="868.9" x2="1769.6" y2="868.9" stroke="#000" stroke-width="2.4" stroke-linecap="round"/>
<line x1="1731.2" y1="902" x2="1789" y2="902" stroke="#000" stroke-width="2.4" stroke-linecap="round"/>
<line x1="1893.6" y1="904.5" x2="1932.7" y2="904.5" stroke="#000" stroke-width="2.4" stroke-linecap="round"/>
<line x1="1889.9" y1="938.9" x2="1948.4" y2="938.9" stroke="#000" stroke-width="2.4" stroke-linecap="round"/>
<circle cx="1433.6" cy="866.6" r="0.9" fill="#000"/>
<circle cx="1917.3" cy="960.5" r="0.9" fill="#000"/>
<rect x="141.05" y="1344.85" width="15.2" height="13.6" fill="#a6a6a6" stroke="#000" stroke-width="2.3"/>
<rect x="327.35" y="1345.15" width="14.1" height="13.6" fill="#262626" stroke="#000" stroke-width="2.3"/>
<rect x="572.15" y="1345.15" width="13.8" height="13.6" fill="#fff" stroke="#000" stroke-width="2.3"/>
<rect x="1241.95" y="1315.55" width="14.9" height="15" fill="#a6a6a6" stroke="#000" stroke-width="2.3"/>
<rect x="1426.75" y="1315.35" width="14.1" height="15.2" fill="#262626" stroke="#000" stroke-width="2.3"/>
<rect x="1662.95" y="1315.35" width="14.5" height="15.2" fill="#fff" stroke="#000" stroke-width="2.3"/>
<g clip-path="url(#clipLB)"><line x1="573.8" y1="1347.6" x2="583" y2="1357.4" stroke="#000" stroke-width="2.8"/></g>
<g clip-path="url(#clipLC)"><line x1="1668.5" y1="1314" x2="1680" y2="1326" stroke="#000" stroke-width="3.4"/><line x1="1660" y1="1317.3" x2="1674.5" y2="1332.5" stroke="#000" stroke-width="3.6"/></g>
</svg>
</body></html>
